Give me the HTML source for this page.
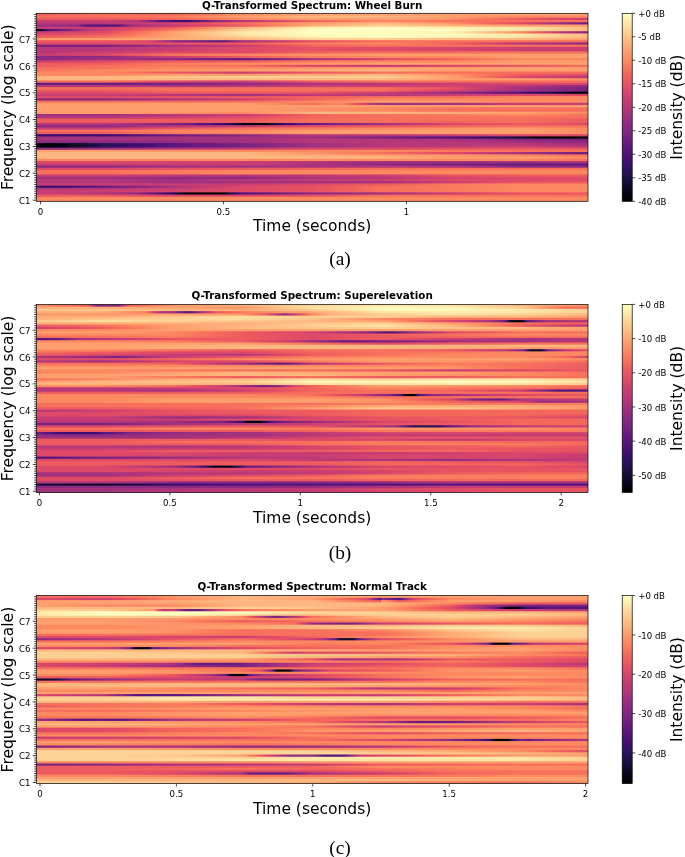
<!DOCTYPE html>
<html><head><meta charset="utf-8"><title>Q-Transformed Spectra</title>
<style>html,body{margin:0;padding:0;background:#fff}svg{display:block}text{opacity:.999;font-family:"DejaVu Sans","Liberation Sans",sans-serif;fill:#000}.t{font-size:8.6px}.l{font-size:15.5px}.h{font-size:10.35px;font-weight:bold}.c{font-family:"Liberation Serif","DejaVu Serif",serif;font-size:19.4px}</style></head><body>
<svg width="685" height="857" viewBox="0 0 685 857">
<rect width="685" height="857" fill="#fff"/>
<defs><filter id="vb" x="-0.01" y="-0.01" width="1.02" height="1.02"><feGaussianBlur stdDeviation="0 0.55"/></filter><linearGradient id="cb0" x1="0" y1="0" x2="0" y2="1"><stop offset="0.000" stop-color="#fcfdbf"/><stop offset="0.042" stop-color="#fdebac"/><stop offset="0.083" stop-color="#fed799"/><stop offset="0.125" stop-color="#fec488"/><stop offset="0.167" stop-color="#feb078"/><stop offset="0.208" stop-color="#fd9b6b"/><stop offset="0.250" stop-color="#fc8961"/><stop offset="0.292" stop-color="#f8745c"/><stop offset="0.333" stop-color="#f1605d"/><stop offset="0.375" stop-color="#e75263"/><stop offset="0.417" stop-color="#d8456c"/><stop offset="0.458" stop-color="#c73d73"/><stop offset="0.500" stop-color="#b73779"/><stop offset="0.542" stop-color="#a5317e"/><stop offset="0.583" stop-color="#932b80"/><stop offset="0.625" stop-color="#832681"/><stop offset="0.667" stop-color="#721f81"/><stop offset="0.708" stop-color="#601880"/><stop offset="0.750" stop-color="#51127c"/><stop offset="0.792" stop-color="#3f0f72"/><stop offset="0.833" stop-color="#2c115f"/><stop offset="0.875" stop-color="#1d1147"/><stop offset="0.917" stop-color="#100b2d"/><stop offset="0.958" stop-color="#050416"/><stop offset="1.000" stop-color="#000004"/></linearGradient><linearGradient id="g0_0"><stop offset="0.000" stop-color="#ed5a5f"/><stop offset="0.125" stop-color="#f7705c"/><stop offset="0.250" stop-color="#f2645c"/><stop offset="0.312" stop-color="#f8765c"/><stop offset="0.375" stop-color="#fc8961"/><stop offset="0.500" stop-color="#fe9f6d"/><stop offset="0.625" stop-color="#fe9f6d"/><stop offset="0.750" stop-color="#fe9f6d"/><stop offset="0.875" stop-color="#fe9f6d"/><stop offset="1.000" stop-color="#fe9f6d"/></linearGradient><linearGradient id="g0_1"><stop offset="0.000" stop-color="#f7705c"/><stop offset="0.125" stop-color="#f7705c"/><stop offset="0.250" stop-color="#f97b5d"/><stop offset="0.312" stop-color="#fc8e64"/><stop offset="0.375" stop-color="#fe9f6d"/><stop offset="0.500" stop-color="#feb77e"/><stop offset="0.625" stop-color="#feb77e"/><stop offset="0.750" stop-color="#fe9f6d"/><stop offset="0.875" stop-color="#fc8961"/><stop offset="1.000" stop-color="#fc8961"/></linearGradient><linearGradient id="g0_2"><stop offset="0.000" stop-color="#ed5a5f"/><stop offset="0.125" stop-color="#ed5a5f"/><stop offset="0.250" stop-color="#f2645c"/><stop offset="0.312" stop-color="#f8765c"/><stop offset="0.375" stop-color="#fc8961"/><stop offset="0.500" stop-color="#fe9f6d"/><stop offset="0.625" stop-color="#fe9f6d"/><stop offset="0.750" stop-color="#fd9467"/><stop offset="0.792" stop-color="#fa7f5e"/><stop offset="0.833" stop-color="#f66c5c"/><stop offset="0.875" stop-color="#ed5a5f"/><stop offset="0.937" stop-color="#de4968"/><stop offset="1.000" stop-color="#ca3e72"/></linearGradient><linearGradient id="g0_3"><stop offset="0.000" stop-color="#ca3e72"/><stop offset="0.125" stop-color="#ca3e72"/><stop offset="0.188" stop-color="#b73779"/><stop offset="0.197" stop-color="#a1307e"/><stop offset="0.206" stop-color="#8c2981"/><stop offset="0.215" stop-color="#782281"/><stop offset="0.224" stop-color="#641a80"/><stop offset="0.237" stop-color="#56147d"/><stop offset="0.250" stop-color="#451077"/><stop offset="0.279" stop-color="#3b0f70"/><stop offset="0.290" stop-color="#51127c"/><stop offset="0.301" stop-color="#641a80"/><stop offset="0.313" stop-color="#782281"/><stop offset="0.324" stop-color="#8c2981"/><stop offset="0.349" stop-color="#a1307e"/><stop offset="0.375" stop-color="#b73779"/><stop offset="0.416" stop-color="#cd4071"/><stop offset="0.458" stop-color="#e34e65"/><stop offset="0.500" stop-color="#f2645c"/><stop offset="0.562" stop-color="#f8765c"/><stop offset="0.625" stop-color="#fc8961"/><stop offset="0.750" stop-color="#f7705c"/><stop offset="0.875" stop-color="#f7705c"/><stop offset="1.000" stop-color="#f7705c"/></linearGradient><linearGradient id="g0_4"><stop offset="0.000" stop-color="#b73779"/><stop offset="0.125" stop-color="#b73779"/><stop offset="0.187" stop-color="#c53c74"/><stop offset="0.250" stop-color="#d5446d"/><stop offset="0.291" stop-color="#e34e65"/><stop offset="0.333" stop-color="#ef5d5e"/><stop offset="0.375" stop-color="#f7705c"/><stop offset="0.437" stop-color="#fc8961"/><stop offset="0.500" stop-color="#fe9f6d"/><stop offset="0.625" stop-color="#feb77e"/><stop offset="0.687" stop-color="#fea772"/><stop offset="0.750" stop-color="#fd9467"/><stop offset="0.792" stop-color="#f9785d"/><stop offset="0.833" stop-color="#ef5d5e"/><stop offset="0.875" stop-color="#de4968"/><stop offset="0.900" stop-color="#c73d73"/><stop offset="0.925" stop-color="#ad347c"/><stop offset="0.950" stop-color="#942c80"/><stop offset="0.975" stop-color="#7c2382"/><stop offset="1.000" stop-color="#641a80"/></linearGradient><linearGradient id="g0_5"><stop offset="0.000" stop-color="#a1307e"/><stop offset="0.079" stop-color="#8c2981"/><stop offset="0.085" stop-color="#782281"/><stop offset="0.091" stop-color="#641a80"/><stop offset="0.097" stop-color="#51127c"/><stop offset="0.125" stop-color="#51127c"/><stop offset="0.152" stop-color="#51127c"/><stop offset="0.159" stop-color="#641a80"/><stop offset="0.165" stop-color="#782281"/><stop offset="0.172" stop-color="#8c2981"/><stop offset="0.179" stop-color="#a1307e"/><stop offset="0.214" stop-color="#b0357b"/><stop offset="0.250" stop-color="#c03a76"/><stop offset="0.291" stop-color="#d2426f"/><stop offset="0.333" stop-color="#e04c67"/><stop offset="0.375" stop-color="#ed5a5f"/><stop offset="0.416" stop-color="#f8745c"/><stop offset="0.458" stop-color="#fc9065"/><stop offset="0.500" stop-color="#feac76"/><stop offset="0.562" stop-color="#febd82"/><stop offset="0.625" stop-color="#fecf92"/><stop offset="0.750" stop-color="#feb77e"/><stop offset="0.875" stop-color="#fe9f6d"/><stop offset="1.000" stop-color="#fe9f6d"/></linearGradient><linearGradient id="g0_6"><stop offset="0.000" stop-color="#ca3e72"/><stop offset="0.125" stop-color="#ca3e72"/><stop offset="0.187" stop-color="#de4968"/><stop offset="0.250" stop-color="#ed5a5f"/><stop offset="0.281" stop-color="#f7705c"/><stop offset="0.312" stop-color="#fc8961"/><stop offset="0.343" stop-color="#fe9f6d"/><stop offset="0.375" stop-color="#feb77e"/><stop offset="0.416" stop-color="#fecc8f"/><stop offset="0.458" stop-color="#fddea0"/><stop offset="0.500" stop-color="#fcf2b4"/><stop offset="0.625" stop-color="#fcfdbf"/><stop offset="0.750" stop-color="#fcf2b4"/><stop offset="0.875" stop-color="#fde7a9"/><stop offset="0.937" stop-color="#fecf92"/><stop offset="1.000" stop-color="#feb77e"/></linearGradient><linearGradient id="g0_7"><stop offset="0.000" stop-color="#03030f"/><stop offset="0.007" stop-color="#0a0822"/><stop offset="0.014" stop-color="#140e36"/><stop offset="0.019" stop-color="#251255"/><stop offset="0.024" stop-color="#3b0f70"/><stop offset="0.028" stop-color="#51127c"/><stop offset="0.045" stop-color="#641a80"/><stop offset="0.061" stop-color="#782281"/><stop offset="0.073" stop-color="#8c2981"/><stop offset="0.085" stop-color="#a1307e"/><stop offset="0.097" stop-color="#b73779"/><stop offset="0.125" stop-color="#ca3e72"/><stop offset="0.166" stop-color="#e24d66"/><stop offset="0.208" stop-color="#f2625d"/><stop offset="0.250" stop-color="#fa7d5e"/><stop offset="0.291" stop-color="#fd9a6a"/><stop offset="0.333" stop-color="#feb47b"/><stop offset="0.375" stop-color="#fecf92"/><stop offset="0.437" stop-color="#fde7a9"/><stop offset="0.500" stop-color="#fcfdbf"/><stop offset="0.625" stop-color="#fcfdbf"/><stop offset="0.750" stop-color="#fcfdbf"/><stop offset="0.875" stop-color="#fde7a9"/><stop offset="0.937" stop-color="#fecf92"/><stop offset="1.000" stop-color="#feb77e"/></linearGradient><linearGradient id="g0_8"><stop offset="0.000" stop-color="#ca3e72"/><stop offset="0.125" stop-color="#de4968"/><stop offset="0.156" stop-color="#ed5a5f"/><stop offset="0.187" stop-color="#f7705c"/><stop offset="0.218" stop-color="#fc8961"/><stop offset="0.250" stop-color="#fea36f"/><stop offset="0.291" stop-color="#feb97f"/><stop offset="0.333" stop-color="#fecf92"/><stop offset="0.375" stop-color="#fde7a9"/><stop offset="0.500" stop-color="#fcfdbf"/><stop offset="0.625" stop-color="#fcfdbf"/><stop offset="0.750" stop-color="#fcf2b4"/><stop offset="0.781" stop-color="#fed89a"/><stop offset="0.812" stop-color="#febd82"/><stop offset="0.844" stop-color="#fea36f"/><stop offset="0.875" stop-color="#fc8961"/><stop offset="0.893" stop-color="#f66c5c"/><stop offset="0.911" stop-color="#e95462"/><stop offset="0.929" stop-color="#d6456c"/><stop offset="0.946" stop-color="#bf3a77"/><stop offset="0.964" stop-color="#a6317d"/><stop offset="0.982" stop-color="#902a81"/><stop offset="1.000" stop-color="#782281"/></linearGradient><linearGradient id="g0_9"><stop offset="0.000" stop-color="#de4968"/><stop offset="0.125" stop-color="#ed5a5f"/><stop offset="0.166" stop-color="#f7705c"/><stop offset="0.208" stop-color="#fc8961"/><stop offset="0.250" stop-color="#fea36f"/><stop offset="0.291" stop-color="#feb97f"/><stop offset="0.333" stop-color="#fecf92"/><stop offset="0.375" stop-color="#fde7a9"/><stop offset="0.500" stop-color="#fcfdbf"/><stop offset="0.625" stop-color="#fcfdbf"/><stop offset="0.750" stop-color="#fcfdbf"/><stop offset="0.875" stop-color="#fde7a9"/><stop offset="0.937" stop-color="#fecf92"/><stop offset="1.000" stop-color="#feb77e"/></linearGradient><linearGradient id="g0_10"><stop offset="0.000" stop-color="#ed5a5f"/><stop offset="0.125" stop-color="#f7705c"/><stop offset="0.187" stop-color="#fc8961"/><stop offset="0.250" stop-color="#fea36f"/><stop offset="0.312" stop-color="#feb97f"/><stop offset="0.375" stop-color="#fecf92"/><stop offset="0.437" stop-color="#fde2a3"/><stop offset="0.500" stop-color="#fcf2b4"/><stop offset="0.625" stop-color="#fcfdbf"/><stop offset="0.750" stop-color="#fcf2b4"/><stop offset="0.875" stop-color="#fde7a9"/><stop offset="0.937" stop-color="#fecf92"/><stop offset="1.000" stop-color="#feb77e"/></linearGradient><linearGradient id="g0_11"><stop offset="0.000" stop-color="#fe9f6d"/><stop offset="0.125" stop-color="#fe9f6d"/><stop offset="0.250" stop-color="#feae77"/><stop offset="0.375" stop-color="#feb77e"/><stop offset="0.500" stop-color="#fecf92"/><stop offset="0.625" stop-color="#fecf92"/><stop offset="0.750" stop-color="#feb77e"/><stop offset="0.875" stop-color="#feb77e"/><stop offset="1.000" stop-color="#fe9f6d"/></linearGradient><linearGradient id="g0_12"><stop offset="0.000" stop-color="#ed5a5f"/><stop offset="0.125" stop-color="#ed5a5f"/><stop offset="0.206" stop-color="#de4968"/><stop offset="0.217" stop-color="#ca3e72"/><stop offset="0.228" stop-color="#b73779"/><stop offset="0.239" stop-color="#a1307e"/><stop offset="0.250" stop-color="#8c2981"/><stop offset="0.296" stop-color="#782281"/><stop offset="0.342" stop-color="#641a80"/><stop offset="0.353" stop-color="#782281"/><stop offset="0.364" stop-color="#8c2981"/><stop offset="0.375" stop-color="#a1307e"/><stop offset="0.416" stop-color="#ba3878"/><stop offset="0.458" stop-color="#d2426f"/><stop offset="0.500" stop-color="#e75263"/><stop offset="0.562" stop-color="#f05f5e"/><stop offset="0.625" stop-color="#f7705c"/><stop offset="0.750" stop-color="#f7705c"/><stop offset="0.875" stop-color="#f7705c"/><stop offset="1.000" stop-color="#f7705c"/></linearGradient><linearGradient id="g0_13"><stop offset="0.000" stop-color="#de4968"/><stop offset="0.125" stop-color="#de4968"/><stop offset="0.250" stop-color="#e75263"/><stop offset="0.375" stop-color="#ed5a5f"/><stop offset="0.437" stop-color="#f56b5c"/><stop offset="0.500" stop-color="#f97b5d"/><stop offset="0.625" stop-color="#fc8961"/><stop offset="0.687" stop-color="#f8765c"/><stop offset="0.750" stop-color="#f2645c"/><stop offset="0.792" stop-color="#e34e65"/><stop offset="0.833" stop-color="#cd4071"/><stop offset="0.875" stop-color="#b73779"/><stop offset="0.937" stop-color="#a1307e"/><stop offset="1.000" stop-color="#8c2981"/></linearGradient><linearGradient id="g0_14"><stop offset="0.000" stop-color="#782281"/><stop offset="0.125" stop-color="#782281"/><stop offset="0.166" stop-color="#892881"/><stop offset="0.208" stop-color="#992d80"/><stop offset="0.250" stop-color="#ab337c"/><stop offset="0.312" stop-color="#bc3978"/><stop offset="0.375" stop-color="#ca3e72"/><stop offset="0.416" stop-color="#db476a"/><stop offset="0.458" stop-color="#e95462"/><stop offset="0.500" stop-color="#f2645c"/><stop offset="0.625" stop-color="#f7705c"/><stop offset="0.750" stop-color="#f7705c"/><stop offset="0.875" stop-color="#f7705c"/><stop offset="1.000" stop-color="#f7705c"/></linearGradient><linearGradient id="g0_15"><stop offset="0.000" stop-color="#b73779"/><stop offset="0.125" stop-color="#b73779"/><stop offset="0.250" stop-color="#ca3e72"/><stop offset="0.375" stop-color="#de4968"/><stop offset="0.500" stop-color="#e75263"/><stop offset="0.625" stop-color="#de4968"/><stop offset="0.750" stop-color="#d5446d"/><stop offset="0.875" stop-color="#ca3e72"/><stop offset="1.000" stop-color="#ca3e72"/></linearGradient><linearGradient id="g0_16"><stop offset="0.000" stop-color="#b73779"/><stop offset="0.125" stop-color="#b73779"/><stop offset="0.250" stop-color="#ca3e72"/><stop offset="0.375" stop-color="#de4968"/><stop offset="0.500" stop-color="#e75263"/><stop offset="0.625" stop-color="#de4968"/><stop offset="0.750" stop-color="#d5446d"/><stop offset="0.875" stop-color="#ca3e72"/><stop offset="1.000" stop-color="#ca3e72"/></linearGradient><linearGradient id="g0_17"><stop offset="0.000" stop-color="#b73779"/><stop offset="0.125" stop-color="#ca3e72"/><stop offset="0.250" stop-color="#de4968"/><stop offset="0.375" stop-color="#de4968"/><stop offset="0.437" stop-color="#ea5661"/><stop offset="0.500" stop-color="#f2645c"/><stop offset="0.625" stop-color="#f7705c"/><stop offset="0.750" stop-color="#f7705c"/><stop offset="0.875" stop-color="#f7705c"/><stop offset="1.000" stop-color="#f7705c"/></linearGradient><linearGradient id="g0_18"><stop offset="0.000" stop-color="#ca3e72"/><stop offset="0.125" stop-color="#de4968"/><stop offset="0.166" stop-color="#eb5760"/><stop offset="0.208" stop-color="#f4675c"/><stop offset="0.250" stop-color="#f97b5d"/><stop offset="0.375" stop-color="#fc8961"/><stop offset="0.500" stop-color="#fd9467"/><stop offset="0.625" stop-color="#fe9f6d"/><stop offset="0.750" stop-color="#fe9f6d"/><stop offset="0.875" stop-color="#fe9f6d"/><stop offset="1.000" stop-color="#fe9f6d"/></linearGradient><linearGradient id="g0_19"><stop offset="0.000" stop-color="#8c2981"/><stop offset="0.125" stop-color="#8c2981"/><stop offset="0.166" stop-color="#a1307e"/><stop offset="0.208" stop-color="#b73779"/><stop offset="0.250" stop-color="#ca3e72"/><stop offset="0.312" stop-color="#de4968"/><stop offset="0.375" stop-color="#ed5a5f"/><stop offset="0.437" stop-color="#f56b5c"/><stop offset="0.500" stop-color="#f97b5d"/><stop offset="0.625" stop-color="#fc8961"/><stop offset="0.750" stop-color="#fc8961"/><stop offset="0.875" stop-color="#fe9f6d"/><stop offset="1.000" stop-color="#fe9f6d"/></linearGradient><linearGradient id="g0_20"><stop offset="0.000" stop-color="#8c2981"/><stop offset="0.125" stop-color="#a1307e"/><stop offset="0.250" stop-color="#8c2981"/><stop offset="0.312" stop-color="#782281"/><stop offset="0.375" stop-color="#641a80"/><stop offset="0.416" stop-color="#7b2382"/><stop offset="0.458" stop-color="#932b80"/><stop offset="0.500" stop-color="#ab337c"/><stop offset="0.541" stop-color="#bd3977"/><stop offset="0.583" stop-color="#cd4071"/><stop offset="0.625" stop-color="#de4968"/><stop offset="0.687" stop-color="#ea5661"/><stop offset="0.750" stop-color="#f2645c"/><stop offset="0.812" stop-color="#f8765c"/><stop offset="0.875" stop-color="#fc8961"/><stop offset="1.000" stop-color="#fc8961"/></linearGradient><linearGradient id="g0_21"><stop offset="0.000" stop-color="#ca3e72"/><stop offset="0.125" stop-color="#de4968"/><stop offset="0.250" stop-color="#ed5a5f"/><stop offset="0.375" stop-color="#ed5a5f"/><stop offset="0.437" stop-color="#f56b5c"/><stop offset="0.500" stop-color="#f97b5d"/><stop offset="0.625" stop-color="#fc8961"/><stop offset="0.750" stop-color="#fc8961"/><stop offset="0.875" stop-color="#fe9f6d"/><stop offset="1.000" stop-color="#fe9f6d"/></linearGradient><linearGradient id="g0_22"><stop offset="0.000" stop-color="#ed5a5f"/><stop offset="0.125" stop-color="#ed5a5f"/><stop offset="0.187" stop-color="#f56b5c"/><stop offset="0.250" stop-color="#f97b5d"/><stop offset="0.375" stop-color="#fc8961"/><stop offset="0.500" stop-color="#fd9467"/><stop offset="0.625" stop-color="#fe9f6d"/><stop offset="0.750" stop-color="#fe9f6d"/><stop offset="0.875" stop-color="#fe9f6d"/><stop offset="1.000" stop-color="#fe9f6d"/></linearGradient><linearGradient id="g0_23"><stop offset="0.000" stop-color="#ed5a5f"/><stop offset="0.125" stop-color="#f7705c"/><stop offset="0.250" stop-color="#f97b5d"/><stop offset="0.375" stop-color="#f7705c"/><stop offset="0.437" stop-color="#ed5a5f"/><stop offset="0.500" stop-color="#de4968"/><stop offset="0.625" stop-color="#ca3e72"/><stop offset="0.750" stop-color="#de4968"/><stop offset="0.875" stop-color="#ed5a5f"/><stop offset="1.000" stop-color="#f7705c"/></linearGradient><linearGradient id="g0_24"><stop offset="0.000" stop-color="#f7705c"/><stop offset="0.125" stop-color="#f7705c"/><stop offset="0.250" stop-color="#fc8961"/><stop offset="0.375" stop-color="#fc8961"/><stop offset="0.500" stop-color="#fd9467"/><stop offset="0.625" stop-color="#fe9f6d"/><stop offset="0.750" stop-color="#fe9f6d"/><stop offset="0.875" stop-color="#fe9f6d"/><stop offset="1.000" stop-color="#fe9f6d"/></linearGradient><linearGradient id="g0_25"><stop offset="0.000" stop-color="#f7705c"/><stop offset="0.125" stop-color="#fc8961"/><stop offset="0.250" stop-color="#fd9467"/><stop offset="0.375" stop-color="#fe9f6d"/><stop offset="0.500" stop-color="#feac76"/><stop offset="0.625" stop-color="#feb77e"/><stop offset="0.750" stop-color="#fe9f6d"/><stop offset="0.875" stop-color="#fe9f6d"/><stop offset="1.000" stop-color="#fe9f6d"/></linearGradient><linearGradient id="g0_26"><stop offset="0.000" stop-color="#fc8961"/><stop offset="0.125" stop-color="#fc8961"/><stop offset="0.187" stop-color="#f7705c"/><stop offset="0.250" stop-color="#ed5a5f"/><stop offset="0.312" stop-color="#de4968"/><stop offset="0.375" stop-color="#ca3e72"/><stop offset="0.437" stop-color="#de4968"/><stop offset="0.500" stop-color="#ed5a5f"/><stop offset="0.625" stop-color="#f7705c"/><stop offset="0.750" stop-color="#f7705c"/><stop offset="0.875" stop-color="#f7705c"/><stop offset="1.000" stop-color="#f7705c"/></linearGradient><linearGradient id="g0_27"><stop offset="0.000" stop-color="#fc8961"/><stop offset="0.125" stop-color="#fc8961"/><stop offset="0.250" stop-color="#fe9f6d"/><stop offset="0.375" stop-color="#fe9f6d"/><stop offset="0.500" stop-color="#feac76"/><stop offset="0.625" stop-color="#feb77e"/><stop offset="0.687" stop-color="#fea772"/><stop offset="0.750" stop-color="#fd9467"/><stop offset="0.792" stop-color="#fa7f5e"/><stop offset="0.833" stop-color="#f66c5c"/><stop offset="0.875" stop-color="#ed5a5f"/><stop offset="1.000" stop-color="#de4968"/></linearGradient><linearGradient id="g0_28"><stop offset="0.000" stop-color="#feb77e"/><stop offset="0.125" stop-color="#feb77e"/><stop offset="0.250" stop-color="#fec488"/><stop offset="0.375" stop-color="#fecf92"/><stop offset="0.500" stop-color="#fecf92"/><stop offset="0.625" stop-color="#fecf92"/><stop offset="0.687" stop-color="#feb77e"/><stop offset="0.750" stop-color="#fe9f6d"/><stop offset="0.781" stop-color="#fc8961"/><stop offset="0.812" stop-color="#f7705c"/><stop offset="0.844" stop-color="#ed5a5f"/><stop offset="0.875" stop-color="#de4968"/><stop offset="0.937" stop-color="#ca3e72"/><stop offset="1.000" stop-color="#b73779"/></linearGradient><linearGradient id="g0_29"><stop offset="0.000" stop-color="#feb77e"/><stop offset="0.125" stop-color="#feb77e"/><stop offset="0.250" stop-color="#feb77e"/><stop offset="0.375" stop-color="#feb77e"/><stop offset="0.500" stop-color="#feb77e"/><stop offset="0.625" stop-color="#feb77e"/><stop offset="0.750" stop-color="#fe9f6d"/><stop offset="0.875" stop-color="#fe9f6d"/><stop offset="1.000" stop-color="#fc8961"/></linearGradient><linearGradient id="g0_30"><stop offset="0.000" stop-color="#f7705c"/><stop offset="0.125" stop-color="#f7705c"/><stop offset="0.187" stop-color="#ed5a5f"/><stop offset="0.250" stop-color="#de4968"/><stop offset="0.375" stop-color="#ca3e72"/><stop offset="0.437" stop-color="#de4968"/><stop offset="0.500" stop-color="#ed5a5f"/><stop offset="0.625" stop-color="#f7705c"/><stop offset="0.750" stop-color="#f7705c"/><stop offset="0.875" stop-color="#f7705c"/><stop offset="1.000" stop-color="#f7705c"/></linearGradient><linearGradient id="g0_31"><stop offset="0.000" stop-color="#641a80"/><stop offset="0.125" stop-color="#641a80"/><stop offset="0.250" stop-color="#782281"/><stop offset="0.375" stop-color="#8c2981"/><stop offset="0.437" stop-color="#9c2e7f"/><stop offset="0.500" stop-color="#ab337c"/><stop offset="0.625" stop-color="#b73779"/><stop offset="0.750" stop-color="#ca3e72"/><stop offset="0.875" stop-color="#de4968"/><stop offset="1.000" stop-color="#de4968"/></linearGradient><linearGradient id="g0_32"><stop offset="0.000" stop-color="#b73779"/><stop offset="0.125" stop-color="#b73779"/><stop offset="0.250" stop-color="#ab337c"/><stop offset="0.375" stop-color="#b73779"/><stop offset="0.500" stop-color="#ca3e72"/><stop offset="0.625" stop-color="#ca3e72"/><stop offset="0.750" stop-color="#d5446d"/><stop offset="0.812" stop-color="#c53c74"/><stop offset="0.875" stop-color="#b73779"/><stop offset="0.937" stop-color="#a1307e"/><stop offset="1.000" stop-color="#8c2981"/></linearGradient><linearGradient id="g0_33"><stop offset="0.000" stop-color="#f7705c"/><stop offset="0.125" stop-color="#f7705c"/><stop offset="0.250" stop-color="#f7705c"/><stop offset="0.375" stop-color="#f7705c"/><stop offset="0.500" stop-color="#f7705c"/><stop offset="0.625" stop-color="#f7705c"/><stop offset="0.687" stop-color="#f05f5e"/><stop offset="0.750" stop-color="#e75263"/><stop offset="0.792" stop-color="#d2426f"/><stop offset="0.833" stop-color="#ba3878"/><stop offset="0.875" stop-color="#a1307e"/><stop offset="0.937" stop-color="#8c2981"/><stop offset="1.000" stop-color="#782281"/></linearGradient><linearGradient id="g0_34"><stop offset="0.000" stop-color="#ed5a5f"/><stop offset="0.125" stop-color="#ed5a5f"/><stop offset="0.250" stop-color="#f7705c"/><stop offset="0.375" stop-color="#f7705c"/><stop offset="0.500" stop-color="#f7705c"/><stop offset="0.625" stop-color="#f7705c"/><stop offset="0.666" stop-color="#ef5d5e"/><stop offset="0.708" stop-color="#e34e65"/><stop offset="0.750" stop-color="#d5446d"/><stop offset="0.792" stop-color="#c43c75"/><stop offset="0.833" stop-color="#b2357b"/><stop offset="0.875" stop-color="#a1307e"/><stop offset="0.937" stop-color="#8c2981"/><stop offset="1.000" stop-color="#782281"/></linearGradient><linearGradient id="g0_35"><stop offset="0.000" stop-color="#de4968"/><stop offset="0.125" stop-color="#de4968"/><stop offset="0.250" stop-color="#ed5a5f"/><stop offset="0.375" stop-color="#ed5a5f"/><stop offset="0.500" stop-color="#e75263"/><stop offset="0.562" stop-color="#d9466b"/><stop offset="0.625" stop-color="#ca3e72"/><stop offset="0.666" stop-color="#ba3878"/><stop offset="0.708" stop-color="#a8327d"/><stop offset="0.750" stop-color="#962c80"/><stop offset="0.792" stop-color="#7e2482"/><stop offset="0.833" stop-color="#671b80"/><stop offset="0.875" stop-color="#51127c"/><stop offset="0.900" stop-color="#3b0f70"/><stop offset="0.924" stop-color="#251255"/><stop offset="0.949" stop-color="#140e36"/><stop offset="0.963" stop-color="#06051a"/><stop offset="0.976" stop-color="#000004"/><stop offset="1.000" stop-color="#06051a"/></linearGradient><linearGradient id="g0_36"><stop offset="0.000" stop-color="#ca3e72"/><stop offset="0.125" stop-color="#ca3e72"/><stop offset="0.250" stop-color="#b73779"/><stop offset="0.375" stop-color="#a1307e"/><stop offset="0.437" stop-color="#b0357b"/><stop offset="0.500" stop-color="#c03a76"/><stop offset="0.625" stop-color="#b73779"/><stop offset="0.750" stop-color="#ca3e72"/><stop offset="0.875" stop-color="#de4968"/><stop offset="1.000" stop-color="#de4968"/></linearGradient><linearGradient id="g0_37"><stop offset="0.000" stop-color="#de4968"/><stop offset="0.125" stop-color="#de4968"/><stop offset="0.250" stop-color="#e75263"/><stop offset="0.375" stop-color="#ed5a5f"/><stop offset="0.500" stop-color="#f2645c"/><stop offset="0.625" stop-color="#f7705c"/><stop offset="0.750" stop-color="#f7705c"/><stop offset="0.875" stop-color="#fc8961"/><stop offset="1.000" stop-color="#fc8961"/></linearGradient><linearGradient id="g0_38"><stop offset="0.000" stop-color="#8c2981"/><stop offset="0.125" stop-color="#8c2981"/><stop offset="0.187" stop-color="#9c2e7f"/><stop offset="0.250" stop-color="#ab337c"/><stop offset="0.312" stop-color="#bc3978"/><stop offset="0.375" stop-color="#ca3e72"/><stop offset="0.416" stop-color="#db476a"/><stop offset="0.458" stop-color="#e95462"/><stop offset="0.500" stop-color="#f2645c"/><stop offset="0.562" stop-color="#f8765c"/><stop offset="0.625" stop-color="#fc8961"/><stop offset="0.750" stop-color="#fc8961"/><stop offset="0.875" stop-color="#fc8961"/><stop offset="1.000" stop-color="#fc8961"/></linearGradient><linearGradient id="g0_39"><stop offset="0.000" stop-color="#f7705c"/><stop offset="0.125" stop-color="#f7705c"/><stop offset="0.250" stop-color="#f7705c"/><stop offset="0.375" stop-color="#f7705c"/><stop offset="0.500" stop-color="#fc8961"/><stop offset="0.625" stop-color="#fe9f6d"/><stop offset="0.750" stop-color="#fd9467"/><stop offset="0.875" stop-color="#fc8961"/><stop offset="1.000" stop-color="#fc8961"/></linearGradient><linearGradient id="g0_40"><stop offset="0.000" stop-color="#fe9f6d"/><stop offset="0.125" stop-color="#fe9f6d"/><stop offset="0.250" stop-color="#fe9f6d"/><stop offset="0.375" stop-color="#fe9f6d"/><stop offset="0.437" stop-color="#fc8961"/><stop offset="0.500" stop-color="#f7705c"/><stop offset="0.550" stop-color="#fc8961"/><stop offset="0.565" stop-color="#f56b5c"/><stop offset="0.580" stop-color="#e85362"/><stop offset="0.595" stop-color="#d2426f"/><stop offset="0.610" stop-color="#ba3878"/><stop offset="0.625" stop-color="#a1307e"/><stop offset="0.750" stop-color="#a1307e"/><stop offset="0.812" stop-color="#b73779"/><stop offset="0.875" stop-color="#ca3e72"/><stop offset="1.000" stop-color="#ca3e72"/></linearGradient><linearGradient id="g0_42"><stop offset="0.000" stop-color="#fe9f6d"/><stop offset="0.125" stop-color="#fe9f6d"/><stop offset="0.250" stop-color="#fe9f6d"/><stop offset="0.375" stop-color="#fe9f6d"/><stop offset="0.500" stop-color="#fd9467"/><stop offset="0.625" stop-color="#fc8961"/><stop offset="0.750" stop-color="#f7705c"/><stop offset="0.875" stop-color="#f7705c"/><stop offset="1.000" stop-color="#f7705c"/></linearGradient><linearGradient id="g0_43"><stop offset="0.000" stop-color="#fe9f6d"/><stop offset="0.125" stop-color="#fe9f6d"/><stop offset="0.250" stop-color="#fe9f6d"/><stop offset="0.375" stop-color="#fe9f6d"/><stop offset="0.500" stop-color="#fd9467"/><stop offset="0.625" stop-color="#fc8961"/><stop offset="0.750" stop-color="#f7705c"/><stop offset="0.875" stop-color="#f7705c"/><stop offset="1.000" stop-color="#f7705c"/></linearGradient><linearGradient id="g0_44"><stop offset="0.000" stop-color="#fe9f6d"/><stop offset="0.125" stop-color="#fe9f6d"/><stop offset="0.250" stop-color="#fd9467"/><stop offset="0.375" stop-color="#fc8961"/><stop offset="0.437" stop-color="#fe9f6d"/><stop offset="0.500" stop-color="#feb77e"/><stop offset="0.625" stop-color="#feb77e"/><stop offset="0.750" stop-color="#feac76"/><stop offset="0.875" stop-color="#fe9f6d"/><stop offset="1.000" stop-color="#fc8961"/></linearGradient><linearGradient id="g0_45"><stop offset="0.000" stop-color="#a1307e"/><stop offset="0.125" stop-color="#a1307e"/><stop offset="0.250" stop-color="#b73779"/><stop offset="0.375" stop-color="#ca3e72"/><stop offset="0.416" stop-color="#db476a"/><stop offset="0.458" stop-color="#e95462"/><stop offset="0.500" stop-color="#f2645c"/><stop offset="0.625" stop-color="#f7705c"/><stop offset="0.750" stop-color="#f97b5d"/><stop offset="0.875" stop-color="#fc8961"/><stop offset="1.000" stop-color="#f7705c"/></linearGradient><linearGradient id="g0_46"><stop offset="0.000" stop-color="#b73779"/><stop offset="0.125" stop-color="#b73779"/><stop offset="0.250" stop-color="#ca3e72"/><stop offset="0.375" stop-color="#de4968"/><stop offset="0.437" stop-color="#ea5661"/><stop offset="0.500" stop-color="#f2645c"/><stop offset="0.625" stop-color="#f7705c"/><stop offset="0.750" stop-color="#f7705c"/><stop offset="0.875" stop-color="#f7705c"/><stop offset="1.000" stop-color="#f7705c"/></linearGradient><linearGradient id="g0_47"><stop offset="0.000" stop-color="#ed5a5f"/><stop offset="0.125" stop-color="#ed5a5f"/><stop offset="0.250" stop-color="#ed5a5f"/><stop offset="0.375" stop-color="#ed5a5f"/><stop offset="0.500" stop-color="#f7705c"/><stop offset="0.625" stop-color="#f7705c"/><stop offset="0.750" stop-color="#f7705c"/><stop offset="0.875" stop-color="#f7705c"/><stop offset="1.000" stop-color="#ed5a5f"/></linearGradient><linearGradient id="g0_48"><stop offset="0.000" stop-color="#ed5a5f"/><stop offset="0.125" stop-color="#ed5a5f"/><stop offset="0.250" stop-color="#ed5a5f"/><stop offset="0.375" stop-color="#ed5a5f"/><stop offset="0.500" stop-color="#f7705c"/><stop offset="0.625" stop-color="#f7705c"/><stop offset="0.750" stop-color="#f2645c"/><stop offset="0.875" stop-color="#f7705c"/><stop offset="1.000" stop-color="#ed5a5f"/></linearGradient><linearGradient id="g0_49"><stop offset="0.000" stop-color="#b73779"/><stop offset="0.125" stop-color="#b73779"/><stop offset="0.166" stop-color="#a5317e"/><stop offset="0.208" stop-color="#932b80"/><stop offset="0.250" stop-color="#832681"/><stop offset="0.280" stop-color="#6b1d81"/><stop offset="0.311" stop-color="#54137d"/><stop offset="0.342" stop-color="#3b0f70"/><stop offset="0.353" stop-color="#251255"/><stop offset="0.364" stop-color="#140e36"/><stop offset="0.375" stop-color="#06051a"/><stop offset="0.409" stop-color="#000004"/><stop offset="0.420" stop-color="#06051a"/><stop offset="0.430" stop-color="#140e36"/><stop offset="0.440" stop-color="#251255"/><stop offset="0.451" stop-color="#3b0f70"/><stop offset="0.475" stop-color="#51127c"/><stop offset="0.500" stop-color="#641a80"/><stop offset="0.541" stop-color="#782281"/><stop offset="0.583" stop-color="#8c2981"/><stop offset="0.625" stop-color="#a1307e"/><stop offset="0.666" stop-color="#b73779"/><stop offset="0.708" stop-color="#ca3e72"/><stop offset="0.750" stop-color="#de4968"/><stop offset="0.875" stop-color="#ed5a5f"/><stop offset="1.000" stop-color="#de4968"/></linearGradient><linearGradient id="g0_50"><stop offset="0.000" stop-color="#8c2981"/><stop offset="0.125" stop-color="#8c2981"/><stop offset="0.187" stop-color="#a1307e"/><stop offset="0.250" stop-color="#b73779"/><stop offset="0.375" stop-color="#ca3e72"/><stop offset="0.437" stop-color="#d9466b"/><stop offset="0.500" stop-color="#e75263"/><stop offset="0.625" stop-color="#ed5a5f"/><stop offset="0.750" stop-color="#f2645c"/><stop offset="0.875" stop-color="#f7705c"/><stop offset="1.000" stop-color="#f7705c"/></linearGradient><linearGradient id="g0_51"><stop offset="0.000" stop-color="#ca3e72"/><stop offset="0.125" stop-color="#ca3e72"/><stop offset="0.187" stop-color="#de4968"/><stop offset="0.250" stop-color="#ed5a5f"/><stop offset="0.375" stop-color="#f7705c"/><stop offset="0.500" stop-color="#f97b5d"/><stop offset="0.625" stop-color="#fc8961"/><stop offset="0.750" stop-color="#fd9467"/><stop offset="0.875" stop-color="#fe9f6d"/><stop offset="1.000" stop-color="#fc8961"/></linearGradient><linearGradient id="g0_52"><stop offset="0.000" stop-color="#f7705c"/><stop offset="0.125" stop-color="#f7705c"/><stop offset="0.250" stop-color="#fc8961"/><stop offset="0.375" stop-color="#fc8961"/><stop offset="0.500" stop-color="#fe9f6d"/><stop offset="0.625" stop-color="#fe9f6d"/><stop offset="0.750" stop-color="#fe9f6d"/><stop offset="0.875" stop-color="#fe9f6d"/><stop offset="1.000" stop-color="#fc8961"/></linearGradient><linearGradient id="g0_53"><stop offset="0.000" stop-color="#ed5a5f"/><stop offset="0.125" stop-color="#ed5a5f"/><stop offset="0.187" stop-color="#f56b5c"/><stop offset="0.250" stop-color="#f97b5d"/><stop offset="0.375" stop-color="#fc8961"/><stop offset="0.500" stop-color="#fe9f6d"/><stop offset="0.625" stop-color="#fe9f6d"/><stop offset="0.750" stop-color="#fe9f6d"/><stop offset="0.875" stop-color="#fe9f6d"/><stop offset="1.000" stop-color="#fc8961"/></linearGradient><linearGradient id="g0_54"><stop offset="0.000" stop-color="#3b0f70"/><stop offset="0.125" stop-color="#3b0f70"/><stop offset="0.166" stop-color="#4c117a"/><stop offset="0.208" stop-color="#5d177f"/><stop offset="0.250" stop-color="#6e1e81"/><stop offset="0.312" stop-color="#7c2382"/><stop offset="0.375" stop-color="#8c2981"/><stop offset="0.437" stop-color="#a1307e"/><stop offset="0.500" stop-color="#b73779"/><stop offset="0.625" stop-color="#b73779"/><stop offset="0.750" stop-color="#ca3e72"/><stop offset="0.875" stop-color="#de4968"/><stop offset="1.000" stop-color="#de4968"/></linearGradient><linearGradient id="g0_55"><stop offset="0.000" stop-color="#a1307e"/><stop offset="0.125" stop-color="#a1307e"/><stop offset="0.250" stop-color="#a1307e"/><stop offset="0.375" stop-color="#a1307e"/><stop offset="0.500" stop-color="#a1307e"/><stop offset="0.562" stop-color="#8c2981"/><stop offset="0.625" stop-color="#782281"/><stop offset="0.687" stop-color="#641a80"/><stop offset="0.750" stop-color="#51127c"/><stop offset="0.795" stop-color="#3b0f70"/><stop offset="0.840" stop-color="#251255"/><stop offset="0.875" stop-color="#140e36"/><stop offset="0.898" stop-color="#06051a"/><stop offset="0.922" stop-color="#000004"/><stop offset="1.000" stop-color="#000004"/></linearGradient><linearGradient id="g0_56"><stop offset="0.000" stop-color="#a1307e"/><stop offset="0.125" stop-color="#a1307e"/><stop offset="0.250" stop-color="#a1307e"/><stop offset="0.375" stop-color="#a1307e"/><stop offset="0.500" stop-color="#b73779"/><stop offset="0.625" stop-color="#b73779"/><stop offset="0.750" stop-color="#ab337c"/><stop offset="0.812" stop-color="#9c2e7f"/><stop offset="0.875" stop-color="#8c2981"/><stop offset="1.000" stop-color="#782281"/></linearGradient><linearGradient id="g0_57"><stop offset="0.000" stop-color="#8c2981"/><stop offset="0.125" stop-color="#8c2981"/><stop offset="0.250" stop-color="#962c80"/><stop offset="0.375" stop-color="#a1307e"/><stop offset="0.500" stop-color="#b73779"/><stop offset="0.625" stop-color="#b73779"/><stop offset="0.750" stop-color="#b73779"/><stop offset="0.875" stop-color="#a1307e"/><stop offset="1.000" stop-color="#8c2981"/></linearGradient><linearGradient id="g0_58"><stop offset="0.000" stop-color="#06051a"/><stop offset="0.025" stop-color="#000004"/><stop offset="0.058" stop-color="#06051a"/><stop offset="0.091" stop-color="#140e36"/><stop offset="0.125" stop-color="#251255"/><stop offset="0.166" stop-color="#38106c"/><stop offset="0.208" stop-color="#491078"/><stop offset="0.250" stop-color="#5a167e"/><stop offset="0.312" stop-color="#6a1c81"/><stop offset="0.375" stop-color="#782281"/><stop offset="0.437" stop-color="#8c2981"/><stop offset="0.500" stop-color="#a1307e"/><stop offset="0.625" stop-color="#b73779"/><stop offset="0.750" stop-color="#b73779"/><stop offset="0.875" stop-color="#b73779"/><stop offset="1.000" stop-color="#a1307e"/></linearGradient><linearGradient id="g0_59"><stop offset="0.000" stop-color="#03030f"/><stop offset="0.025" stop-color="#000004"/><stop offset="0.058" stop-color="#06051a"/><stop offset="0.091" stop-color="#140e36"/><stop offset="0.125" stop-color="#251255"/><stop offset="0.166" stop-color="#38106c"/><stop offset="0.208" stop-color="#491078"/><stop offset="0.250" stop-color="#5a167e"/><stop offset="0.312" stop-color="#6a1c81"/><stop offset="0.375" stop-color="#782281"/><stop offset="0.437" stop-color="#8c2981"/><stop offset="0.500" stop-color="#a1307e"/><stop offset="0.625" stop-color="#b73779"/><stop offset="0.750" stop-color="#c03a76"/><stop offset="0.875" stop-color="#ca3e72"/><stop offset="1.000" stop-color="#b73779"/></linearGradient><linearGradient id="g0_60"><stop offset="0.000" stop-color="#8c2981"/><stop offset="0.125" stop-color="#a1307e"/><stop offset="0.250" stop-color="#b73779"/><stop offset="0.375" stop-color="#ca3e72"/><stop offset="0.500" stop-color="#de4968"/><stop offset="0.625" stop-color="#de4968"/><stop offset="0.750" stop-color="#e75263"/><stop offset="0.875" stop-color="#ed5a5f"/><stop offset="1.000" stop-color="#ed5a5f"/></linearGradient><linearGradient id="g0_61"><stop offset="0.000" stop-color="#fe9f6d"/><stop offset="0.125" stop-color="#fe9f6d"/><stop offset="0.250" stop-color="#fd9467"/><stop offset="0.375" stop-color="#fc8961"/><stop offset="0.500" stop-color="#fc8961"/><stop offset="0.625" stop-color="#fc8961"/><stop offset="0.750" stop-color="#f97b5d"/><stop offset="0.875" stop-color="#f7705c"/><stop offset="1.000" stop-color="#f7705c"/></linearGradient><linearGradient id="g0_62"><stop offset="0.000" stop-color="#feb77e"/><stop offset="0.125" stop-color="#feb77e"/><stop offset="0.250" stop-color="#feb77e"/><stop offset="0.375" stop-color="#feb77e"/><stop offset="0.437" stop-color="#fea772"/><stop offset="0.500" stop-color="#fd9467"/><stop offset="0.562" stop-color="#fa815f"/><stop offset="0.625" stop-color="#f7705c"/><stop offset="0.687" stop-color="#ed5a5f"/><stop offset="0.750" stop-color="#de4968"/><stop offset="0.792" stop-color="#ca3e72"/><stop offset="0.833" stop-color="#b73779"/><stop offset="0.875" stop-color="#a1307e"/><stop offset="0.917" stop-color="#8c2981"/><stop offset="0.958" stop-color="#782281"/><stop offset="1.000" stop-color="#641a80"/></linearGradient><linearGradient id="g0_63"><stop offset="0.000" stop-color="#feb77e"/><stop offset="0.125" stop-color="#feb77e"/><stop offset="0.250" stop-color="#feb77e"/><stop offset="0.375" stop-color="#feb77e"/><stop offset="0.500" stop-color="#feac76"/><stop offset="0.625" stop-color="#fe9f6d"/><stop offset="0.750" stop-color="#fd9467"/><stop offset="0.875" stop-color="#fc8961"/><stop offset="1.000" stop-color="#f7705c"/></linearGradient><linearGradient id="g0_64"><stop offset="0.000" stop-color="#feb77e"/><stop offset="0.125" stop-color="#feb77e"/><stop offset="0.250" stop-color="#feb77e"/><stop offset="0.375" stop-color="#feb77e"/><stop offset="0.500" stop-color="#feb77e"/><stop offset="0.625" stop-color="#feb77e"/><stop offset="0.750" stop-color="#fe9f6d"/><stop offset="0.875" stop-color="#fe9f6d"/><stop offset="1.000" stop-color="#fc8961"/></linearGradient><linearGradient id="g0_65"><stop offset="0.000" stop-color="#fc8961"/><stop offset="0.125" stop-color="#fc8961"/><stop offset="0.250" stop-color="#fc8961"/><stop offset="0.375" stop-color="#fc8961"/><stop offset="0.500" stop-color="#fc8961"/><stop offset="0.625" stop-color="#fc8961"/><stop offset="0.750" stop-color="#fc8961"/><stop offset="0.875" stop-color="#fc8961"/><stop offset="1.000" stop-color="#f7705c"/></linearGradient><linearGradient id="g0_66"><stop offset="0.000" stop-color="#de4968"/><stop offset="0.125" stop-color="#de4968"/><stop offset="0.250" stop-color="#d5446d"/><stop offset="0.375" stop-color="#ca3e72"/><stop offset="0.500" stop-color="#b73779"/><stop offset="0.625" stop-color="#a1307e"/><stop offset="0.750" stop-color="#a1307e"/><stop offset="0.875" stop-color="#a1307e"/><stop offset="1.000" stop-color="#b73779"/></linearGradient><linearGradient id="g0_67"><stop offset="0.000" stop-color="#ca3e72"/><stop offset="0.125" stop-color="#ca3e72"/><stop offset="0.250" stop-color="#ca3e72"/><stop offset="0.375" stop-color="#ca3e72"/><stop offset="0.437" stop-color="#bc3978"/><stop offset="0.500" stop-color="#ab337c"/><stop offset="0.562" stop-color="#9c2e7f"/><stop offset="0.625" stop-color="#8c2981"/><stop offset="0.750" stop-color="#782281"/><stop offset="0.875" stop-color="#641a80"/><stop offset="1.000" stop-color="#641a80"/></linearGradient><linearGradient id="g0_68"><stop offset="0.000" stop-color="#8c2981"/><stop offset="0.125" stop-color="#8c2981"/><stop offset="0.250" stop-color="#a1307e"/><stop offset="0.375" stop-color="#a1307e"/><stop offset="0.500" stop-color="#ab337c"/><stop offset="0.625" stop-color="#b73779"/><stop offset="0.750" stop-color="#ab337c"/><stop offset="0.812" stop-color="#9c2e7f"/><stop offset="0.875" stop-color="#8c2981"/><stop offset="1.000" stop-color="#8c2981"/></linearGradient><linearGradient id="g0_69"><stop offset="0.000" stop-color="#de4968"/><stop offset="0.125" stop-color="#de4968"/><stop offset="0.250" stop-color="#e75263"/><stop offset="0.375" stop-color="#ed5a5f"/><stop offset="0.500" stop-color="#f2645c"/><stop offset="0.625" stop-color="#f7705c"/><stop offset="0.750" stop-color="#f7705c"/><stop offset="0.875" stop-color="#f7705c"/><stop offset="1.000" stop-color="#f7705c"/></linearGradient><linearGradient id="g0_70"><stop offset="0.000" stop-color="#f7705c"/><stop offset="0.125" stop-color="#f7705c"/><stop offset="0.250" stop-color="#f97b5d"/><stop offset="0.375" stop-color="#fc8961"/><stop offset="0.500" stop-color="#fc8961"/><stop offset="0.625" stop-color="#fc8961"/><stop offset="0.750" stop-color="#fc8961"/><stop offset="0.875" stop-color="#fc8961"/><stop offset="1.000" stop-color="#fc8961"/></linearGradient><linearGradient id="g0_71"><stop offset="0.000" stop-color="#f7705c"/><stop offset="0.125" stop-color="#f7705c"/><stop offset="0.250" stop-color="#f97b5d"/><stop offset="0.375" stop-color="#fc8961"/><stop offset="0.500" stop-color="#fc8961"/><stop offset="0.625" stop-color="#fc8961"/><stop offset="0.750" stop-color="#fc8961"/><stop offset="0.875" stop-color="#fc8961"/><stop offset="1.000" stop-color="#fc8961"/></linearGradient><linearGradient id="g0_72"><stop offset="0.000" stop-color="#ca3e72"/><stop offset="0.125" stop-color="#ca3e72"/><stop offset="0.250" stop-color="#c03a76"/><stop offset="0.375" stop-color="#b73779"/><stop offset="0.500" stop-color="#c03a76"/><stop offset="0.625" stop-color="#ca3e72"/><stop offset="0.687" stop-color="#d9466b"/><stop offset="0.750" stop-color="#e75263"/><stop offset="0.875" stop-color="#ed5a5f"/><stop offset="1.000" stop-color="#ed5a5f"/></linearGradient><linearGradient id="g0_73"><stop offset="0.000" stop-color="#a1307e"/><stop offset="0.125" stop-color="#a1307e"/><stop offset="0.250" stop-color="#962c80"/><stop offset="0.375" stop-color="#8c2981"/><stop offset="0.437" stop-color="#9c2e7f"/><stop offset="0.500" stop-color="#ab337c"/><stop offset="0.625" stop-color="#b73779"/><stop offset="0.687" stop-color="#c53c74"/><stop offset="0.750" stop-color="#d5446d"/><stop offset="0.875" stop-color="#de4968"/><stop offset="1.000" stop-color="#e44f64"/></linearGradient><linearGradient id="g0_74"><stop offset="0.000" stop-color="#b73779"/><stop offset="0.125" stop-color="#b73779"/><stop offset="0.250" stop-color="#a1307e"/><stop offset="0.375" stop-color="#b73779"/><stop offset="0.500" stop-color="#c03a76"/><stop offset="0.625" stop-color="#ca3e72"/><stop offset="0.750" stop-color="#de4968"/><stop offset="0.875" stop-color="#de4968"/><stop offset="1.000" stop-color="#de4968"/></linearGradient><linearGradient id="g0_75"><stop offset="0.000" stop-color="#b73779"/><stop offset="0.125" stop-color="#b73779"/><stop offset="0.250" stop-color="#a1307e"/><stop offset="0.375" stop-color="#a1307e"/><stop offset="0.500" stop-color="#a1307e"/><stop offset="0.625" stop-color="#a1307e"/><stop offset="0.687" stop-color="#b73779"/><stop offset="0.750" stop-color="#ca3e72"/><stop offset="0.812" stop-color="#db476a"/><stop offset="0.875" stop-color="#e85362"/><stop offset="1.000" stop-color="#ed5a5f"/></linearGradient><linearGradient id="g0_76"><stop offset="0.000" stop-color="#ca3e72"/><stop offset="0.125" stop-color="#ca3e72"/><stop offset="0.250" stop-color="#ca3e72"/><stop offset="0.375" stop-color="#ca3e72"/><stop offset="0.500" stop-color="#de4968"/><stop offset="0.625" stop-color="#ed5a5f"/><stop offset="0.687" stop-color="#f56b5c"/><stop offset="0.750" stop-color="#f97b5d"/><stop offset="0.875" stop-color="#fc8961"/><stop offset="1.000" stop-color="#fc8961"/></linearGradient><linearGradient id="g0_77"><stop offset="0.000" stop-color="#3b0f70"/><stop offset="0.043" stop-color="#3b0f70"/><stop offset="0.084" stop-color="#51127c"/><stop offset="0.125" stop-color="#641a80"/><stop offset="0.166" stop-color="#7b2382"/><stop offset="0.208" stop-color="#932b80"/><stop offset="0.250" stop-color="#ab337c"/><stop offset="0.291" stop-color="#bd3977"/><stop offset="0.333" stop-color="#cd4071"/><stop offset="0.375" stop-color="#de4968"/><stop offset="0.500" stop-color="#e75263"/><stop offset="0.562" stop-color="#f05f5e"/><stop offset="0.625" stop-color="#f7705c"/><stop offset="0.750" stop-color="#f97b5d"/><stop offset="0.875" stop-color="#fc8961"/><stop offset="1.000" stop-color="#fc8961"/></linearGradient><linearGradient id="g0_78"><stop offset="0.000" stop-color="#b73779"/><stop offset="0.125" stop-color="#b73779"/><stop offset="0.250" stop-color="#ca3e72"/><stop offset="0.375" stop-color="#de4968"/><stop offset="0.500" stop-color="#e75263"/><stop offset="0.562" stop-color="#f05f5e"/><stop offset="0.625" stop-color="#f7705c"/><stop offset="0.750" stop-color="#f97b5d"/><stop offset="0.875" stop-color="#fc8961"/><stop offset="1.000" stop-color="#fc8961"/></linearGradient><linearGradient id="g0_79"><stop offset="0.000" stop-color="#ca3e72"/><stop offset="0.125" stop-color="#ca3e72"/><stop offset="0.250" stop-color="#d5446d"/><stop offset="0.375" stop-color="#de4968"/><stop offset="0.500" stop-color="#e75263"/><stop offset="0.562" stop-color="#f05f5e"/><stop offset="0.625" stop-color="#f7705c"/><stop offset="0.750" stop-color="#f97b5d"/><stop offset="0.875" stop-color="#fc8961"/><stop offset="1.000" stop-color="#fc8961"/></linearGradient><linearGradient id="g0_80"><stop offset="0.000" stop-color="#ca3e72"/><stop offset="0.125" stop-color="#b73779"/><stop offset="0.156" stop-color="#a1307e"/><stop offset="0.188" stop-color="#8c2981"/><stop offset="0.203" stop-color="#762181"/><stop offset="0.219" stop-color="#5f187f"/><stop offset="0.234" stop-color="#491078"/><stop offset="0.250" stop-color="#2f1163"/><stop offset="0.258" stop-color="#19103f"/><stop offset="0.267" stop-color="#08071e"/><stop offset="0.275" stop-color="#000004"/><stop offset="0.337" stop-color="#000004"/><stop offset="0.343" stop-color="#06051a"/><stop offset="0.349" stop-color="#140e36"/><stop offset="0.355" stop-color="#251255"/><stop offset="0.365" stop-color="#3b0f70"/><stop offset="0.375" stop-color="#51127c"/><stop offset="0.416" stop-color="#641a80"/><stop offset="0.458" stop-color="#782281"/><stop offset="0.500" stop-color="#8c2981"/><stop offset="0.625" stop-color="#a1307e"/><stop offset="0.687" stop-color="#b73779"/><stop offset="0.750" stop-color="#ca3e72"/><stop offset="0.812" stop-color="#db476a"/><stop offset="0.875" stop-color="#e85362"/><stop offset="1.000" stop-color="#ed5a5f"/></linearGradient><linearGradient id="g0_81"><stop offset="0.000" stop-color="#ed5a5f"/><stop offset="0.125" stop-color="#ed5a5f"/><stop offset="0.250" stop-color="#de4968"/><stop offset="0.375" stop-color="#de4968"/><stop offset="0.500" stop-color="#e75263"/><stop offset="0.562" stop-color="#f05f5e"/><stop offset="0.625" stop-color="#f7705c"/><stop offset="0.750" stop-color="#f7705c"/><stop offset="0.875" stop-color="#f7705c"/><stop offset="1.000" stop-color="#f7705c"/></linearGradient><clipPath id="cp0"><rect x="36.30" y="13.30" width="551.70" height="188.00"/></clipPath><linearGradient id="cb1" x1="0" y1="0" x2="0" y2="1"><stop offset="0.000" stop-color="#fcfdbf"/><stop offset="0.042" stop-color="#fdebac"/><stop offset="0.083" stop-color="#fed799"/><stop offset="0.125" stop-color="#fec488"/><stop offset="0.167" stop-color="#feb078"/><stop offset="0.208" stop-color="#fd9b6b"/><stop offset="0.250" stop-color="#fc8961"/><stop offset="0.292" stop-color="#f8745c"/><stop offset="0.333" stop-color="#f1605d"/><stop offset="0.375" stop-color="#e75263"/><stop offset="0.417" stop-color="#d8456c"/><stop offset="0.458" stop-color="#c73d73"/><stop offset="0.500" stop-color="#b73779"/><stop offset="0.542" stop-color="#a5317e"/><stop offset="0.583" stop-color="#932b80"/><stop offset="0.625" stop-color="#832681"/><stop offset="0.667" stop-color="#721f81"/><stop offset="0.708" stop-color="#601880"/><stop offset="0.750" stop-color="#51127c"/><stop offset="0.792" stop-color="#3f0f72"/><stop offset="0.833" stop-color="#2c115f"/><stop offset="0.875" stop-color="#1d1147"/><stop offset="0.917" stop-color="#100b2d"/><stop offset="0.958" stop-color="#050416"/><stop offset="1.000" stop-color="#000004"/></linearGradient><linearGradient id="g1_0"><stop offset="0.000" stop-color="#fd9668"/><stop offset="0.032" stop-color="#fa815f"/><stop offset="0.065" stop-color="#f66c5c"/><stop offset="0.097" stop-color="#ed5a5f"/><stop offset="0.101" stop-color="#db476a"/><stop offset="0.105" stop-color="#c23b75"/><stop offset="0.108" stop-color="#aa337d"/><stop offset="0.112" stop-color="#902a81"/><stop offset="0.115" stop-color="#782281"/><stop offset="0.125" stop-color="#8c2981"/><stop offset="0.152" stop-color="#782281"/><stop offset="0.155" stop-color="#902a81"/><stop offset="0.159" stop-color="#aa337d"/><stop offset="0.163" stop-color="#c23b75"/><stop offset="0.166" stop-color="#db476a"/><stop offset="0.170" stop-color="#ed5a5f"/><stop offset="0.196" stop-color="#f66c5c"/><stop offset="0.223" stop-color="#fa815f"/><stop offset="0.250" stop-color="#fd9668"/><stop offset="0.375" stop-color="#feae77"/><stop offset="0.437" stop-color="#fec287"/><stop offset="0.500" stop-color="#fed799"/><stop offset="0.625" stop-color="#fde2a3"/><stop offset="0.750" stop-color="#fde2a3"/><stop offset="0.812" stop-color="#fecd90"/><stop offset="0.875" stop-color="#feb77e"/><stop offset="0.937" stop-color="#fe9f6d"/><stop offset="1.000" stop-color="#fc8961"/></linearGradient><linearGradient id="g1_1"><stop offset="0.000" stop-color="#feae77"/><stop offset="0.125" stop-color="#feae77"/><stop offset="0.250" stop-color="#fea36f"/><stop offset="0.375" stop-color="#fd9668"/><stop offset="0.416" stop-color="#feb078"/><stop offset="0.458" stop-color="#fec88c"/><stop offset="0.500" stop-color="#fde2a3"/><stop offset="0.625" stop-color="#fcf9bb"/><stop offset="0.750" stop-color="#fcf9bb"/><stop offset="0.812" stop-color="#fde3a5"/><stop offset="0.875" stop-color="#fecf92"/><stop offset="0.894" stop-color="#feb77e"/><stop offset="0.912" stop-color="#fe9f6d"/><stop offset="0.931" stop-color="#fc8961"/><stop offset="0.949" stop-color="#f7705c"/><stop offset="1.000" stop-color="#f7705c"/></linearGradient><linearGradient id="g1_2"><stop offset="0.000" stop-color="#fec68a"/><stop offset="0.125" stop-color="#fec68a"/><stop offset="0.250" stop-color="#feb97f"/><stop offset="0.375" stop-color="#feae77"/><stop offset="0.500" stop-color="#feca8d"/><stop offset="0.562" stop-color="#fde2a3"/><stop offset="0.625" stop-color="#fcf9bb"/><stop offset="0.750" stop-color="#fcf9bb"/><stop offset="0.875" stop-color="#fde7a9"/><stop offset="1.000" stop-color="#fecf92"/></linearGradient><linearGradient id="g1_3"><stop offset="0.000" stop-color="#feae77"/><stop offset="0.125" stop-color="#feae77"/><stop offset="0.163" stop-color="#fd9668"/><stop offset="0.202" stop-color="#fa7d5e"/><stop offset="0.208" stop-color="#f2645c"/><stop offset="0.213" stop-color="#e34e65"/><stop offset="0.219" stop-color="#cd4071"/><stop offset="0.224" stop-color="#b73779"/><stop offset="0.250" stop-color="#a1307e"/><stop offset="0.257" stop-color="#8c2981"/><stop offset="0.264" stop-color="#782281"/><stop offset="0.271" stop-color="#641a80"/><stop offset="0.279" stop-color="#51127c"/><stop offset="0.284" stop-color="#641a80"/><stop offset="0.289" stop-color="#782281"/><stop offset="0.295" stop-color="#8c2981"/><stop offset="0.300" stop-color="#a1307e"/><stop offset="0.308" stop-color="#b73779"/><stop offset="0.315" stop-color="#ca3e72"/><stop offset="0.322" stop-color="#de4968"/><stop offset="0.329" stop-color="#ed5a5f"/><stop offset="0.352" stop-color="#f56b5c"/><stop offset="0.375" stop-color="#fa7d5e"/><stop offset="0.437" stop-color="#fd9266"/><stop offset="0.500" stop-color="#fea772"/><stop offset="0.541" stop-color="#febb81"/><stop offset="0.583" stop-color="#fecd90"/><stop offset="0.625" stop-color="#fde2a3"/><stop offset="0.750" stop-color="#fceeb0"/><stop offset="0.875" stop-color="#fde7a9"/><stop offset="1.000" stop-color="#fecf92"/></linearGradient><linearGradient id="g1_4"><stop offset="0.000" stop-color="#fd9668"/><stop offset="0.125" stop-color="#fd9668"/><stop offset="0.250" stop-color="#fea36f"/><stop offset="0.375" stop-color="#fd9668"/><stop offset="0.390" stop-color="#fa815f"/><stop offset="0.405" stop-color="#f66c5c"/><stop offset="0.420" stop-color="#ed5a5f"/><stop offset="0.426" stop-color="#de4968"/><stop offset="0.432" stop-color="#ca3e72"/><stop offset="0.438" stop-color="#b73779"/><stop offset="0.445" stop-color="#a1307e"/><stop offset="0.451" stop-color="#8c2981"/><stop offset="0.458" stop-color="#a1307e"/><stop offset="0.464" stop-color="#b73779"/><stop offset="0.471" stop-color="#ca3e72"/><stop offset="0.478" stop-color="#de4968"/><stop offset="0.485" stop-color="#ec5860"/><stop offset="0.492" stop-color="#f66c5c"/><stop offset="0.500" stop-color="#fb835f"/><stop offset="0.516" stop-color="#fd9b6b"/><stop offset="0.532" stop-color="#feb47b"/><stop offset="0.625" stop-color="#feca8d"/><stop offset="0.750" stop-color="#fde2a3"/><stop offset="0.875" stop-color="#fecf92"/><stop offset="1.000" stop-color="#feb77e"/></linearGradient><linearGradient id="g1_5"><stop offset="0.000" stop-color="#feae77"/><stop offset="0.125" stop-color="#feae77"/><stop offset="0.250" stop-color="#fec68a"/><stop offset="0.375" stop-color="#fddea0"/><stop offset="0.500" stop-color="#fecf92"/><stop offset="0.625" stop-color="#fecf92"/><stop offset="0.750" stop-color="#feb77e"/><stop offset="0.875" stop-color="#feb77e"/><stop offset="1.000" stop-color="#fe9f6d"/></linearGradient><linearGradient id="g1_6"><stop offset="0.000" stop-color="#feae77"/><stop offset="0.125" stop-color="#fec68a"/><stop offset="0.250" stop-color="#fed194"/><stop offset="0.375" stop-color="#fddea0"/><stop offset="0.500" stop-color="#fec488"/><stop offset="0.541" stop-color="#feb078"/><stop offset="0.583" stop-color="#fd9b6b"/><stop offset="0.625" stop-color="#fc8961"/><stop offset="0.750" stop-color="#f7705c"/><stop offset="0.875" stop-color="#f7705c"/><stop offset="1.000" stop-color="#f7705c"/></linearGradient><linearGradient id="g1_7"><stop offset="0.000" stop-color="#fec68a"/><stop offset="0.125" stop-color="#fddea0"/><stop offset="0.250" stop-color="#fed194"/><stop offset="0.375" stop-color="#fec68a"/><stop offset="0.500" stop-color="#feb77e"/><stop offset="0.625" stop-color="#fe9f6d"/><stop offset="0.656" stop-color="#fc8961"/><stop offset="0.687" stop-color="#f7705c"/><stop offset="0.719" stop-color="#ed5a5f"/><stop offset="0.750" stop-color="#de4968"/><stop offset="0.774" stop-color="#ca3e72"/><stop offset="0.798" stop-color="#b73779"/><stop offset="0.822" stop-color="#a1307e"/><stop offset="0.830" stop-color="#8c2981"/><stop offset="0.838" stop-color="#782281"/><stop offset="0.846" stop-color="#641a80"/><stop offset="0.848" stop-color="#4e117b"/><stop offset="0.850" stop-color="#38106c"/><stop offset="0.852" stop-color="#21114e"/><stop offset="0.855" stop-color="#100b2d"/><stop offset="0.857" stop-color="#03030f"/><stop offset="0.875" stop-color="#03030f"/><stop offset="0.877" stop-color="#03030f"/><stop offset="0.879" stop-color="#100b2d"/><stop offset="0.881" stop-color="#21114e"/><stop offset="0.883" stop-color="#38106c"/><stop offset="0.885" stop-color="#4e117b"/><stop offset="0.888" stop-color="#641a80"/><stop offset="0.899" stop-color="#782281"/><stop offset="0.911" stop-color="#8c2981"/><stop offset="0.922" stop-color="#a1307e"/><stop offset="1.000" stop-color="#b73779"/></linearGradient><linearGradient id="g1_8"><stop offset="0.000" stop-color="#feae77"/><stop offset="0.125" stop-color="#feae77"/><stop offset="0.250" stop-color="#feae77"/><stop offset="0.375" stop-color="#feae77"/><stop offset="0.500" stop-color="#fec488"/><stop offset="0.625" stop-color="#fecf92"/><stop offset="0.687" stop-color="#feb77e"/><stop offset="0.750" stop-color="#fe9f6d"/><stop offset="0.812" stop-color="#fc8961"/><stop offset="0.875" stop-color="#f7705c"/><stop offset="1.000" stop-color="#ed5a5f"/></linearGradient><linearGradient id="g1_9"><stop offset="0.000" stop-color="#ed5a5f"/><stop offset="0.125" stop-color="#f7705c"/><stop offset="0.187" stop-color="#fc8961"/><stop offset="0.250" stop-color="#fe9f6d"/><stop offset="0.375" stop-color="#feb77e"/><stop offset="0.500" stop-color="#fecf92"/><stop offset="0.625" stop-color="#fde7a9"/><stop offset="0.687" stop-color="#fecf92"/><stop offset="0.750" stop-color="#feb77e"/><stop offset="0.781" stop-color="#fe9f6d"/><stop offset="0.812" stop-color="#fc8961"/><stop offset="0.844" stop-color="#f7705c"/><stop offset="0.875" stop-color="#ed5a5f"/><stop offset="0.917" stop-color="#de4968"/><stop offset="0.958" stop-color="#ca3e72"/><stop offset="1.000" stop-color="#b73779"/></linearGradient><linearGradient id="g1_10"><stop offset="0.000" stop-color="#ca3e72"/><stop offset="0.062" stop-color="#de4968"/><stop offset="0.125" stop-color="#ed5a5f"/><stop offset="0.166" stop-color="#f7705c"/><stop offset="0.208" stop-color="#fc8961"/><stop offset="0.250" stop-color="#fe9f6d"/><stop offset="0.375" stop-color="#feb77e"/><stop offset="0.500" stop-color="#fec488"/><stop offset="0.625" stop-color="#fecf92"/><stop offset="0.750" stop-color="#fec488"/><stop offset="0.875" stop-color="#feb77e"/><stop offset="1.000" stop-color="#fe9f6d"/></linearGradient><linearGradient id="g1_11"><stop offset="0.000" stop-color="#fc8961"/><stop offset="0.125" stop-color="#fc8961"/><stop offset="0.250" stop-color="#fe9f6d"/><stop offset="0.375" stop-color="#fe9f6d"/><stop offset="0.500" stop-color="#fe9f6d"/><stop offset="0.625" stop-color="#fe9f6d"/><stop offset="0.750" stop-color="#fe9f6d"/><stop offset="0.875" stop-color="#fe9f6d"/><stop offset="1.000" stop-color="#fe9f6d"/></linearGradient><linearGradient id="g1_12"><stop offset="0.000" stop-color="#fe9f6d"/><stop offset="0.125" stop-color="#fe9f6d"/><stop offset="0.250" stop-color="#fc8961"/><stop offset="0.312" stop-color="#f7705c"/><stop offset="0.375" stop-color="#ed5a5f"/><stop offset="0.437" stop-color="#e24d66"/><stop offset="0.500" stop-color="#d5446d"/><stop offset="0.532" stop-color="#bd3977"/><stop offset="0.564" stop-color="#a5317e"/><stop offset="0.596" stop-color="#8c2981"/><stop offset="0.610" stop-color="#782281"/><stop offset="0.625" stop-color="#641a80"/><stop offset="0.641" stop-color="#51127c"/><stop offset="0.653" stop-color="#641a80"/><stop offset="0.665" stop-color="#782281"/><stop offset="0.677" stop-color="#8c2981"/><stop offset="0.695" stop-color="#a1307e"/><stop offset="0.714" stop-color="#b73779"/><stop offset="0.732" stop-color="#ca3e72"/><stop offset="0.750" stop-color="#de4968"/><stop offset="0.812" stop-color="#ed5a5f"/><stop offset="0.875" stop-color="#f7705c"/><stop offset="1.000" stop-color="#f7705c"/></linearGradient><linearGradient id="g1_13"><stop offset="0.000" stop-color="#fc8961"/><stop offset="0.125" stop-color="#fc8961"/><stop offset="0.250" stop-color="#fc8961"/><stop offset="0.312" stop-color="#f7705c"/><stop offset="0.375" stop-color="#ed5a5f"/><stop offset="0.500" stop-color="#de4968"/><stop offset="0.625" stop-color="#ed5a5f"/><stop offset="0.750" stop-color="#f7705c"/><stop offset="0.875" stop-color="#fc8961"/><stop offset="1.000" stop-color="#fc8961"/></linearGradient><linearGradient id="g1_14"><stop offset="0.000" stop-color="#f7705c"/><stop offset="0.125" stop-color="#f7705c"/><stop offset="0.250" stop-color="#f97b5d"/><stop offset="0.312" stop-color="#f56b5c"/><stop offset="0.375" stop-color="#ed5a5f"/><stop offset="0.500" stop-color="#de4968"/><stop offset="0.625" stop-color="#ed5a5f"/><stop offset="0.750" stop-color="#f2645c"/><stop offset="0.875" stop-color="#f7705c"/><stop offset="1.000" stop-color="#f7705c"/></linearGradient><linearGradient id="g1_15"><stop offset="0.000" stop-color="#51127c"/><stop offset="0.043" stop-color="#641a80"/><stop offset="0.055" stop-color="#782281"/><stop offset="0.067" stop-color="#8c2981"/><stop offset="0.079" stop-color="#a1307e"/><stop offset="0.125" stop-color="#b73779"/><stop offset="0.166" stop-color="#c73d73"/><stop offset="0.208" stop-color="#d8456c"/><stop offset="0.250" stop-color="#e75263"/><stop offset="0.375" stop-color="#ed5a5f"/><stop offset="0.500" stop-color="#de4968"/><stop offset="0.625" stop-color="#ed5a5f"/><stop offset="0.687" stop-color="#de4968"/><stop offset="0.750" stop-color="#ca3e72"/><stop offset="0.812" stop-color="#b73779"/><stop offset="0.875" stop-color="#a1307e"/><stop offset="1.000" stop-color="#b73779"/></linearGradient><linearGradient id="g1_16"><stop offset="0.000" stop-color="#fc8961"/><stop offset="0.125" stop-color="#fc8961"/><stop offset="0.250" stop-color="#f97b5d"/><stop offset="0.312" stop-color="#f56b5c"/><stop offset="0.375" stop-color="#ed5a5f"/><stop offset="0.417" stop-color="#de4968"/><stop offset="0.460" stop-color="#ca3e72"/><stop offset="0.473" stop-color="#ba3878"/><stop offset="0.486" stop-color="#a8327d"/><stop offset="0.500" stop-color="#962c80"/><stop offset="0.520" stop-color="#862781"/><stop offset="0.540" stop-color="#752181"/><stop offset="0.560" stop-color="#641a80"/><stop offset="0.625" stop-color="#782281"/><stop offset="0.695" stop-color="#8c2981"/><stop offset="0.750" stop-color="#a1307e"/><stop offset="0.875" stop-color="#a1307e"/><stop offset="1.000" stop-color="#b73779"/></linearGradient><linearGradient id="g1_17"><stop offset="0.000" stop-color="#fe9f6d"/><stop offset="0.125" stop-color="#fe9f6d"/><stop offset="0.250" stop-color="#fe9f6d"/><stop offset="0.375" stop-color="#fe9f6d"/><stop offset="0.437" stop-color="#fc8961"/><stop offset="0.500" stop-color="#f7705c"/><stop offset="0.562" stop-color="#ed5a5f"/><stop offset="0.625" stop-color="#de4968"/><stop offset="0.750" stop-color="#ed5a5f"/><stop offset="0.875" stop-color="#f7705c"/><stop offset="1.000" stop-color="#f7705c"/></linearGradient><linearGradient id="g1_18"><stop offset="0.000" stop-color="#fe9f6d"/><stop offset="0.125" stop-color="#fe9f6d"/><stop offset="0.250" stop-color="#feac76"/><stop offset="0.375" stop-color="#feb77e"/><stop offset="0.500" stop-color="#feb77e"/><stop offset="0.625" stop-color="#feb77e"/><stop offset="0.750" stop-color="#feb77e"/><stop offset="0.875" stop-color="#feb77e"/><stop offset="1.000" stop-color="#feb77e"/></linearGradient><linearGradient id="g1_19"><stop offset="0.000" stop-color="#fe9f6d"/><stop offset="0.125" stop-color="#fe9f6d"/><stop offset="0.250" stop-color="#feac76"/><stop offset="0.375" stop-color="#feb77e"/><stop offset="0.500" stop-color="#feb77e"/><stop offset="0.625" stop-color="#feb77e"/><stop offset="0.750" stop-color="#feac76"/><stop offset="0.875" stop-color="#fe9f6d"/><stop offset="1.000" stop-color="#fe9f6d"/></linearGradient><linearGradient id="g1_20"><stop offset="0.000" stop-color="#fc8961"/><stop offset="0.125" stop-color="#fc8961"/><stop offset="0.250" stop-color="#f7705c"/><stop offset="0.375" stop-color="#ed5a5f"/><stop offset="0.500" stop-color="#f7705c"/><stop offset="0.625" stop-color="#f7705c"/><stop offset="0.750" stop-color="#ed5a5f"/><stop offset="0.783" stop-color="#de4968"/><stop offset="0.816" stop-color="#ca3e72"/><stop offset="0.850" stop-color="#b73779"/><stop offset="0.862" stop-color="#a1307e"/><stop offset="0.875" stop-color="#8c2981"/><stop offset="0.880" stop-color="#782281"/><stop offset="0.883" stop-color="#621980"/><stop offset="0.885" stop-color="#4c117a"/><stop offset="0.887" stop-color="#36106b"/><stop offset="0.889" stop-color="#20114b"/><stop offset="0.891" stop-color="#0e0b2b"/><stop offset="0.911" stop-color="#0e0b2b"/><stop offset="0.913" stop-color="#20114b"/><stop offset="0.916" stop-color="#36106b"/><stop offset="0.918" stop-color="#4c117a"/><stop offset="0.920" stop-color="#621980"/><stop offset="0.922" stop-color="#782281"/><stop offset="0.931" stop-color="#8c2981"/><stop offset="0.940" stop-color="#a1307e"/><stop offset="0.949" stop-color="#b73779"/><stop offset="0.966" stop-color="#ca3e72"/><stop offset="0.983" stop-color="#de4968"/><stop offset="1.000" stop-color="#ed5a5f"/></linearGradient><linearGradient id="g1_21"><stop offset="0.000" stop-color="#f7705c"/><stop offset="0.125" stop-color="#ed5a5f"/><stop offset="0.250" stop-color="#de4968"/><stop offset="0.375" stop-color="#de4968"/><stop offset="0.437" stop-color="#ea5661"/><stop offset="0.500" stop-color="#f2645c"/><stop offset="0.625" stop-color="#f7705c"/><stop offset="0.750" stop-color="#f97b5d"/><stop offset="0.875" stop-color="#fc8961"/><stop offset="1.000" stop-color="#fc8961"/></linearGradient><linearGradient id="g1_22"><stop offset="0.000" stop-color="#ed5a5f"/><stop offset="0.125" stop-color="#de4968"/><stop offset="0.250" stop-color="#ca3e72"/><stop offset="0.375" stop-color="#b73779"/><stop offset="0.416" stop-color="#ca3e72"/><stop offset="0.458" stop-color="#de4968"/><stop offset="0.500" stop-color="#ed5a5f"/><stop offset="0.625" stop-color="#f7705c"/><stop offset="0.750" stop-color="#fc8961"/><stop offset="0.875" stop-color="#fc8961"/><stop offset="1.000" stop-color="#fc8961"/></linearGradient><linearGradient id="g1_23"><stop offset="0.000" stop-color="#b73779"/><stop offset="0.062" stop-color="#a1307e"/><stop offset="0.125" stop-color="#8c2981"/><stop offset="0.148" stop-color="#782281"/><stop offset="0.173" stop-color="#8c2981"/><stop offset="0.199" stop-color="#a1307e"/><stop offset="0.224" stop-color="#b73779"/><stop offset="0.250" stop-color="#ca3e72"/><stop offset="0.312" stop-color="#de4968"/><stop offset="0.375" stop-color="#ed5a5f"/><stop offset="0.437" stop-color="#f56b5c"/><stop offset="0.500" stop-color="#f97b5d"/><stop offset="0.625" stop-color="#fc8961"/><stop offset="0.750" stop-color="#fc8961"/><stop offset="0.875" stop-color="#fc8961"/><stop offset="0.949" stop-color="#f7705c"/><stop offset="0.966" stop-color="#ed5a5f"/><stop offset="0.983" stop-color="#de4968"/><stop offset="1.000" stop-color="#ca3e72"/></linearGradient><linearGradient id="g1_24"><stop offset="0.000" stop-color="#de4968"/><stop offset="0.125" stop-color="#de4968"/><stop offset="0.187" stop-color="#ea5661"/><stop offset="0.250" stop-color="#f2645c"/><stop offset="0.312" stop-color="#f8765c"/><stop offset="0.375" stop-color="#fc8961"/><stop offset="0.500" stop-color="#fd9467"/><stop offset="0.625" stop-color="#fe9f6d"/><stop offset="0.750" stop-color="#fe9f6d"/><stop offset="0.875" stop-color="#fe9f6d"/><stop offset="1.000" stop-color="#fc8961"/></linearGradient><linearGradient id="g1_25"><stop offset="0.000" stop-color="#b73779"/><stop offset="0.125" stop-color="#a1307e"/><stop offset="0.166" stop-color="#b2357b"/><stop offset="0.208" stop-color="#c43c75"/><stop offset="0.250" stop-color="#d5446d"/><stop offset="0.375" stop-color="#de4968"/><stop offset="0.416" stop-color="#eb5760"/><stop offset="0.458" stop-color="#f4675c"/><stop offset="0.500" stop-color="#f97b5d"/><stop offset="0.562" stop-color="#fc8e64"/><stop offset="0.625" stop-color="#fe9f6d"/><stop offset="0.750" stop-color="#fd9467"/><stop offset="0.875" stop-color="#fc8961"/><stop offset="1.000" stop-color="#f7705c"/></linearGradient><linearGradient id="g1_26"><stop offset="0.000" stop-color="#f7705c"/><stop offset="0.125" stop-color="#f7705c"/><stop offset="0.250" stop-color="#f2645c"/><stop offset="0.281" stop-color="#e44f64"/><stop offset="0.312" stop-color="#d0416f"/><stop offset="0.343" stop-color="#b83779"/><stop offset="0.375" stop-color="#a1307e"/><stop offset="0.399" stop-color="#8c2981"/><stop offset="0.424" stop-color="#782281"/><stop offset="0.447" stop-color="#641a80"/><stop offset="0.461" stop-color="#782281"/><stop offset="0.474" stop-color="#8c2981"/><stop offset="0.487" stop-color="#a1307e"/><stop offset="0.500" stop-color="#b73779"/><stop offset="0.541" stop-color="#ca3e72"/><stop offset="0.583" stop-color="#de4968"/><stop offset="0.625" stop-color="#ed5a5f"/><stop offset="0.687" stop-color="#f56b5c"/><stop offset="0.750" stop-color="#f97b5d"/><stop offset="0.875" stop-color="#f7705c"/><stop offset="1.000" stop-color="#ed5a5f"/></linearGradient><linearGradient id="g1_27"><stop offset="0.000" stop-color="#fc8961"/><stop offset="0.125" stop-color="#fc8961"/><stop offset="0.250" stop-color="#fc8961"/><stop offset="0.375" stop-color="#fc8961"/><stop offset="0.500" stop-color="#fc8961"/><stop offset="0.625" stop-color="#fc8961"/><stop offset="0.750" stop-color="#fc8961"/><stop offset="0.875" stop-color="#f7705c"/><stop offset="1.000" stop-color="#ed5a5f"/></linearGradient><linearGradient id="g1_28"><stop offset="0.000" stop-color="#fe9f6d"/><stop offset="0.125" stop-color="#fe9f6d"/><stop offset="0.250" stop-color="#fe9f6d"/><stop offset="0.375" stop-color="#fe9f6d"/><stop offset="0.500" stop-color="#fe9f6d"/><stop offset="0.625" stop-color="#fe9f6d"/><stop offset="0.750" stop-color="#fd9467"/><stop offset="0.812" stop-color="#fa815f"/><stop offset="0.875" stop-color="#f7705c"/><stop offset="1.000" stop-color="#ed5a5f"/></linearGradient><linearGradient id="g1_29"><stop offset="0.000" stop-color="#fc8961"/><stop offset="0.125" stop-color="#fc8961"/><stop offset="0.250" stop-color="#f97b5d"/><stop offset="0.375" stop-color="#f7705c"/><stop offset="0.500" stop-color="#f7705c"/><stop offset="0.625" stop-color="#ed5a5f"/><stop offset="0.687" stop-color="#de4968"/><stop offset="0.750" stop-color="#ca3e72"/><stop offset="0.875" stop-color="#de4968"/><stop offset="1.000" stop-color="#ed5a5f"/></linearGradient><linearGradient id="g1_30"><stop offset="0.000" stop-color="#fc8961"/><stop offset="0.125" stop-color="#fc8961"/><stop offset="0.250" stop-color="#fe9f6d"/><stop offset="0.375" stop-color="#feb77e"/><stop offset="0.500" stop-color="#feac76"/><stop offset="0.625" stop-color="#fe9f6d"/><stop offset="0.750" stop-color="#fe9f6d"/><stop offset="0.875" stop-color="#fc8961"/><stop offset="1.000" stop-color="#f7705c"/></linearGradient><linearGradient id="g1_31"><stop offset="0.000" stop-color="#fe9f6d"/><stop offset="0.125" stop-color="#fe9f6d"/><stop offset="0.250" stop-color="#feac76"/><stop offset="0.375" stop-color="#feb77e"/><stop offset="0.500" stop-color="#feb77e"/><stop offset="0.625" stop-color="#fe9f6d"/><stop offset="0.750" stop-color="#fd9467"/><stop offset="0.875" stop-color="#fc8961"/><stop offset="1.000" stop-color="#f7705c"/></linearGradient><linearGradient id="g1_32"><stop offset="0.000" stop-color="#fe9f6d"/><stop offset="0.125" stop-color="#fe9f6d"/><stop offset="0.187" stop-color="#fc8e64"/><stop offset="0.250" stop-color="#f97b5d"/><stop offset="0.312" stop-color="#f56b5c"/><stop offset="0.375" stop-color="#ed5a5f"/><stop offset="0.500" stop-color="#f7705c"/><stop offset="0.625" stop-color="#ed5a5f"/><stop offset="0.750" stop-color="#ed5a5f"/><stop offset="0.875" stop-color="#f7705c"/><stop offset="1.000" stop-color="#f7705c"/></linearGradient><linearGradient id="g1_33"><stop offset="0.000" stop-color="#f7705c"/><stop offset="0.125" stop-color="#fc8961"/><stop offset="0.187" stop-color="#fd9a6a"/><stop offset="0.250" stop-color="#feac76"/><stop offset="0.375" stop-color="#feb77e"/><stop offset="0.437" stop-color="#fec68a"/><stop offset="0.500" stop-color="#fed799"/><stop offset="0.625" stop-color="#feca8d"/><stop offset="0.750" stop-color="#fde2a3"/><stop offset="0.875" stop-color="#fde2a3"/><stop offset="1.000" stop-color="#feca8d"/></linearGradient><linearGradient id="g1_34"><stop offset="0.000" stop-color="#fe9f6d"/><stop offset="0.125" stop-color="#feb77e"/><stop offset="0.250" stop-color="#fec488"/><stop offset="0.375" stop-color="#fecf92"/><stop offset="0.437" stop-color="#fde3a5"/><stop offset="0.500" stop-color="#fcf9bb"/><stop offset="0.625" stop-color="#fcf9bb"/><stop offset="0.750" stop-color="#fcfdbf"/><stop offset="0.875" stop-color="#fcf9bb"/><stop offset="1.000" stop-color="#fde2a3"/></linearGradient><linearGradient id="g1_35"><stop offset="0.000" stop-color="#feb77e"/><stop offset="0.125" stop-color="#feb77e"/><stop offset="0.250" stop-color="#feb77e"/><stop offset="0.375" stop-color="#feb77e"/><stop offset="0.437" stop-color="#fecd90"/><stop offset="0.500" stop-color="#fde2a3"/><stop offset="0.625" stop-color="#fde2a3"/><stop offset="0.750" stop-color="#fceeb0"/><stop offset="0.875" stop-color="#fde2a3"/><stop offset="1.000" stop-color="#feca8d"/></linearGradient><linearGradient id="g1_36"><stop offset="0.000" stop-color="#fc8961"/><stop offset="0.125" stop-color="#fc8961"/><stop offset="0.250" stop-color="#f7705c"/><stop offset="0.282" stop-color="#ed5a5f"/><stop offset="0.315" stop-color="#de4968"/><stop offset="0.347" stop-color="#ca3e72"/><stop offset="0.361" stop-color="#b73779"/><stop offset="0.375" stop-color="#a1307e"/><stop offset="0.391" stop-color="#8c2981"/><stop offset="0.411" stop-color="#782281"/><stop offset="0.438" stop-color="#8c2981"/><stop offset="0.446" stop-color="#a1307e"/><stop offset="0.454" stop-color="#b73779"/><stop offset="0.461" stop-color="#ca3e72"/><stop offset="0.469" stop-color="#de4968"/><stop offset="0.484" stop-color="#ea5661"/><stop offset="0.500" stop-color="#f2645c"/><stop offset="0.541" stop-color="#f9785d"/><stop offset="0.583" stop-color="#fc8c63"/><stop offset="0.625" stop-color="#fe9f6d"/><stop offset="0.750" stop-color="#fd9467"/><stop offset="0.875" stop-color="#fc8961"/><stop offset="1.000" stop-color="#f7705c"/></linearGradient><linearGradient id="g1_37"><stop offset="0.000" stop-color="#b73779"/><stop offset="0.125" stop-color="#b73779"/><stop offset="0.250" stop-color="#ca3e72"/><stop offset="0.375" stop-color="#de4968"/><stop offset="0.437" stop-color="#ea5661"/><stop offset="0.500" stop-color="#f2645c"/><stop offset="0.562" stop-color="#f8765c"/><stop offset="0.625" stop-color="#fc8961"/><stop offset="0.750" stop-color="#f97b5d"/><stop offset="0.875" stop-color="#f7705c"/><stop offset="1.000" stop-color="#ed5a5f"/></linearGradient><linearGradient id="g1_38"><stop offset="0.000" stop-color="#b73779"/><stop offset="0.125" stop-color="#b73779"/><stop offset="0.250" stop-color="#a1307e"/><stop offset="0.312" stop-color="#b73779"/><stop offset="0.375" stop-color="#ca3e72"/><stop offset="0.416" stop-color="#db476a"/><stop offset="0.458" stop-color="#e95462"/><stop offset="0.500" stop-color="#f2645c"/><stop offset="0.625" stop-color="#f7705c"/><stop offset="0.750" stop-color="#f2645c"/><stop offset="0.792" stop-color="#e95462"/><stop offset="0.833" stop-color="#db476a"/><stop offset="0.875" stop-color="#ca3e72"/><stop offset="0.888" stop-color="#b2357b"/><stop offset="0.901" stop-color="#992d80"/><stop offset="0.914" stop-color="#802582"/><stop offset="0.927" stop-color="#681c81"/><stop offset="0.940" stop-color="#51127c"/><stop offset="0.976" stop-color="#51127c"/><stop offset="1.000" stop-color="#641a80"/></linearGradient><linearGradient id="g1_39"><stop offset="0.000" stop-color="#ed5a5f"/><stop offset="0.125" stop-color="#ed5a5f"/><stop offset="0.250" stop-color="#ed5a5f"/><stop offset="0.375" stop-color="#ed5a5f"/><stop offset="0.500" stop-color="#f7705c"/><stop offset="0.625" stop-color="#f7705c"/><stop offset="0.750" stop-color="#f7705c"/><stop offset="0.875" stop-color="#f7705c"/><stop offset="1.000" stop-color="#f7705c"/></linearGradient><linearGradient id="g1_40"><stop offset="0.000" stop-color="#fc8961"/><stop offset="0.125" stop-color="#fc8961"/><stop offset="0.250" stop-color="#fc8961"/><stop offset="0.375" stop-color="#fc8961"/><stop offset="0.500" stop-color="#f7705c"/><stop offset="0.529" stop-color="#ed5a5f"/><stop offset="0.558" stop-color="#de4968"/><stop offset="0.587" stop-color="#ca3e72"/><stop offset="0.599" stop-color="#b73779"/><stop offset="0.612" stop-color="#a1307e"/><stop offset="0.625" stop-color="#8c2981"/><stop offset="0.632" stop-color="#8c2981"/><stop offset="0.641" stop-color="#782281"/><stop offset="0.650" stop-color="#641a80"/><stop offset="0.659" stop-color="#51127c"/><stop offset="0.661" stop-color="#3b0f70"/><stop offset="0.663" stop-color="#251255"/><stop offset="0.665" stop-color="#140e36"/><stop offset="0.666" stop-color="#06051a"/><stop offset="0.668" stop-color="#000004"/><stop offset="0.683" stop-color="#000004"/><stop offset="0.685" stop-color="#06051a"/><stop offset="0.686" stop-color="#140e36"/><stop offset="0.688" stop-color="#251255"/><stop offset="0.690" stop-color="#3b0f70"/><stop offset="0.692" stop-color="#51127c"/><stop offset="0.699" stop-color="#641a80"/><stop offset="0.706" stop-color="#782281"/><stop offset="0.714" stop-color="#8c2981"/><stop offset="0.750" stop-color="#a1307e"/><stop offset="0.792" stop-color="#b73779"/><stop offset="0.833" stop-color="#ca3e72"/><stop offset="0.875" stop-color="#de4968"/><stop offset="1.000" stop-color="#ed5a5f"/></linearGradient><linearGradient id="g1_41"><stop offset="0.000" stop-color="#fc8961"/><stop offset="0.125" stop-color="#fc8961"/><stop offset="0.250" stop-color="#fc8961"/><stop offset="0.375" stop-color="#fc8961"/><stop offset="0.500" stop-color="#fc8961"/><stop offset="0.625" stop-color="#f7705c"/><stop offset="0.750" stop-color="#f7705c"/><stop offset="0.875" stop-color="#f7705c"/><stop offset="1.000" stop-color="#f7705c"/></linearGradient><linearGradient id="g1_42"><stop offset="0.000" stop-color="#fc8961"/><stop offset="0.125" stop-color="#fc8961"/><stop offset="0.250" stop-color="#fe9f6d"/><stop offset="0.375" stop-color="#fe9f6d"/><stop offset="0.500" stop-color="#fe9f6d"/><stop offset="0.625" stop-color="#fd9668"/><stop offset="0.656" stop-color="#fa7d5e"/><stop offset="0.687" stop-color="#f4675c"/><stop offset="0.719" stop-color="#e85362"/><stop offset="0.750" stop-color="#d6456c"/><stop offset="0.761" stop-color="#bf3a77"/><stop offset="0.772" stop-color="#a8327d"/><stop offset="0.782" stop-color="#902a81"/><stop offset="0.793" stop-color="#782281"/><stop offset="0.840" stop-color="#641a80"/><stop offset="0.852" stop-color="#7c2382"/><stop offset="0.863" stop-color="#942c80"/><stop offset="0.875" stop-color="#ad347c"/><stop offset="0.877" stop-color="#ad347c"/><stop offset="1.000" stop-color="#c23b75"/></linearGradient><linearGradient id="g1_43"><stop offset="0.000" stop-color="#fc8961"/><stop offset="0.125" stop-color="#fc8961"/><stop offset="0.250" stop-color="#fe9f6d"/><stop offset="0.375" stop-color="#fe9f6d"/><stop offset="0.500" stop-color="#fe9f6d"/><stop offset="0.625" stop-color="#fd9668"/><stop offset="0.687" stop-color="#fa7d5e"/><stop offset="0.750" stop-color="#f4675c"/><stop offset="0.812" stop-color="#e85362"/><stop offset="0.875" stop-color="#d6456c"/><stop offset="0.888" stop-color="#c23b75"/><stop offset="0.900" stop-color="#ad347c"/><stop offset="0.913" stop-color="#992d80"/><stop offset="1.000" stop-color="#ad347c"/></linearGradient><linearGradient id="g1_44"><stop offset="0.000" stop-color="#f7705c"/><stop offset="0.125" stop-color="#f7705c"/><stop offset="0.250" stop-color="#f7705c"/><stop offset="0.375" stop-color="#f7705c"/><stop offset="0.500" stop-color="#f7705c"/><stop offset="0.625" stop-color="#fa7d5e"/><stop offset="0.750" stop-color="#fa7d5e"/><stop offset="0.875" stop-color="#fa7d5e"/><stop offset="1.000" stop-color="#fa7d5e"/></linearGradient><linearGradient id="g1_45"><stop offset="0.000" stop-color="#f7705c"/><stop offset="0.125" stop-color="#f7705c"/><stop offset="0.250" stop-color="#f7705c"/><stop offset="0.375" stop-color="#f7705c"/><stop offset="0.500" stop-color="#fc8961"/><stop offset="0.562" stop-color="#fd9b6b"/><stop offset="0.625" stop-color="#feae77"/><stop offset="0.750" stop-color="#feae77"/><stop offset="0.875" stop-color="#feae77"/><stop offset="1.000" stop-color="#fd9668"/></linearGradient><linearGradient id="g1_46"><stop offset="0.000" stop-color="#ed5a5f"/><stop offset="0.125" stop-color="#ed5a5f"/><stop offset="0.250" stop-color="#f2645c"/><stop offset="0.375" stop-color="#f7705c"/><stop offset="0.437" stop-color="#fc8961"/><stop offset="0.500" stop-color="#fe9f6d"/><stop offset="0.562" stop-color="#feb47b"/><stop offset="0.625" stop-color="#fec68a"/><stop offset="0.750" stop-color="#fec68a"/><stop offset="0.875" stop-color="#feae77"/><stop offset="1.000" stop-color="#fd9668"/></linearGradient><linearGradient id="g1_47"><stop offset="0.000" stop-color="#b73779"/><stop offset="0.125" stop-color="#ca3e72"/><stop offset="0.187" stop-color="#d9466b"/><stop offset="0.250" stop-color="#e75263"/><stop offset="0.375" stop-color="#ed5a5f"/><stop offset="0.500" stop-color="#ed5a5f"/><stop offset="0.625" stop-color="#f4675c"/><stop offset="0.750" stop-color="#f4675c"/><stop offset="0.875" stop-color="#f4675c"/><stop offset="1.000" stop-color="#f4675c"/></linearGradient><linearGradient id="g1_48"><stop offset="0.000" stop-color="#de4968"/><stop offset="0.125" stop-color="#de4968"/><stop offset="0.250" stop-color="#e75263"/><stop offset="0.375" stop-color="#ed5a5f"/><stop offset="0.500" stop-color="#ed5a5f"/><stop offset="0.625" stop-color="#f4675c"/><stop offset="0.750" stop-color="#f4675c"/><stop offset="0.875" stop-color="#f4675c"/><stop offset="1.000" stop-color="#f4675c"/></linearGradient><linearGradient id="g1_49"><stop offset="0.000" stop-color="#de4968"/><stop offset="0.125" stop-color="#de4968"/><stop offset="0.250" stop-color="#de4968"/><stop offset="0.375" stop-color="#de4968"/><stop offset="0.500" stop-color="#ed5a5f"/><stop offset="0.625" stop-color="#f4675c"/><stop offset="0.750" stop-color="#f4675c"/><stop offset="0.875" stop-color="#f4675c"/><stop offset="1.000" stop-color="#e85362"/></linearGradient><linearGradient id="g1_50"><stop offset="0.000" stop-color="#ca3e72"/><stop offset="0.125" stop-color="#ca3e72"/><stop offset="0.166" stop-color="#ba3878"/><stop offset="0.208" stop-color="#a8327d"/><stop offset="0.250" stop-color="#962c80"/><stop offset="0.375" stop-color="#a1307e"/><stop offset="0.416" stop-color="#b2357b"/><stop offset="0.458" stop-color="#c43c75"/><stop offset="0.500" stop-color="#d5446d"/><stop offset="0.625" stop-color="#e85362"/><stop offset="0.750" stop-color="#ee5b5e"/><stop offset="0.875" stop-color="#e85362"/><stop offset="1.000" stop-color="#d6456c"/></linearGradient><linearGradient id="g1_51"><stop offset="0.000" stop-color="#ca3e72"/><stop offset="0.125" stop-color="#ca3e72"/><stop offset="0.250" stop-color="#ca3e72"/><stop offset="0.375" stop-color="#de4968"/><stop offset="0.500" stop-color="#de4968"/><stop offset="0.625" stop-color="#e85362"/><stop offset="0.750" stop-color="#ee5b5e"/><stop offset="0.875" stop-color="#f4675c"/><stop offset="1.000" stop-color="#f4675c"/></linearGradient><linearGradient id="g1_52"><stop offset="0.000" stop-color="#b73779"/><stop offset="0.125" stop-color="#b73779"/><stop offset="0.250" stop-color="#a1307e"/><stop offset="0.296" stop-color="#8c2981"/><stop offset="0.342" stop-color="#782281"/><stop offset="0.351" stop-color="#641a80"/><stop offset="0.360" stop-color="#51127c"/><stop offset="0.375" stop-color="#3b0f70"/><stop offset="0.378" stop-color="#221150"/><stop offset="0.381" stop-color="#110c2f"/><stop offset="0.384" stop-color="#03030f"/><stop offset="0.407" stop-color="#03030f"/><stop offset="0.412" stop-color="#100b2d"/><stop offset="0.417" stop-color="#21114e"/><stop offset="0.422" stop-color="#38106c"/><stop offset="0.427" stop-color="#51127c"/><stop offset="0.439" stop-color="#641a80"/><stop offset="0.451" stop-color="#782281"/><stop offset="0.475" stop-color="#882781"/><stop offset="0.500" stop-color="#962c80"/><stop offset="0.541" stop-color="#ad347c"/><stop offset="0.583" stop-color="#c23b75"/><stop offset="0.625" stop-color="#d6456c"/><stop offset="0.750" stop-color="#e85362"/><stop offset="0.875" stop-color="#f4675c"/><stop offset="1.000" stop-color="#f4675c"/></linearGradient><linearGradient id="g1_53"><stop offset="0.000" stop-color="#782281"/><stop offset="0.125" stop-color="#782281"/><stop offset="0.187" stop-color="#8c2981"/><stop offset="0.250" stop-color="#a1307e"/><stop offset="0.375" stop-color="#b73779"/><stop offset="0.500" stop-color="#ca3e72"/><stop offset="0.562" stop-color="#db476a"/><stop offset="0.625" stop-color="#e85362"/><stop offset="0.750" stop-color="#ee5b5e"/><stop offset="0.875" stop-color="#f4675c"/><stop offset="1.000" stop-color="#f4675c"/></linearGradient><linearGradient id="g1_54"><stop offset="0.000" stop-color="#de4968"/><stop offset="0.125" stop-color="#de4968"/><stop offset="0.250" stop-color="#e75263"/><stop offset="0.375" stop-color="#ed5a5f"/><stop offset="0.500" stop-color="#e75263"/><stop offset="0.541" stop-color="#d5446d"/><stop offset="0.583" stop-color="#c23b75"/><stop offset="0.625" stop-color="#ad347c"/><stop offset="0.650" stop-color="#992d80"/><stop offset="0.657" stop-color="#812581"/><stop offset="0.663" stop-color="#6b1d81"/><stop offset="0.670" stop-color="#56147d"/><stop offset="0.676" stop-color="#3d0f71"/><stop offset="0.683" stop-color="#251255"/><stop offset="0.719" stop-color="#251255"/><stop offset="0.729" stop-color="#3b0f70"/><stop offset="0.740" stop-color="#51127c"/><stop offset="0.750" stop-color="#641a80"/><stop offset="0.762" stop-color="#752181"/><stop offset="0.774" stop-color="#862781"/><stop offset="0.786" stop-color="#992d80"/><stop offset="0.831" stop-color="#ad347c"/><stop offset="0.875" stop-color="#c23b75"/><stop offset="1.000" stop-color="#d6456c"/></linearGradient><linearGradient id="g1_55"><stop offset="0.000" stop-color="#f7705c"/><stop offset="0.125" stop-color="#f7705c"/><stop offset="0.250" stop-color="#fc8961"/><stop offset="0.375" stop-color="#fc8961"/><stop offset="0.500" stop-color="#f97b5d"/><stop offset="0.625" stop-color="#fd9668"/><stop offset="0.750" stop-color="#fd9668"/><stop offset="0.875" stop-color="#fd9668"/><stop offset="1.000" stop-color="#fa7d5e"/></linearGradient><linearGradient id="g1_56"><stop offset="0.000" stop-color="#ed5a5f"/><stop offset="0.125" stop-color="#ed5a5f"/><stop offset="0.250" stop-color="#ed5a5f"/><stop offset="0.375" stop-color="#ed5a5f"/><stop offset="0.500" stop-color="#f2645c"/><stop offset="0.625" stop-color="#fa7d5e"/><stop offset="0.750" stop-color="#fa7d5e"/><stop offset="0.875" stop-color="#fa7d5e"/><stop offset="1.000" stop-color="#fa7d5e"/></linearGradient><linearGradient id="g1_57"><stop offset="0.000" stop-color="#782281"/><stop offset="0.018" stop-color="#641a80"/><stop offset="0.036" stop-color="#51127c"/><stop offset="0.054" stop-color="#3b0f70"/><stop offset="0.101" stop-color="#3b0f70"/><stop offset="0.125" stop-color="#51127c"/><stop offset="0.147" stop-color="#641a80"/><stop offset="0.170" stop-color="#782281"/><stop offset="0.210" stop-color="#882781"/><stop offset="0.250" stop-color="#962c80"/><stop offset="0.375" stop-color="#a1307e"/><stop offset="0.437" stop-color="#b0357b"/><stop offset="0.500" stop-color="#c03a76"/><stop offset="0.625" stop-color="#d6456c"/><stop offset="0.750" stop-color="#d6456c"/><stop offset="0.875" stop-color="#d6456c"/><stop offset="1.000" stop-color="#d6456c"/></linearGradient><linearGradient id="g1_58"><stop offset="0.000" stop-color="#8c2981"/><stop offset="0.125" stop-color="#8c2981"/><stop offset="0.250" stop-color="#a1307e"/><stop offset="0.375" stop-color="#a1307e"/><stop offset="0.500" stop-color="#b73779"/><stop offset="0.625" stop-color="#c23b75"/><stop offset="0.750" stop-color="#c23b75"/><stop offset="0.875" stop-color="#c23b75"/><stop offset="1.000" stop-color="#c23b75"/></linearGradient><linearGradient id="g1_59"><stop offset="0.000" stop-color="#a1307e"/><stop offset="0.125" stop-color="#a1307e"/><stop offset="0.250" stop-color="#a1307e"/><stop offset="0.375" stop-color="#b73779"/><stop offset="0.437" stop-color="#c53c74"/><stop offset="0.500" stop-color="#d5446d"/><stop offset="0.625" stop-color="#e85362"/><stop offset="0.750" stop-color="#e85362"/><stop offset="0.875" stop-color="#e85362"/><stop offset="1.000" stop-color="#e85362"/></linearGradient><linearGradient id="g1_60"><stop offset="0.000" stop-color="#ed5a5f"/><stop offset="0.125" stop-color="#ed5a5f"/><stop offset="0.250" stop-color="#ed5a5f"/><stop offset="0.375" stop-color="#ed5a5f"/><stop offset="0.500" stop-color="#de4968"/><stop offset="0.625" stop-color="#d6456c"/><stop offset="0.750" stop-color="#c23b75"/><stop offset="0.875" stop-color="#d6456c"/><stop offset="1.000" stop-color="#d6456c"/></linearGradient><linearGradient id="g1_61"><stop offset="0.000" stop-color="#ed5a5f"/><stop offset="0.125" stop-color="#ed5a5f"/><stop offset="0.250" stop-color="#f7705c"/><stop offset="0.375" stop-color="#f7705c"/><stop offset="0.500" stop-color="#f7705c"/><stop offset="0.625" stop-color="#fa7d5e"/><stop offset="0.750" stop-color="#f7725c"/><stop offset="0.875" stop-color="#f4675c"/><stop offset="1.000" stop-color="#f4675c"/></linearGradient><linearGradient id="g1_62"><stop offset="0.000" stop-color="#ed5a5f"/><stop offset="0.125" stop-color="#ed5a5f"/><stop offset="0.250" stop-color="#ed5a5f"/><stop offset="0.375" stop-color="#ed5a5f"/><stop offset="0.500" stop-color="#f7705c"/><stop offset="0.625" stop-color="#fa7d5e"/><stop offset="0.750" stop-color="#fa7d5e"/><stop offset="0.875" stop-color="#fa7d5e"/><stop offset="1.000" stop-color="#f4675c"/></linearGradient><linearGradient id="g1_63"><stop offset="0.000" stop-color="#b73779"/><stop offset="0.125" stop-color="#b73779"/><stop offset="0.250" stop-color="#ab337c"/><stop offset="0.375" stop-color="#b73779"/><stop offset="0.437" stop-color="#c53c74"/><stop offset="0.500" stop-color="#d5446d"/><stop offset="0.625" stop-color="#e85362"/><stop offset="0.750" stop-color="#ee5b5e"/><stop offset="0.875" stop-color="#f4675c"/><stop offset="1.000" stop-color="#e85362"/></linearGradient><linearGradient id="g1_64"><stop offset="0.000" stop-color="#ca3e72"/><stop offset="0.125" stop-color="#ca3e72"/><stop offset="0.250" stop-color="#ca3e72"/><stop offset="0.375" stop-color="#ca3e72"/><stop offset="0.500" stop-color="#d5446d"/><stop offset="0.625" stop-color="#e85362"/><stop offset="0.750" stop-color="#ee5b5e"/><stop offset="0.875" stop-color="#e85362"/><stop offset="1.000" stop-color="#e85362"/></linearGradient><linearGradient id="g1_65"><stop offset="0.000" stop-color="#de4968"/><stop offset="0.125" stop-color="#de4968"/><stop offset="0.250" stop-color="#ed5a5f"/><stop offset="0.375" stop-color="#ed5a5f"/><stop offset="0.500" stop-color="#ed5a5f"/><stop offset="0.625" stop-color="#f4675c"/><stop offset="0.750" stop-color="#f4675c"/><stop offset="0.875" stop-color="#e85362"/><stop offset="1.000" stop-color="#e85362"/></linearGradient><linearGradient id="g1_66"><stop offset="0.000" stop-color="#de4968"/><stop offset="0.125" stop-color="#de4968"/><stop offset="0.250" stop-color="#de4968"/><stop offset="0.375" stop-color="#ca3e72"/><stop offset="0.500" stop-color="#c03a76"/><stop offset="0.625" stop-color="#c23b75"/><stop offset="0.750" stop-color="#cd4071"/><stop offset="0.875" stop-color="#d6456c"/><stop offset="1.000" stop-color="#d6456c"/></linearGradient><linearGradient id="g1_67"><stop offset="0.000" stop-color="#de4968"/><stop offset="0.125" stop-color="#de4968"/><stop offset="0.250" stop-color="#d5446d"/><stop offset="0.375" stop-color="#ca3e72"/><stop offset="0.500" stop-color="#ca3e72"/><stop offset="0.625" stop-color="#d6456c"/><stop offset="0.750" stop-color="#d6456c"/><stop offset="0.875" stop-color="#d6456c"/><stop offset="1.000" stop-color="#c23b75"/></linearGradient><linearGradient id="g1_68"><stop offset="0.000" stop-color="#51127c"/><stop offset="0.062" stop-color="#641a80"/><stop offset="0.125" stop-color="#782281"/><stop offset="0.187" stop-color="#882781"/><stop offset="0.250" stop-color="#962c80"/><stop offset="0.312" stop-color="#a6317d"/><stop offset="0.375" stop-color="#b73779"/><stop offset="0.500" stop-color="#c03a76"/><stop offset="0.625" stop-color="#d6456c"/><stop offset="0.750" stop-color="#d6456c"/><stop offset="0.875" stop-color="#d6456c"/><stop offset="1.000" stop-color="#c23b75"/></linearGradient><linearGradient id="g1_69"><stop offset="0.000" stop-color="#de4968"/><stop offset="0.125" stop-color="#de4968"/><stop offset="0.250" stop-color="#de4968"/><stop offset="0.375" stop-color="#de4968"/><stop offset="0.437" stop-color="#d0416f"/><stop offset="0.500" stop-color="#c03a76"/><stop offset="0.625" stop-color="#ad347c"/><stop offset="0.750" stop-color="#992d80"/><stop offset="0.875" stop-color="#ad347c"/><stop offset="1.000" stop-color="#c23b75"/></linearGradient><linearGradient id="g1_70"><stop offset="0.000" stop-color="#ed5a5f"/><stop offset="0.125" stop-color="#ed5a5f"/><stop offset="0.250" stop-color="#ed5a5f"/><stop offset="0.375" stop-color="#ed5a5f"/><stop offset="0.500" stop-color="#ed5a5f"/><stop offset="0.625" stop-color="#f4675c"/><stop offset="0.750" stop-color="#ee5b5e"/><stop offset="0.875" stop-color="#e85362"/><stop offset="1.000" stop-color="#d6456c"/></linearGradient><linearGradient id="g1_71"><stop offset="0.000" stop-color="#ed5a5f"/><stop offset="0.125" stop-color="#ed5a5f"/><stop offset="0.250" stop-color="#ed5a5f"/><stop offset="0.375" stop-color="#ed5a5f"/><stop offset="0.500" stop-color="#ed5a5f"/><stop offset="0.625" stop-color="#f4675c"/><stop offset="0.750" stop-color="#f4675c"/><stop offset="0.875" stop-color="#f4675c"/><stop offset="1.000" stop-color="#e85362"/></linearGradient><linearGradient id="g1_72"><stop offset="0.000" stop-color="#de4968"/><stop offset="0.125" stop-color="#de4968"/><stop offset="0.166" stop-color="#ca3e72"/><stop offset="0.208" stop-color="#b73779"/><stop offset="0.250" stop-color="#a1307e"/><stop offset="0.264" stop-color="#8c2981"/><stop offset="0.279" stop-color="#782281"/><stop offset="0.293" stop-color="#641a80"/><stop offset="0.299" stop-color="#51127c"/><stop offset="0.305" stop-color="#3b0f70"/><stop offset="0.312" stop-color="#251255"/><stop offset="0.318" stop-color="#140e36"/><stop offset="0.324" stop-color="#06051a"/><stop offset="0.353" stop-color="#06051a"/><stop offset="0.360" stop-color="#140e36"/><stop offset="0.367" stop-color="#251255"/><stop offset="0.375" stop-color="#3b0f70"/><stop offset="0.377" stop-color="#51127c"/><stop offset="0.380" stop-color="#641a80"/><stop offset="0.420" stop-color="#7b2382"/><stop offset="0.460" stop-color="#932b80"/><stop offset="0.500" stop-color="#ab337c"/><stop offset="0.562" stop-color="#c23b75"/><stop offset="0.625" stop-color="#d6456c"/><stop offset="0.750" stop-color="#df4a68"/><stop offset="0.875" stop-color="#e85362"/><stop offset="1.000" stop-color="#d6456c"/></linearGradient><linearGradient id="g1_73"><stop offset="0.000" stop-color="#de4968"/><stop offset="0.125" stop-color="#de4968"/><stop offset="0.250" stop-color="#de4968"/><stop offset="0.375" stop-color="#de4968"/><stop offset="0.500" stop-color="#de4968"/><stop offset="0.625" stop-color="#e85362"/><stop offset="0.750" stop-color="#e85362"/><stop offset="0.875" stop-color="#e85362"/><stop offset="1.000" stop-color="#e85362"/></linearGradient><linearGradient id="g1_74"><stop offset="0.000" stop-color="#de4968"/><stop offset="0.125" stop-color="#de4968"/><stop offset="0.250" stop-color="#d5446d"/><stop offset="0.375" stop-color="#ca3e72"/><stop offset="0.500" stop-color="#ca3e72"/><stop offset="0.625" stop-color="#d6456c"/><stop offset="0.750" stop-color="#e85362"/><stop offset="0.875" stop-color="#e85362"/><stop offset="1.000" stop-color="#e85362"/></linearGradient><linearGradient id="g1_75"><stop offset="0.000" stop-color="#a1307e"/><stop offset="0.125" stop-color="#a1307e"/><stop offset="0.250" stop-color="#b73779"/><stop offset="0.375" stop-color="#b73779"/><stop offset="0.500" stop-color="#c03a76"/><stop offset="0.625" stop-color="#d6456c"/><stop offset="0.687" stop-color="#e44f64"/><stop offset="0.750" stop-color="#ee5b5e"/><stop offset="0.875" stop-color="#f4675c"/><stop offset="1.000" stop-color="#f4675c"/></linearGradient><linearGradient id="g1_76"><stop offset="0.000" stop-color="#a1307e"/><stop offset="0.125" stop-color="#a1307e"/><stop offset="0.187" stop-color="#b73779"/><stop offset="0.250" stop-color="#ca3e72"/><stop offset="0.375" stop-color="#de4968"/><stop offset="0.500" stop-color="#ed5a5f"/><stop offset="0.562" stop-color="#f56b5c"/><stop offset="0.625" stop-color="#fa7d5e"/><stop offset="0.750" stop-color="#fa7d5e"/><stop offset="0.875" stop-color="#fa7d5e"/><stop offset="1.000" stop-color="#fa7d5e"/></linearGradient><linearGradient id="g1_77"><stop offset="0.000" stop-color="#de4968"/><stop offset="0.125" stop-color="#de4968"/><stop offset="0.250" stop-color="#ed5a5f"/><stop offset="0.375" stop-color="#f7705c"/><stop offset="0.500" stop-color="#f7705c"/><stop offset="0.625" stop-color="#fa7d5e"/><stop offset="0.750" stop-color="#fa7d5e"/><stop offset="0.875" stop-color="#fa7d5e"/><stop offset="1.000" stop-color="#fa7d5e"/></linearGradient><linearGradient id="g1_78"><stop offset="0.000" stop-color="#de4968"/><stop offset="0.125" stop-color="#de4968"/><stop offset="0.250" stop-color="#e75263"/><stop offset="0.375" stop-color="#ed5a5f"/><stop offset="0.500" stop-color="#ed5a5f"/><stop offset="0.625" stop-color="#f4675c"/><stop offset="0.750" stop-color="#f4675c"/><stop offset="0.875" stop-color="#f4675c"/><stop offset="1.000" stop-color="#f4675c"/></linearGradient><linearGradient id="g1_79"><stop offset="0.000" stop-color="#b73779"/><stop offset="0.125" stop-color="#b73779"/><stop offset="0.187" stop-color="#a6317d"/><stop offset="0.250" stop-color="#962c80"/><stop offset="0.375" stop-color="#8c2981"/><stop offset="0.500" stop-color="#8c2981"/><stop offset="0.625" stop-color="#992d80"/><stop offset="0.750" stop-color="#ad347c"/><stop offset="0.875" stop-color="#ad347c"/><stop offset="1.000" stop-color="#ad347c"/></linearGradient><linearGradient id="g1_80"><stop offset="0.000" stop-color="#1a1042"/><stop offset="0.125" stop-color="#0e0b2b"/><stop offset="0.187" stop-color="#21114e"/><stop offset="0.250" stop-color="#3b0f70"/><stop offset="0.375" stop-color="#51127c"/><stop offset="0.500" stop-color="#51127c"/><stop offset="0.625" stop-color="#51127c"/><stop offset="0.750" stop-color="#5a167e"/><stop offset="0.875" stop-color="#51127c"/><stop offset="1.000" stop-color="#51127c"/></linearGradient><linearGradient id="g1_81"><stop offset="0.000" stop-color="#8c2981"/><stop offset="0.125" stop-color="#8c2981"/><stop offset="0.250" stop-color="#8c2981"/><stop offset="0.375" stop-color="#8c2981"/><stop offset="0.500" stop-color="#962c80"/><stop offset="0.625" stop-color="#ad347c"/><stop offset="0.750" stop-color="#c23b75"/><stop offset="0.875" stop-color="#c23b75"/><stop offset="1.000" stop-color="#c23b75"/></linearGradient><linearGradient id="g1_82"><stop offset="0.000" stop-color="#a1307e"/><stop offset="0.125" stop-color="#a1307e"/><stop offset="0.250" stop-color="#ab337c"/><stop offset="0.375" stop-color="#b73779"/><stop offset="0.500" stop-color="#c03a76"/><stop offset="0.625" stop-color="#d6456c"/><stop offset="0.750" stop-color="#df4a68"/><stop offset="0.875" stop-color="#e85362"/><stop offset="1.000" stop-color="#e85362"/></linearGradient><linearGradient id="g1_83"><stop offset="0.000" stop-color="#a1307e"/><stop offset="0.125" stop-color="#a1307e"/><stop offset="0.250" stop-color="#b73779"/><stop offset="0.375" stop-color="#b73779"/><stop offset="0.500" stop-color="#c03a76"/><stop offset="0.625" stop-color="#d6456c"/><stop offset="0.750" stop-color="#df4a68"/><stop offset="0.875" stop-color="#e85362"/><stop offset="1.000" stop-color="#e85362"/></linearGradient><clipPath id="cp1"><rect x="36.30" y="304.40" width="551.70" height="188.00"/></clipPath><linearGradient id="cb2" x1="0" y1="0" x2="0" y2="1"><stop offset="0.000" stop-color="#fcfdbf"/><stop offset="0.042" stop-color="#fdebac"/><stop offset="0.083" stop-color="#fed799"/><stop offset="0.125" stop-color="#fec488"/><stop offset="0.167" stop-color="#feb078"/><stop offset="0.208" stop-color="#fd9b6b"/><stop offset="0.250" stop-color="#fc8961"/><stop offset="0.292" stop-color="#f8745c"/><stop offset="0.333" stop-color="#f1605d"/><stop offset="0.375" stop-color="#e75263"/><stop offset="0.417" stop-color="#d8456c"/><stop offset="0.458" stop-color="#c73d73"/><stop offset="0.500" stop-color="#b73779"/><stop offset="0.542" stop-color="#a5317e"/><stop offset="0.583" stop-color="#932b80"/><stop offset="0.625" stop-color="#832681"/><stop offset="0.667" stop-color="#721f81"/><stop offset="0.708" stop-color="#601880"/><stop offset="0.750" stop-color="#51127c"/><stop offset="0.792" stop-color="#3f0f72"/><stop offset="0.833" stop-color="#2c115f"/><stop offset="0.875" stop-color="#1d1147"/><stop offset="0.917" stop-color="#100b2d"/><stop offset="0.958" stop-color="#050416"/><stop offset="1.000" stop-color="#000004"/></linearGradient><linearGradient id="g2_0"><stop offset="0.000" stop-color="#f7705c"/><stop offset="0.125" stop-color="#f7705c"/><stop offset="0.187" stop-color="#fa815f"/><stop offset="0.250" stop-color="#fd9467"/><stop offset="0.312" stop-color="#fea772"/><stop offset="0.375" stop-color="#feb77e"/><stop offset="0.500" stop-color="#feac76"/><stop offset="0.625" stop-color="#fe9f6d"/><stop offset="0.750" stop-color="#fe9f6d"/><stop offset="0.875" stop-color="#fe9f6d"/><stop offset="1.000" stop-color="#fe9f6d"/></linearGradient><linearGradient id="g2_1"><stop offset="0.000" stop-color="#de4968"/><stop offset="0.125" stop-color="#ca3e72"/><stop offset="0.156" stop-color="#de4968"/><stop offset="0.187" stop-color="#ed5a5f"/><stop offset="0.218" stop-color="#f7705c"/><stop offset="0.250" stop-color="#fc8961"/><stop offset="0.312" stop-color="#fe9f6d"/><stop offset="0.375" stop-color="#feb77e"/><stop offset="0.500" stop-color="#fe9f6d"/><stop offset="0.524" stop-color="#fc8961"/><stop offset="0.549" stop-color="#f7705c"/><stop offset="0.573" stop-color="#ed5a5f"/><stop offset="0.598" stop-color="#de4968"/><stop offset="0.602" stop-color="#c73d73"/><stop offset="0.606" stop-color="#ae347b"/><stop offset="0.610" stop-color="#962c80"/><stop offset="0.615" stop-color="#7e2482"/><stop offset="0.619" stop-color="#671b80"/><stop offset="0.623" stop-color="#51127c"/><stop offset="0.624" stop-color="#641a80"/><stop offset="0.624" stop-color="#782281"/><stop offset="0.625" stop-color="#8c2981"/><stop offset="0.635" stop-color="#782281"/><stop offset="0.645" stop-color="#641a80"/><stop offset="0.656" stop-color="#51127c"/><stop offset="0.660" stop-color="#671b80"/><stop offset="0.665" stop-color="#7e2482"/><stop offset="0.669" stop-color="#962c80"/><stop offset="0.674" stop-color="#ae347b"/><stop offset="0.678" stop-color="#c73d73"/><stop offset="0.683" stop-color="#de4968"/><stop offset="0.705" stop-color="#ed5a5f"/><stop offset="0.728" stop-color="#f7705c"/><stop offset="0.750" stop-color="#fc8961"/><stop offset="0.875" stop-color="#fe9f6d"/><stop offset="1.000" stop-color="#fe9f6d"/></linearGradient><linearGradient id="g2_2"><stop offset="0.000" stop-color="#fe9f6d"/><stop offset="0.125" stop-color="#fe9f6d"/><stop offset="0.250" stop-color="#feac76"/><stop offset="0.375" stop-color="#feb77e"/><stop offset="0.500" stop-color="#feb77e"/><stop offset="0.531" stop-color="#fe9f6d"/><stop offset="0.561" stop-color="#fc8961"/><stop offset="0.592" stop-color="#f7705c"/><stop offset="0.623" stop-color="#ed5a5f"/><stop offset="0.624" stop-color="#f7705c"/><stop offset="0.624" stop-color="#fc8961"/><stop offset="0.625" stop-color="#fe9f6d"/><stop offset="0.635" stop-color="#fc8961"/><stop offset="0.645" stop-color="#f7705c"/><stop offset="0.656" stop-color="#ed5a5f"/><stop offset="0.687" stop-color="#f7705c"/><stop offset="0.718" stop-color="#fc8961"/><stop offset="0.750" stop-color="#fe9f6d"/><stop offset="0.875" stop-color="#fe9f6d"/><stop offset="1.000" stop-color="#fc8961"/></linearGradient><linearGradient id="g2_3"><stop offset="0.000" stop-color="#fe9f6d"/><stop offset="0.125" stop-color="#fe9f6d"/><stop offset="0.250" stop-color="#fe9f6d"/><stop offset="0.375" stop-color="#feb77e"/><stop offset="0.500" stop-color="#feb77e"/><stop offset="0.625" stop-color="#feb77e"/><stop offset="0.687" stop-color="#fe9f6d"/><stop offset="0.750" stop-color="#fc8961"/><stop offset="0.812" stop-color="#f7705c"/><stop offset="0.875" stop-color="#ed5a5f"/><stop offset="1.000" stop-color="#ed5a5f"/></linearGradient><linearGradient id="g2_4"><stop offset="0.000" stop-color="#fe9f6d"/><stop offset="0.125" stop-color="#fc8961"/><stop offset="0.250" stop-color="#fc8961"/><stop offset="0.312" stop-color="#fe9f6d"/><stop offset="0.375" stop-color="#feb77e"/><stop offset="0.500" stop-color="#feb77e"/><stop offset="0.625" stop-color="#feb77e"/><stop offset="0.656" stop-color="#fe9f6d"/><stop offset="0.687" stop-color="#fc8961"/><stop offset="0.719" stop-color="#f7705c"/><stop offset="0.750" stop-color="#ed5a5f"/><stop offset="0.763" stop-color="#de4968"/><stop offset="0.777" stop-color="#ca3e72"/><stop offset="0.791" stop-color="#b73779"/><stop offset="0.804" stop-color="#a1307e"/><stop offset="0.840" stop-color="#8c2981"/><stop offset="0.875" stop-color="#782281"/><stop offset="1.000" stop-color="#782281"/></linearGradient><linearGradient id="g2_5"><stop offset="0.000" stop-color="#feb77e"/><stop offset="0.125" stop-color="#feb77e"/><stop offset="0.250" stop-color="#feb77e"/><stop offset="0.375" stop-color="#fecf92"/><stop offset="0.500" stop-color="#fec488"/><stop offset="0.562" stop-color="#feb27a"/><stop offset="0.625" stop-color="#fe9f6d"/><stop offset="0.656" stop-color="#fc8961"/><stop offset="0.687" stop-color="#f7705c"/><stop offset="0.719" stop-color="#ed5a5f"/><stop offset="0.750" stop-color="#de4968"/><stop offset="0.766" stop-color="#ca3e72"/><stop offset="0.782" stop-color="#b73779"/><stop offset="0.797" stop-color="#a1307e"/><stop offset="0.813" stop-color="#8c2981"/><stop offset="0.821" stop-color="#782281"/><stop offset="0.829" stop-color="#641a80"/><stop offset="0.837" stop-color="#51127c"/><stop offset="0.839" stop-color="#3b0f70"/><stop offset="0.841" stop-color="#251255"/><stop offset="0.843" stop-color="#140e36"/><stop offset="0.846" stop-color="#06051a"/><stop offset="0.848" stop-color="#000004"/><stop offset="0.873" stop-color="#000004"/><stop offset="0.874" stop-color="#06051a"/><stop offset="0.874" stop-color="#140e36"/><stop offset="0.875" stop-color="#251255"/><stop offset="0.884" stop-color="#3b0f70"/><stop offset="0.913" stop-color="#51127c"/><stop offset="1.000" stop-color="#51127c"/></linearGradient><linearGradient id="g2_6"><stop offset="0.000" stop-color="#fecf92"/><stop offset="0.125" stop-color="#fecf92"/><stop offset="0.170" stop-color="#feb77e"/><stop offset="0.215" stop-color="#fe9f6d"/><stop offset="0.219" stop-color="#fb835f"/><stop offset="0.222" stop-color="#f4675c"/><stop offset="0.226" stop-color="#e44f64"/><stop offset="0.230" stop-color="#cf4070"/><stop offset="0.233" stop-color="#b73779"/><stop offset="0.250" stop-color="#ca3e72"/><stop offset="0.255" stop-color="#b73779"/><stop offset="0.260" stop-color="#a1307e"/><stop offset="0.265" stop-color="#8c2981"/><stop offset="0.270" stop-color="#782281"/><stop offset="0.275" stop-color="#641a80"/><stop offset="0.297" stop-color="#641a80"/><stop offset="0.305" stop-color="#7c2382"/><stop offset="0.314" stop-color="#942c80"/><stop offset="0.323" stop-color="#ad347c"/><stop offset="0.332" stop-color="#c73d73"/><stop offset="0.340" stop-color="#de4968"/><stop offset="0.357" stop-color="#ed5a5f"/><stop offset="0.375" stop-color="#f7705c"/><stop offset="0.437" stop-color="#fc8961"/><stop offset="0.500" stop-color="#fe9f6d"/><stop offset="0.625" stop-color="#fe9f6d"/><stop offset="0.666" stop-color="#fc8961"/><stop offset="0.708" stop-color="#f7705c"/><stop offset="0.750" stop-color="#ed5a5f"/><stop offset="0.812" stop-color="#de4968"/><stop offset="0.875" stop-color="#ca3e72"/><stop offset="1.000" stop-color="#b73779"/></linearGradient><linearGradient id="g2_7"><stop offset="0.000" stop-color="#fde7a9"/><stop offset="0.125" stop-color="#fcfdbf"/><stop offset="0.250" stop-color="#fcfdbf"/><stop offset="0.375" stop-color="#fcfdbf"/><stop offset="0.437" stop-color="#fcecae"/><stop offset="0.500" stop-color="#fdda9c"/><stop offset="0.625" stop-color="#fecf92"/><stop offset="0.750" stop-color="#feb77e"/><stop offset="0.875" stop-color="#feb77e"/><stop offset="1.000" stop-color="#fe9f6d"/></linearGradient><linearGradient id="g2_8"><stop offset="0.000" stop-color="#fde7a9"/><stop offset="0.125" stop-color="#fcfdbf"/><stop offset="0.250" stop-color="#fcfdbf"/><stop offset="0.375" stop-color="#fde7a9"/><stop offset="0.437" stop-color="#fed597"/><stop offset="0.500" stop-color="#fec488"/><stop offset="0.625" stop-color="#fecf92"/><stop offset="0.750" stop-color="#fecf92"/><stop offset="0.875" stop-color="#fecf92"/><stop offset="1.000" stop-color="#feb77e"/></linearGradient><linearGradient id="g2_9"><stop offset="0.000" stop-color="#fecf92"/><stop offset="0.125" stop-color="#fecf92"/><stop offset="0.250" stop-color="#fec488"/><stop offset="0.291" stop-color="#feb078"/><stop offset="0.333" stop-color="#fd9b6b"/><stop offset="0.375" stop-color="#fc8961"/><stop offset="0.382" stop-color="#f7705c"/><stop offset="0.389" stop-color="#ed5a5f"/><stop offset="0.396" stop-color="#de4968"/><stop offset="0.404" stop-color="#ca3e72"/><stop offset="0.412" stop-color="#b73779"/><stop offset="0.420" stop-color="#a1307e"/><stop offset="0.428" stop-color="#8c2981"/><stop offset="0.436" stop-color="#782281"/><stop offset="0.446" stop-color="#8c2981"/><stop offset="0.456" stop-color="#a1307e"/><stop offset="0.466" stop-color="#b73779"/><stop offset="0.476" stop-color="#ca3e72"/><stop offset="0.484" stop-color="#de4968"/><stop offset="0.492" stop-color="#ed5a5f"/><stop offset="0.500" stop-color="#f7705c"/><stop offset="0.541" stop-color="#fc8961"/><stop offset="0.583" stop-color="#fe9f6d"/><stop offset="0.625" stop-color="#feb77e"/><stop offset="0.750" stop-color="#fecf92"/><stop offset="0.875" stop-color="#feb77e"/><stop offset="1.000" stop-color="#fe9f6d"/></linearGradient><linearGradient id="g2_10"><stop offset="0.000" stop-color="#fe9f6d"/><stop offset="0.125" stop-color="#fe9f6d"/><stop offset="0.250" stop-color="#fd9467"/><stop offset="0.375" stop-color="#fc8961"/><stop offset="0.500" stop-color="#fc8961"/><stop offset="0.625" stop-color="#fe9f6d"/><stop offset="0.750" stop-color="#feb77e"/><stop offset="0.875" stop-color="#fe9f6d"/><stop offset="1.000" stop-color="#fc8961"/></linearGradient><linearGradient id="g2_11"><stop offset="0.000" stop-color="#fe9f6d"/><stop offset="0.125" stop-color="#fe9f6d"/><stop offset="0.250" stop-color="#fc8961"/><stop offset="0.312" stop-color="#f7705c"/><stop offset="0.375" stop-color="#ed5a5f"/><stop offset="0.500" stop-color="#f7705c"/><stop offset="0.625" stop-color="#fc8961"/><stop offset="0.750" stop-color="#fe9f6d"/><stop offset="0.875" stop-color="#fc8961"/><stop offset="1.000" stop-color="#f7705c"/></linearGradient><linearGradient id="g2_12"><stop offset="0.000" stop-color="#fe9f6d"/><stop offset="0.125" stop-color="#fe9f6d"/><stop offset="0.250" stop-color="#fd9467"/><stop offset="0.375" stop-color="#fc8961"/><stop offset="0.469" stop-color="#f7705c"/><stop offset="0.475" stop-color="#ec5860"/><stop offset="0.481" stop-color="#db476a"/><stop offset="0.487" stop-color="#c43c75"/><stop offset="0.494" stop-color="#ad347c"/><stop offset="0.500" stop-color="#962c80"/><stop offset="0.536" stop-color="#882781"/><stop offset="0.572" stop-color="#782281"/><stop offset="0.585" stop-color="#8c2981"/><stop offset="0.599" stop-color="#a1307e"/><stop offset="0.612" stop-color="#b73779"/><stop offset="0.625" stop-color="#ca3e72"/><stop offset="0.687" stop-color="#de4968"/><stop offset="0.750" stop-color="#ed5a5f"/><stop offset="0.875" stop-color="#f7705c"/><stop offset="1.000" stop-color="#ed5a5f"/></linearGradient><linearGradient id="g2_13"><stop offset="0.000" stop-color="#fc8961"/><stop offset="0.125" stop-color="#fc8961"/><stop offset="0.250" stop-color="#fd9467"/><stop offset="0.375" stop-color="#fe9f6d"/><stop offset="0.500" stop-color="#feb77e"/><stop offset="0.625" stop-color="#feb77e"/><stop offset="0.750" stop-color="#fecf92"/><stop offset="0.875" stop-color="#fecf92"/><stop offset="1.000" stop-color="#feb77e"/></linearGradient><linearGradient id="g2_14"><stop offset="0.000" stop-color="#fc8961"/><stop offset="0.125" stop-color="#fc8961"/><stop offset="0.250" stop-color="#fd9467"/><stop offset="0.375" stop-color="#fe9f6d"/><stop offset="0.500" stop-color="#feb77e"/><stop offset="0.625" stop-color="#fecf92"/><stop offset="0.750" stop-color="#fde7a9"/><stop offset="0.875" stop-color="#fde7a9"/><stop offset="1.000" stop-color="#fecf92"/></linearGradient><linearGradient id="g2_15"><stop offset="0.000" stop-color="#fe9f6d"/><stop offset="0.125" stop-color="#fe9f6d"/><stop offset="0.250" stop-color="#fd9467"/><stop offset="0.312" stop-color="#fa815f"/><stop offset="0.375" stop-color="#f7705c"/><stop offset="0.500" stop-color="#f7705c"/><stop offset="0.625" stop-color="#fc8961"/><stop offset="0.666" stop-color="#fd9b6b"/><stop offset="0.708" stop-color="#feb078"/><stop offset="0.750" stop-color="#fec488"/><stop offset="0.812" stop-color="#fed597"/><stop offset="0.875" stop-color="#fde7a9"/><stop offset="1.000" stop-color="#fecf92"/></linearGradient><linearGradient id="g2_16"><stop offset="0.000" stop-color="#fe9f6d"/><stop offset="0.125" stop-color="#fe9f6d"/><stop offset="0.250" stop-color="#fd9467"/><stop offset="0.312" stop-color="#fa815f"/><stop offset="0.375" stop-color="#f7705c"/><stop offset="0.500" stop-color="#f7705c"/><stop offset="0.625" stop-color="#f7705c"/><stop offset="0.666" stop-color="#fb835f"/><stop offset="0.708" stop-color="#fd9869"/><stop offset="0.750" stop-color="#feac76"/><stop offset="0.812" stop-color="#febd82"/><stop offset="0.875" stop-color="#fecf92"/><stop offset="1.000" stop-color="#fecf92"/></linearGradient><linearGradient id="g2_17"><stop offset="0.000" stop-color="#f7705c"/><stop offset="0.125" stop-color="#f7705c"/><stop offset="0.250" stop-color="#f7705c"/><stop offset="0.375" stop-color="#f7705c"/><stop offset="0.500" stop-color="#f7705c"/><stop offset="0.625" stop-color="#f7705c"/><stop offset="0.666" stop-color="#fb835f"/><stop offset="0.708" stop-color="#fd9869"/><stop offset="0.750" stop-color="#feac76"/><stop offset="0.812" stop-color="#febd82"/><stop offset="0.875" stop-color="#fecf92"/><stop offset="1.000" stop-color="#fecf92"/></linearGradient><linearGradient id="g2_18"><stop offset="0.000" stop-color="#de4968"/><stop offset="0.125" stop-color="#de4968"/><stop offset="0.250" stop-color="#d5446d"/><stop offset="0.375" stop-color="#ca3e72"/><stop offset="0.416" stop-color="#db476a"/><stop offset="0.458" stop-color="#e95462"/><stop offset="0.500" stop-color="#f2645c"/><stop offset="0.562" stop-color="#f8765c"/><stop offset="0.625" stop-color="#fc8961"/><stop offset="0.687" stop-color="#fd9a6a"/><stop offset="0.750" stop-color="#feac76"/><stop offset="0.812" stop-color="#febd82"/><stop offset="0.875" stop-color="#fecf92"/><stop offset="1.000" stop-color="#fecf92"/></linearGradient><linearGradient id="g2_19"><stop offset="0.000" stop-color="#8c2981"/><stop offset="0.062" stop-color="#a1307e"/><stop offset="0.125" stop-color="#b73779"/><stop offset="0.166" stop-color="#c73d73"/><stop offset="0.208" stop-color="#d8456c"/><stop offset="0.250" stop-color="#e75263"/><stop offset="0.312" stop-color="#f05f5e"/><stop offset="0.375" stop-color="#f7705c"/><stop offset="0.416" stop-color="#ed5a5f"/><stop offset="0.458" stop-color="#de4968"/><stop offset="0.500" stop-color="#ca3e72"/><stop offset="0.512" stop-color="#b73779"/><stop offset="0.523" stop-color="#a1307e"/><stop offset="0.529" stop-color="#8c2981"/><stop offset="0.535" stop-color="#782281"/><stop offset="0.541" stop-color="#641a80"/><stop offset="0.544" stop-color="#4e117b"/><stop offset="0.546" stop-color="#36106b"/><stop offset="0.548" stop-color="#20114b"/><stop offset="0.550" stop-color="#0e0b2b"/><stop offset="0.574" stop-color="#0e0b2b"/><stop offset="0.576" stop-color="#20114b"/><stop offset="0.579" stop-color="#36106b"/><stop offset="0.581" stop-color="#4e117b"/><stop offset="0.583" stop-color="#641a80"/><stop offset="0.589" stop-color="#782281"/><stop offset="0.596" stop-color="#8c2981"/><stop offset="0.602" stop-color="#a1307e"/><stop offset="0.608" stop-color="#b73779"/><stop offset="0.617" stop-color="#ca3e72"/><stop offset="0.625" stop-color="#de4968"/><stop offset="0.666" stop-color="#ed5a5f"/><stop offset="0.708" stop-color="#f7705c"/><stop offset="0.750" stop-color="#fc8961"/><stop offset="0.812" stop-color="#fe9f6d"/><stop offset="0.875" stop-color="#feb77e"/><stop offset="1.000" stop-color="#feb77e"/></linearGradient><linearGradient id="g2_20"><stop offset="0.000" stop-color="#f7705c"/><stop offset="0.125" stop-color="#f7705c"/><stop offset="0.250" stop-color="#f97b5d"/><stop offset="0.375" stop-color="#fc8961"/><stop offset="0.500" stop-color="#fc8961"/><stop offset="0.625" stop-color="#fc8961"/><stop offset="0.750" stop-color="#fd9467"/><stop offset="0.875" stop-color="#fe9f6d"/><stop offset="1.000" stop-color="#fe9f6d"/></linearGradient><linearGradient id="g2_21"><stop offset="0.000" stop-color="#fe9f6d"/><stop offset="0.125" stop-color="#fe9f6d"/><stop offset="0.250" stop-color="#fe9f6d"/><stop offset="0.375" stop-color="#fe9f6d"/><stop offset="0.437" stop-color="#fc8e64"/><stop offset="0.500" stop-color="#f97b5d"/><stop offset="0.625" stop-color="#fc8961"/><stop offset="0.666" stop-color="#f8745c"/><stop offset="0.708" stop-color="#f1605d"/><stop offset="0.750" stop-color="#e75263"/><stop offset="0.762" stop-color="#d8456c"/><stop offset="0.774" stop-color="#c73d73"/><stop offset="0.786" stop-color="#b73779"/><stop offset="0.796" stop-color="#a1307e"/><stop offset="0.805" stop-color="#8c2981"/><stop offset="0.815" stop-color="#782281"/><stop offset="0.817" stop-color="#621980"/><stop offset="0.819" stop-color="#4e117b"/><stop offset="0.821" stop-color="#36106b"/><stop offset="0.822" stop-color="#20114b"/><stop offset="0.824" stop-color="#100b2d"/><stop offset="0.826" stop-color="#03030f"/><stop offset="0.850" stop-color="#03030f"/><stop offset="0.852" stop-color="#100b2d"/><stop offset="0.854" stop-color="#21114e"/><stop offset="0.856" stop-color="#38106c"/><stop offset="0.858" stop-color="#4e117b"/><stop offset="0.860" stop-color="#641a80"/><stop offset="0.875" stop-color="#782281"/><stop offset="0.882" stop-color="#8c2981"/><stop offset="0.888" stop-color="#a1307e"/><stop offset="0.895" stop-color="#b73779"/><stop offset="0.947" stop-color="#ca3e72"/><stop offset="1.000" stop-color="#de4968"/></linearGradient><linearGradient id="g2_22"><stop offset="0.000" stop-color="#fc8961"/><stop offset="0.125" stop-color="#fc8961"/><stop offset="0.250" stop-color="#fc8961"/><stop offset="0.375" stop-color="#f7705c"/><stop offset="0.500" stop-color="#f7705c"/><stop offset="0.625" stop-color="#f7705c"/><stop offset="0.750" stop-color="#fc8961"/><stop offset="0.875" stop-color="#fc8961"/><stop offset="1.000" stop-color="#fc8961"/></linearGradient><linearGradient id="g2_23"><stop offset="0.000" stop-color="#de4968"/><stop offset="0.125" stop-color="#ca3e72"/><stop offset="0.152" stop-color="#b73779"/><stop offset="0.159" stop-color="#a1307e"/><stop offset="0.166" stop-color="#8c2981"/><stop offset="0.173" stop-color="#782281"/><stop offset="0.175" stop-color="#621980"/><stop offset="0.176" stop-color="#4e117b"/><stop offset="0.178" stop-color="#36106b"/><stop offset="0.180" stop-color="#20114b"/><stop offset="0.181" stop-color="#100b2d"/><stop offset="0.183" stop-color="#03030f"/><stop offset="0.206" stop-color="#03030f"/><stop offset="0.208" stop-color="#100b2d"/><stop offset="0.210" stop-color="#21114e"/><stop offset="0.212" stop-color="#38106c"/><stop offset="0.213" stop-color="#4e117b"/><stop offset="0.215" stop-color="#641a80"/><stop offset="0.233" stop-color="#782281"/><stop offset="0.241" stop-color="#882781"/><stop offset="0.250" stop-color="#962c80"/><stop offset="0.291" stop-color="#ae347b"/><stop offset="0.333" stop-color="#c73d73"/><stop offset="0.375" stop-color="#de4968"/><stop offset="0.437" stop-color="#ea5661"/><stop offset="0.500" stop-color="#f2645c"/><stop offset="0.625" stop-color="#f7705c"/><stop offset="0.687" stop-color="#fa815f"/><stop offset="0.750" stop-color="#fd9467"/><stop offset="0.875" stop-color="#fe9f6d"/><stop offset="1.000" stop-color="#fc8961"/></linearGradient><linearGradient id="g2_24"><stop offset="0.000" stop-color="#feb77e"/><stop offset="0.125" stop-color="#feb77e"/><stop offset="0.250" stop-color="#feb77e"/><stop offset="0.375" stop-color="#feb77e"/><stop offset="0.500" stop-color="#feac76"/><stop offset="0.625" stop-color="#fe9f6d"/><stop offset="0.750" stop-color="#fe9f6d"/><stop offset="0.875" stop-color="#fe9f6d"/><stop offset="1.000" stop-color="#fc8961"/></linearGradient><linearGradient id="g2_25"><stop offset="0.000" stop-color="#fecf92"/><stop offset="0.125" stop-color="#fecf92"/><stop offset="0.250" stop-color="#fec488"/><stop offset="0.375" stop-color="#feb77e"/><stop offset="0.394" stop-color="#fd9b6b"/><stop offset="0.412" stop-color="#fa7d5e"/><stop offset="0.431" stop-color="#f2625d"/><stop offset="0.450" stop-color="#e24d66"/><stop offset="0.469" stop-color="#ca3e72"/><stop offset="0.500" stop-color="#de4968"/><stop offset="0.569" stop-color="#de4968"/><stop offset="0.625" stop-color="#ed5a5f"/><stop offset="0.687" stop-color="#f56b5c"/><stop offset="0.750" stop-color="#f97b5d"/><stop offset="0.875" stop-color="#fc8961"/><stop offset="0.937" stop-color="#f7705c"/><stop offset="1.000" stop-color="#ed5a5f"/></linearGradient><linearGradient id="g2_26"><stop offset="0.000" stop-color="#fecf92"/><stop offset="0.125" stop-color="#fecf92"/><stop offset="0.250" stop-color="#fecf92"/><stop offset="0.375" stop-color="#fecf92"/><stop offset="0.500" stop-color="#fec488"/><stop offset="0.625" stop-color="#feb77e"/><stop offset="0.750" stop-color="#feac76"/><stop offset="0.812" stop-color="#fd9a6a"/><stop offset="0.875" stop-color="#fc8961"/><stop offset="1.000" stop-color="#f7705c"/></linearGradient><linearGradient id="g2_27"><stop offset="0.000" stop-color="#fecf92"/><stop offset="0.125" stop-color="#fecf92"/><stop offset="0.250" stop-color="#fecf92"/><stop offset="0.375" stop-color="#fecf92"/><stop offset="0.500" stop-color="#feb77e"/><stop offset="0.625" stop-color="#fe9f6d"/><stop offset="0.750" stop-color="#fd9467"/><stop offset="0.812" stop-color="#fa815f"/><stop offset="0.875" stop-color="#f7705c"/><stop offset="1.000" stop-color="#ed5a5f"/></linearGradient><linearGradient id="g2_28"><stop offset="0.000" stop-color="#feb77e"/><stop offset="0.125" stop-color="#feb77e"/><stop offset="0.250" stop-color="#feac76"/><stop offset="0.375" stop-color="#fe9f6d"/><stop offset="0.416" stop-color="#fc8961"/><stop offset="0.458" stop-color="#f7705c"/><stop offset="0.500" stop-color="#ed5a5f"/><stop offset="0.512" stop-color="#de4968"/><stop offset="0.525" stop-color="#ca3e72"/><stop offset="0.538" stop-color="#b73779"/><stop offset="0.550" stop-color="#a1307e"/><stop offset="0.625" stop-color="#b73779"/><stop offset="0.641" stop-color="#a1307e"/><stop offset="0.668" stop-color="#b73779"/><stop offset="0.695" stop-color="#ca3e72"/><stop offset="0.723" stop-color="#de4968"/><stop offset="0.750" stop-color="#ed5a5f"/><stop offset="0.875" stop-color="#ed5a5f"/><stop offset="1.000" stop-color="#de4968"/></linearGradient><linearGradient id="g2_29"><stop offset="0.000" stop-color="#fc8961"/><stop offset="0.125" stop-color="#fc8961"/><stop offset="0.250" stop-color="#fc8961"/><stop offset="0.375" stop-color="#fc8961"/><stop offset="0.500" stop-color="#fc8961"/><stop offset="0.625" stop-color="#f7705c"/><stop offset="0.750" stop-color="#f97b5d"/><stop offset="0.812" stop-color="#f56b5c"/><stop offset="0.875" stop-color="#ed5a5f"/><stop offset="1.000" stop-color="#de4968"/></linearGradient><linearGradient id="g2_30"><stop offset="0.000" stop-color="#de4968"/><stop offset="0.125" stop-color="#ca3e72"/><stop offset="0.187" stop-color="#bc3978"/><stop offset="0.250" stop-color="#ab337c"/><stop offset="0.265" stop-color="#932b80"/><stop offset="0.281" stop-color="#7b2382"/><stop offset="0.297" stop-color="#641a80"/><stop offset="0.369" stop-color="#641a80"/><stop offset="0.375" stop-color="#782281"/><stop offset="0.406" stop-color="#8c2981"/><stop offset="0.437" stop-color="#a1307e"/><stop offset="0.468" stop-color="#b73779"/><stop offset="0.500" stop-color="#ca3e72"/><stop offset="0.625" stop-color="#de4968"/><stop offset="0.687" stop-color="#ea5661"/><stop offset="0.750" stop-color="#f2645c"/><stop offset="0.812" stop-color="#ea5661"/><stop offset="0.875" stop-color="#de4968"/><stop offset="0.937" stop-color="#ca3e72"/><stop offset="1.000" stop-color="#b73779"/></linearGradient><linearGradient id="g2_31"><stop offset="0.000" stop-color="#de4968"/><stop offset="0.125" stop-color="#ca3e72"/><stop offset="0.166" stop-color="#ba3878"/><stop offset="0.208" stop-color="#a8327d"/><stop offset="0.250" stop-color="#962c80"/><stop offset="0.312" stop-color="#882781"/><stop offset="0.375" stop-color="#782281"/><stop offset="0.406" stop-color="#902a81"/><stop offset="0.437" stop-color="#a6317d"/><stop offset="0.468" stop-color="#bd3977"/><stop offset="0.500" stop-color="#d5446d"/><stop offset="0.562" stop-color="#e24d66"/><stop offset="0.625" stop-color="#ed5a5f"/><stop offset="0.750" stop-color="#f2645c"/><stop offset="0.812" stop-color="#ea5661"/><stop offset="0.875" stop-color="#de4968"/><stop offset="1.000" stop-color="#ca3e72"/></linearGradient><linearGradient id="g2_32"><stop offset="0.000" stop-color="#f7705c"/><stop offset="0.125" stop-color="#f7705c"/><stop offset="0.250" stop-color="#f7705c"/><stop offset="0.375" stop-color="#f7705c"/><stop offset="0.500" stop-color="#f7705c"/><stop offset="0.625" stop-color="#f7705c"/><stop offset="0.750" stop-color="#fc8961"/><stop offset="0.875" stop-color="#fc8961"/><stop offset="1.000" stop-color="#f7705c"/></linearGradient><linearGradient id="g2_33"><stop offset="0.000" stop-color="#fe9f6d"/><stop offset="0.125" stop-color="#fe9f6d"/><stop offset="0.250" stop-color="#fd9467"/><stop offset="0.312" stop-color="#fa815f"/><stop offset="0.375" stop-color="#f7705c"/><stop offset="0.392" stop-color="#ed5a5f"/><stop offset="0.409" stop-color="#de4968"/><stop offset="0.413" stop-color="#ca3e72"/><stop offset="0.416" stop-color="#b73779"/><stop offset="0.420" stop-color="#a1307e"/><stop offset="0.424" stop-color="#8c2981"/><stop offset="0.427" stop-color="#782281"/><stop offset="0.429" stop-color="#621980"/><stop offset="0.430" stop-color="#4e117b"/><stop offset="0.432" stop-color="#36106b"/><stop offset="0.433" stop-color="#20114b"/><stop offset="0.435" stop-color="#100b2d"/><stop offset="0.436" stop-color="#03030f"/><stop offset="0.460" stop-color="#03030f"/><stop offset="0.462" stop-color="#100b2d"/><stop offset="0.463" stop-color="#21114e"/><stop offset="0.465" stop-color="#38106c"/><stop offset="0.467" stop-color="#4e117b"/><stop offset="0.469" stop-color="#641a80"/><stop offset="0.478" stop-color="#782281"/><stop offset="0.487" stop-color="#8c2981"/><stop offset="0.500" stop-color="#962c80"/><stop offset="0.511" stop-color="#ae347b"/><stop offset="0.521" stop-color="#c73d73"/><stop offset="0.532" stop-color="#de4968"/><stop offset="0.625" stop-color="#ed5a5f"/><stop offset="0.666" stop-color="#f66c5c"/><stop offset="0.708" stop-color="#fa7f5e"/><stop offset="0.750" stop-color="#fd9467"/><stop offset="0.875" stop-color="#fe9f6d"/><stop offset="1.000" stop-color="#fc8961"/></linearGradient><linearGradient id="g2_34"><stop offset="0.000" stop-color="#fe9f6d"/><stop offset="0.125" stop-color="#fe9f6d"/><stop offset="0.250" stop-color="#fd9467"/><stop offset="0.375" stop-color="#fc8961"/><stop offset="0.500" stop-color="#fc8961"/><stop offset="0.625" stop-color="#fc8961"/><stop offset="0.750" stop-color="#fc8961"/><stop offset="0.875" stop-color="#fc8961"/><stop offset="1.000" stop-color="#fc8961"/></linearGradient><linearGradient id="g2_35"><stop offset="0.000" stop-color="#fc8961"/><stop offset="0.125" stop-color="#fc8961"/><stop offset="0.187" stop-color="#f7705c"/><stop offset="0.250" stop-color="#ed5a5f"/><stop offset="0.268" stop-color="#de4968"/><stop offset="0.286" stop-color="#ca3e72"/><stop offset="0.304" stop-color="#b73779"/><stop offset="0.322" stop-color="#a1307e"/><stop offset="0.330" stop-color="#8c2981"/><stop offset="0.338" stop-color="#782281"/><stop offset="0.346" stop-color="#641a80"/><stop offset="0.347" stop-color="#4e117b"/><stop offset="0.349" stop-color="#38106c"/><stop offset="0.351" stop-color="#21114e"/><stop offset="0.353" stop-color="#100b2d"/><stop offset="0.355" stop-color="#03030f"/><stop offset="0.375" stop-color="#03030f"/><stop offset="0.378" stop-color="#03030f"/><stop offset="0.380" stop-color="#100b2d"/><stop offset="0.382" stop-color="#21114e"/><stop offset="0.384" stop-color="#38106c"/><stop offset="0.386" stop-color="#4e117b"/><stop offset="0.387" stop-color="#641a80"/><stop offset="0.395" stop-color="#782281"/><stop offset="0.402" stop-color="#8c2981"/><stop offset="0.409" stop-color="#a1307e"/><stop offset="0.439" stop-color="#b73779"/><stop offset="0.470" stop-color="#ca3e72"/><stop offset="0.500" stop-color="#de4968"/><stop offset="0.562" stop-color="#ed5a5f"/><stop offset="0.625" stop-color="#f7705c"/><stop offset="0.750" stop-color="#fc8961"/><stop offset="0.875" stop-color="#fc8961"/><stop offset="1.000" stop-color="#fc8961"/></linearGradient><linearGradient id="g2_36"><stop offset="0.000" stop-color="#ed5a5f"/><stop offset="0.125" stop-color="#ed5a5f"/><stop offset="0.250" stop-color="#de4968"/><stop offset="0.375" stop-color="#ca3e72"/><stop offset="0.500" stop-color="#de4968"/><stop offset="0.562" stop-color="#ed5a5f"/><stop offset="0.625" stop-color="#f7705c"/><stop offset="0.687" stop-color="#fa815f"/><stop offset="0.750" stop-color="#fd9467"/><stop offset="0.875" stop-color="#fe9f6d"/><stop offset="1.000" stop-color="#fc8961"/></linearGradient><linearGradient id="g2_37"><stop offset="0.000" stop-color="#140e36"/><stop offset="0.036" stop-color="#140e36"/><stop offset="0.045" stop-color="#251255"/><stop offset="0.054" stop-color="#3b0f70"/><stop offset="0.063" stop-color="#51127c"/><stop offset="0.072" stop-color="#641a80"/><stop offset="0.098" stop-color="#782281"/><stop offset="0.125" stop-color="#8c2981"/><stop offset="0.166" stop-color="#a1307e"/><stop offset="0.208" stop-color="#b73779"/><stop offset="0.250" stop-color="#ca3e72"/><stop offset="0.375" stop-color="#b73779"/><stop offset="0.385" stop-color="#a1307e"/><stop offset="0.395" stop-color="#8c2981"/><stop offset="0.405" stop-color="#782281"/><stop offset="0.500" stop-color="#782281"/><stop offset="0.531" stop-color="#8c2981"/><stop offset="0.562" stop-color="#a1307e"/><stop offset="0.594" stop-color="#b73779"/><stop offset="0.625" stop-color="#ca3e72"/><stop offset="0.666" stop-color="#db476a"/><stop offset="0.708" stop-color="#e95462"/><stop offset="0.750" stop-color="#f2645c"/><stop offset="0.875" stop-color="#f7705c"/><stop offset="1.000" stop-color="#f7705c"/></linearGradient><linearGradient id="g2_38"><stop offset="0.000" stop-color="#f7705c"/><stop offset="0.125" stop-color="#f7705c"/><stop offset="0.250" stop-color="#f7705c"/><stop offset="0.375" stop-color="#f7705c"/><stop offset="0.500" stop-color="#f7705c"/><stop offset="0.625" stop-color="#f7705c"/><stop offset="0.750" stop-color="#fc8961"/><stop offset="0.875" stop-color="#fc8961"/><stop offset="1.000" stop-color="#f7705c"/></linearGradient><linearGradient id="g2_39"><stop offset="0.000" stop-color="#feb77e"/><stop offset="0.125" stop-color="#feb77e"/><stop offset="0.250" stop-color="#feb77e"/><stop offset="0.375" stop-color="#feb77e"/><stop offset="0.500" stop-color="#feb77e"/><stop offset="0.625" stop-color="#feb77e"/><stop offset="0.750" stop-color="#feac76"/><stop offset="0.875" stop-color="#fe9f6d"/><stop offset="1.000" stop-color="#fc8961"/></linearGradient><linearGradient id="g2_40"><stop offset="0.000" stop-color="#feb77e"/><stop offset="0.125" stop-color="#feb77e"/><stop offset="0.250" stop-color="#feb77e"/><stop offset="0.375" stop-color="#feb77e"/><stop offset="0.500" stop-color="#feac76"/><stop offset="0.625" stop-color="#fe9f6d"/><stop offset="0.750" stop-color="#fd9467"/><stop offset="0.875" stop-color="#fc8961"/><stop offset="1.000" stop-color="#fc8961"/></linearGradient><linearGradient id="g2_41"><stop offset="0.000" stop-color="#fe9f6d"/><stop offset="0.125" stop-color="#fe9f6d"/><stop offset="0.250" stop-color="#fc8961"/><stop offset="0.375" stop-color="#f7705c"/><stop offset="0.500" stop-color="#f2645c"/><stop offset="0.541" stop-color="#e34e65"/><stop offset="0.583" stop-color="#cd4071"/><stop offset="0.625" stop-color="#b73779"/><stop offset="0.750" stop-color="#ca3e72"/><stop offset="0.792" stop-color="#de4968"/><stop offset="0.833" stop-color="#ed5a5f"/><stop offset="0.875" stop-color="#f7705c"/><stop offset="1.000" stop-color="#fc8961"/></linearGradient><linearGradient id="g2_42"><stop offset="0.000" stop-color="#fc8961"/><stop offset="0.125" stop-color="#fc8961"/><stop offset="0.250" stop-color="#fc8961"/><stop offset="0.375" stop-color="#fc8961"/><stop offset="0.500" stop-color="#fc8961"/><stop offset="0.625" stop-color="#fc8961"/><stop offset="0.687" stop-color="#f8765c"/><stop offset="0.750" stop-color="#f2645c"/><stop offset="0.812" stop-color="#f8765c"/><stop offset="0.875" stop-color="#fc8961"/><stop offset="1.000" stop-color="#fc8961"/></linearGradient><linearGradient id="g2_44"><stop offset="0.000" stop-color="#de4968"/><stop offset="0.062" stop-color="#ca3e72"/><stop offset="0.125" stop-color="#b73779"/><stop offset="0.137" stop-color="#a1307e"/><stop offset="0.150" stop-color="#8c2981"/><stop offset="0.163" stop-color="#782281"/><stop offset="0.175" stop-color="#641a80"/><stop offset="0.188" stop-color="#51127c"/><stop offset="0.250" stop-color="#51127c"/><stop offset="0.281" stop-color="#641a80"/><stop offset="0.312" stop-color="#782281"/><stop offset="0.343" stop-color="#8c2981"/><stop offset="0.375" stop-color="#a1307e"/><stop offset="0.437" stop-color="#b73779"/><stop offset="0.500" stop-color="#ca3e72"/><stop offset="0.625" stop-color="#ca3e72"/><stop offset="0.666" stop-color="#db476a"/><stop offset="0.708" stop-color="#e95462"/><stop offset="0.750" stop-color="#f2645c"/><stop offset="0.812" stop-color="#f8765c"/><stop offset="0.875" stop-color="#fc8961"/><stop offset="1.000" stop-color="#fc8961"/></linearGradient><linearGradient id="g2_45"><stop offset="0.000" stop-color="#fecf92"/><stop offset="0.125" stop-color="#fecf92"/><stop offset="0.250" stop-color="#fde7a9"/><stop offset="0.375" stop-color="#fde7a9"/><stop offset="0.500" stop-color="#fecf92"/><stop offset="0.625" stop-color="#fecf92"/><stop offset="0.750" stop-color="#fecf92"/><stop offset="0.875" stop-color="#fecf92"/><stop offset="1.000" stop-color="#feb77e"/></linearGradient><linearGradient id="g2_46"><stop offset="0.000" stop-color="#fecf92"/><stop offset="0.125" stop-color="#fecf92"/><stop offset="0.250" stop-color="#fde7a9"/><stop offset="0.375" stop-color="#fde7a9"/><stop offset="0.500" stop-color="#fde7a9"/><stop offset="0.625" stop-color="#fde7a9"/><stop offset="0.750" stop-color="#fdda9c"/><stop offset="0.875" stop-color="#fecf92"/><stop offset="1.000" stop-color="#feb77e"/></linearGradient><linearGradient id="g2_47"><stop offset="0.000" stop-color="#feb77e"/><stop offset="0.125" stop-color="#feb77e"/><stop offset="0.250" stop-color="#feac76"/><stop offset="0.375" stop-color="#fe9f6d"/><stop offset="0.500" stop-color="#fe9f6d"/><stop offset="0.625" stop-color="#fe9f6d"/><stop offset="0.750" stop-color="#fc8961"/><stop offset="0.875" stop-color="#f7705c"/><stop offset="1.000" stop-color="#f7705c"/></linearGradient><linearGradient id="g2_48"><stop offset="0.000" stop-color="#f7705c"/><stop offset="0.125" stop-color="#f7705c"/><stop offset="0.250" stop-color="#f97b5d"/><stop offset="0.312" stop-color="#f56b5c"/><stop offset="0.375" stop-color="#ed5a5f"/><stop offset="0.416" stop-color="#e04c67"/><stop offset="0.458" stop-color="#d2426f"/><stop offset="0.500" stop-color="#c03a76"/><stop offset="0.562" stop-color="#b0357b"/><stop offset="0.625" stop-color="#a1307e"/><stop offset="0.687" stop-color="#b73779"/><stop offset="0.750" stop-color="#ca3e72"/><stop offset="0.875" stop-color="#ca3e72"/><stop offset="0.937" stop-color="#b73779"/><stop offset="1.000" stop-color="#a1307e"/></linearGradient><linearGradient id="g2_49"><stop offset="0.000" stop-color="#ed5a5f"/><stop offset="0.125" stop-color="#f7705c"/><stop offset="0.250" stop-color="#f97b5d"/><stop offset="0.375" stop-color="#fc8961"/><stop offset="0.500" stop-color="#fc8961"/><stop offset="0.625" stop-color="#fc8961"/><stop offset="0.750" stop-color="#fc8961"/><stop offset="0.875" stop-color="#fc8961"/><stop offset="1.000" stop-color="#f7705c"/></linearGradient><linearGradient id="g2_50"><stop offset="0.000" stop-color="#fc8961"/><stop offset="0.125" stop-color="#fc8961"/><stop offset="0.250" stop-color="#fd9467"/><stop offset="0.375" stop-color="#fe9f6d"/><stop offset="0.500" stop-color="#fe9f6d"/><stop offset="0.625" stop-color="#fe9f6d"/><stop offset="0.750" stop-color="#fe9f6d"/><stop offset="0.875" stop-color="#fc8961"/><stop offset="1.000" stop-color="#f7705c"/></linearGradient><linearGradient id="g2_51"><stop offset="0.000" stop-color="#f7705c"/><stop offset="0.125" stop-color="#f7705c"/><stop offset="0.250" stop-color="#f97b5d"/><stop offset="0.375" stop-color="#fc8961"/><stop offset="0.500" stop-color="#fd9467"/><stop offset="0.625" stop-color="#fe9f6d"/><stop offset="0.750" stop-color="#fe9f6d"/><stop offset="0.875" stop-color="#fe9f6d"/><stop offset="1.000" stop-color="#fc8961"/></linearGradient><linearGradient id="g2_52"><stop offset="0.000" stop-color="#fc8961"/><stop offset="0.125" stop-color="#fc8961"/><stop offset="0.250" stop-color="#fd9467"/><stop offset="0.375" stop-color="#fe9f6d"/><stop offset="0.500" stop-color="#fe9f6d"/><stop offset="0.625" stop-color="#fe9f6d"/><stop offset="0.750" stop-color="#fe9f6d"/><stop offset="0.875" stop-color="#fe9f6d"/><stop offset="1.000" stop-color="#fe9f6d"/></linearGradient><linearGradient id="g2_53"><stop offset="0.000" stop-color="#fc8961"/><stop offset="0.125" stop-color="#fc8961"/><stop offset="0.250" stop-color="#fd9467"/><stop offset="0.375" stop-color="#fe9f6d"/><stop offset="0.500" stop-color="#fd9467"/><stop offset="0.625" stop-color="#fc8961"/><stop offset="0.750" stop-color="#fc8961"/><stop offset="0.875" stop-color="#fc8961"/><stop offset="1.000" stop-color="#fc8961"/></linearGradient><linearGradient id="g2_54"><stop offset="0.000" stop-color="#f7705c"/><stop offset="0.125" stop-color="#f7705c"/><stop offset="0.250" stop-color="#f97b5d"/><stop offset="0.375" stop-color="#fc8961"/><stop offset="0.500" stop-color="#f7705c"/><stop offset="0.562" stop-color="#ed5a5f"/><stop offset="0.625" stop-color="#de4968"/><stop offset="0.750" stop-color="#de4968"/><stop offset="0.875" stop-color="#ed5a5f"/><stop offset="1.000" stop-color="#f7705c"/></linearGradient><linearGradient id="g2_55"><stop offset="0.000" stop-color="#a1307e"/><stop offset="0.023" stop-color="#8c2981"/><stop offset="0.045" stop-color="#782281"/><stop offset="0.068" stop-color="#641a80"/><stop offset="0.090" stop-color="#51127c"/><stop offset="0.125" stop-color="#641a80"/><stop offset="0.146" stop-color="#51127c"/><stop offset="0.172" stop-color="#641a80"/><stop offset="0.198" stop-color="#782281"/><stop offset="0.224" stop-color="#8c2981"/><stop offset="0.250" stop-color="#a1307e"/><stop offset="0.312" stop-color="#b73779"/><stop offset="0.375" stop-color="#ca3e72"/><stop offset="0.416" stop-color="#db476a"/><stop offset="0.458" stop-color="#e95462"/><stop offset="0.500" stop-color="#f2645c"/><stop offset="0.625" stop-color="#f7705c"/><stop offset="0.750" stop-color="#f7705c"/><stop offset="0.875" stop-color="#f7705c"/><stop offset="1.000" stop-color="#fc8961"/></linearGradient><linearGradient id="g2_56"><stop offset="0.000" stop-color="#fe9f6d"/><stop offset="0.125" stop-color="#fe9f6d"/><stop offset="0.250" stop-color="#fd9467"/><stop offset="0.375" stop-color="#fc8961"/><stop offset="0.500" stop-color="#f7705c"/><stop offset="0.531" stop-color="#ed5a5f"/><stop offset="0.562" stop-color="#de4968"/><stop offset="0.594" stop-color="#ca3e72"/><stop offset="0.625" stop-color="#b73779"/><stop offset="0.642" stop-color="#a1307e"/><stop offset="0.660" stop-color="#8c2981"/><stop offset="0.678" stop-color="#782281"/><stop offset="0.695" stop-color="#641a80"/><stop offset="0.750" stop-color="#6e1e81"/><stop offset="0.781" stop-color="#842681"/><stop offset="0.812" stop-color="#9c2e7f"/><stop offset="0.844" stop-color="#b3367a"/><stop offset="0.875" stop-color="#ca3e72"/><stop offset="0.937" stop-color="#de4968"/><stop offset="1.000" stop-color="#ed5a5f"/></linearGradient><linearGradient id="g2_57"><stop offset="0.000" stop-color="#feb77e"/><stop offset="0.125" stop-color="#feb77e"/><stop offset="0.250" stop-color="#feac76"/><stop offset="0.375" stop-color="#fe9f6d"/><stop offset="0.500" stop-color="#fe9f6d"/><stop offset="0.625" stop-color="#fe9f6d"/><stop offset="0.750" stop-color="#fd9467"/><stop offset="0.875" stop-color="#fc8961"/><stop offset="1.000" stop-color="#fc8961"/></linearGradient><linearGradient id="g2_58"><stop offset="0.000" stop-color="#fe9f6d"/><stop offset="0.125" stop-color="#fe9f6d"/><stop offset="0.250" stop-color="#fd9467"/><stop offset="0.375" stop-color="#fc8961"/><stop offset="0.500" stop-color="#f7705c"/><stop offset="0.541" stop-color="#ed5a5f"/><stop offset="0.583" stop-color="#de4968"/><stop offset="0.625" stop-color="#ca3e72"/><stop offset="0.687" stop-color="#d9466b"/><stop offset="0.750" stop-color="#e75263"/><stop offset="0.812" stop-color="#f05f5e"/><stop offset="0.875" stop-color="#f7705c"/><stop offset="1.000" stop-color="#f7705c"/></linearGradient><linearGradient id="g2_59"><stop offset="0.000" stop-color="#de4968"/><stop offset="0.125" stop-color="#de4968"/><stop offset="0.187" stop-color="#ea5661"/><stop offset="0.250" stop-color="#f2645c"/><stop offset="0.375" stop-color="#f7705c"/><stop offset="0.500" stop-color="#fc8961"/><stop offset="0.625" stop-color="#fc8961"/><stop offset="0.750" stop-color="#fd9467"/><stop offset="0.875" stop-color="#fe9f6d"/><stop offset="1.000" stop-color="#fe9f6d"/></linearGradient><linearGradient id="g2_60"><stop offset="0.000" stop-color="#de4968"/><stop offset="0.125" stop-color="#de4968"/><stop offset="0.187" stop-color="#ea5661"/><stop offset="0.250" stop-color="#f2645c"/><stop offset="0.375" stop-color="#f7705c"/><stop offset="0.437" stop-color="#fa815f"/><stop offset="0.500" stop-color="#fd9467"/><stop offset="0.625" stop-color="#fe9f6d"/><stop offset="0.750" stop-color="#feac76"/><stop offset="0.875" stop-color="#feb77e"/><stop offset="1.000" stop-color="#fe9f6d"/></linearGradient><linearGradient id="g2_61"><stop offset="0.000" stop-color="#f7705c"/><stop offset="0.125" stop-color="#f7705c"/><stop offset="0.250" stop-color="#f97b5d"/><stop offset="0.375" stop-color="#fc8961"/><stop offset="0.500" stop-color="#f7705c"/><stop offset="0.562" stop-color="#ed5a5f"/><stop offset="0.625" stop-color="#de4968"/><stop offset="0.687" stop-color="#ea5661"/><stop offset="0.750" stop-color="#f2645c"/><stop offset="0.875" stop-color="#f7705c"/><stop offset="1.000" stop-color="#f7705c"/></linearGradient><linearGradient id="g2_63"><stop offset="0.000" stop-color="#ca3e72"/><stop offset="0.125" stop-color="#ca3e72"/><stop offset="0.250" stop-color="#d5446d"/><stop offset="0.375" stop-color="#de4968"/><stop offset="0.437" stop-color="#ed5a5f"/><stop offset="0.500" stop-color="#f7705c"/><stop offset="0.625" stop-color="#fc8961"/><stop offset="0.750" stop-color="#fc8961"/><stop offset="0.875" stop-color="#fc8961"/><stop offset="1.000" stop-color="#fc8961"/></linearGradient><linearGradient id="g2_64"><stop offset="0.000" stop-color="#f7705c"/><stop offset="0.125" stop-color="#f7705c"/><stop offset="0.250" stop-color="#f7705c"/><stop offset="0.375" stop-color="#f7705c"/><stop offset="0.500" stop-color="#f7705c"/><stop offset="0.562" stop-color="#ed5a5f"/><stop offset="0.625" stop-color="#de4968"/><stop offset="0.656" stop-color="#ca3e72"/><stop offset="0.687" stop-color="#b73779"/><stop offset="0.719" stop-color="#a1307e"/><stop offset="0.750" stop-color="#8c2981"/><stop offset="0.768" stop-color="#782281"/><stop offset="0.786" stop-color="#641a80"/><stop offset="0.802" stop-color="#51127c"/><stop offset="0.819" stop-color="#3b0f70"/><stop offset="0.821" stop-color="#251255"/><stop offset="0.823" stop-color="#140e36"/><stop offset="0.826" stop-color="#06051a"/><stop offset="0.828" stop-color="#000004"/><stop offset="0.850" stop-color="#000004"/><stop offset="0.853" stop-color="#06051a"/><stop offset="0.855" stop-color="#140e36"/><stop offset="0.858" stop-color="#251255"/><stop offset="0.860" stop-color="#3b0f70"/><stop offset="0.865" stop-color="#51127c"/><stop offset="0.870" stop-color="#641a80"/><stop offset="0.875" stop-color="#782281"/><stop offset="0.886" stop-color="#641a80"/><stop offset="0.904" stop-color="#782281"/><stop offset="0.922" stop-color="#8c2981"/><stop offset="0.961" stop-color="#a1307e"/><stop offset="1.000" stop-color="#b73779"/></linearGradient><linearGradient id="g2_65"><stop offset="0.000" stop-color="#fe9f6d"/><stop offset="0.125" stop-color="#fe9f6d"/><stop offset="0.250" stop-color="#fd9467"/><stop offset="0.375" stop-color="#fc8961"/><stop offset="0.500" stop-color="#fc8961"/><stop offset="0.625" stop-color="#fc8961"/><stop offset="0.750" stop-color="#fc8961"/><stop offset="0.875" stop-color="#fc8961"/><stop offset="1.000" stop-color="#fc8961"/></linearGradient><linearGradient id="g2_66"><stop offset="0.000" stop-color="#fc8961"/><stop offset="0.125" stop-color="#fc8961"/><stop offset="0.250" stop-color="#f97b5d"/><stop offset="0.375" stop-color="#f7705c"/><stop offset="0.500" stop-color="#f97b5d"/><stop offset="0.625" stop-color="#fc8961"/><stop offset="0.750" stop-color="#fc8961"/><stop offset="0.875" stop-color="#fc8961"/><stop offset="1.000" stop-color="#fc8961"/></linearGradient><linearGradient id="g2_67"><stop offset="0.000" stop-color="#782281"/><stop offset="0.062" stop-color="#8c2981"/><stop offset="0.125" stop-color="#a1307e"/><stop offset="0.250" stop-color="#ab337c"/><stop offset="0.312" stop-color="#9c2e7f"/><stop offset="0.375" stop-color="#8c2981"/><stop offset="0.500" stop-color="#962c80"/><stop offset="0.562" stop-color="#a6317d"/><stop offset="0.625" stop-color="#b73779"/><stop offset="0.666" stop-color="#ca3e72"/><stop offset="0.708" stop-color="#de4968"/><stop offset="0.750" stop-color="#ed5a5f"/><stop offset="0.875" stop-color="#f7705c"/><stop offset="1.000" stop-color="#f7705c"/></linearGradient><linearGradient id="g2_68"><stop offset="0.000" stop-color="#fe9f6d"/><stop offset="0.125" stop-color="#fe9f6d"/><stop offset="0.250" stop-color="#fd9467"/><stop offset="0.375" stop-color="#fc8961"/><stop offset="0.500" stop-color="#fc8961"/><stop offset="0.625" stop-color="#fc8961"/><stop offset="0.750" stop-color="#fc8961"/><stop offset="0.875" stop-color="#fc8961"/><stop offset="1.000" stop-color="#fc8961"/></linearGradient><linearGradient id="g2_69"><stop offset="0.000" stop-color="#fed395"/><stop offset="0.125" stop-color="#fed395"/><stop offset="0.250" stop-color="#fed395"/><stop offset="0.375" stop-color="#fed395"/><stop offset="0.500" stop-color="#fecf92"/><stop offset="0.625" stop-color="#feb77e"/><stop offset="0.750" stop-color="#feac76"/><stop offset="0.812" stop-color="#fd9a6a"/><stop offset="0.875" stop-color="#fc8961"/><stop offset="0.917" stop-color="#f7705c"/><stop offset="0.958" stop-color="#ed5a5f"/><stop offset="1.000" stop-color="#de4968"/></linearGradient><linearGradient id="g2_70"><stop offset="0.000" stop-color="#fed395"/><stop offset="0.125" stop-color="#fed395"/><stop offset="0.250" stop-color="#fed395"/><stop offset="0.375" stop-color="#fed395"/><stop offset="0.500" stop-color="#fdda9c"/><stop offset="0.625" stop-color="#fecf92"/><stop offset="0.750" stop-color="#fec488"/><stop offset="0.875" stop-color="#feb77e"/><stop offset="1.000" stop-color="#fe9f6d"/></linearGradient><linearGradient id="g2_71"><stop offset="0.000" stop-color="#fed395"/><stop offset="0.125" stop-color="#fed395"/><stop offset="0.250" stop-color="#fec88c"/><stop offset="0.312" stop-color="#feb47b"/><stop offset="0.375" stop-color="#fe9f6d"/><stop offset="0.387" stop-color="#fb8560"/><stop offset="0.399" stop-color="#f4695c"/><stop offset="0.411" stop-color="#e75263"/><stop offset="0.423" stop-color="#d3436e"/><stop offset="0.436" stop-color="#bc3978"/><stop offset="0.448" stop-color="#a5317e"/><stop offset="0.460" stop-color="#8c2981"/><stop offset="0.500" stop-color="#962c80"/><stop offset="0.507" stop-color="#7e2482"/><stop offset="0.514" stop-color="#671b80"/><stop offset="0.521" stop-color="#51127c"/><stop offset="0.554" stop-color="#51127c"/><stop offset="0.561" stop-color="#681c81"/><stop offset="0.567" stop-color="#802582"/><stop offset="0.574" stop-color="#992d80"/><stop offset="0.580" stop-color="#b2357b"/><stop offset="0.587" stop-color="#ca3e72"/><stop offset="0.625" stop-color="#de4968"/><stop offset="0.666" stop-color="#eb5760"/><stop offset="0.708" stop-color="#f4675c"/><stop offset="0.750" stop-color="#f97b5d"/><stop offset="0.812" stop-color="#fc8e64"/><stop offset="0.875" stop-color="#fe9f6d"/><stop offset="1.000" stop-color="#fe9f6d"/></linearGradient><linearGradient id="g2_72"><stop offset="0.000" stop-color="#fed395"/><stop offset="0.125" stop-color="#fed395"/><stop offset="0.250" stop-color="#fed395"/><stop offset="0.375" stop-color="#fed395"/><stop offset="0.500" stop-color="#fde7a9"/><stop offset="0.625" stop-color="#fde7a9"/><stop offset="0.750" stop-color="#fde7a9"/><stop offset="0.875" stop-color="#fde7a9"/><stop offset="1.000" stop-color="#fecf92"/></linearGradient><linearGradient id="g2_73"><stop offset="0.000" stop-color="#fecf92"/><stop offset="0.125" stop-color="#fecf92"/><stop offset="0.250" stop-color="#fdda9c"/><stop offset="0.375" stop-color="#fde7a9"/><stop offset="0.500" stop-color="#fde7a9"/><stop offset="0.625" stop-color="#fde7a9"/><stop offset="0.750" stop-color="#fde7a9"/><stop offset="0.875" stop-color="#fde7a9"/><stop offset="1.000" stop-color="#fecf92"/></linearGradient><linearGradient id="g2_74"><stop offset="0.000" stop-color="#fc8961"/><stop offset="0.125" stop-color="#fc8961"/><stop offset="0.250" stop-color="#fc8961"/><stop offset="0.375" stop-color="#fc8961"/><stop offset="0.500" stop-color="#fd9467"/><stop offset="0.625" stop-color="#fe9f6d"/><stop offset="0.750" stop-color="#fe9f6d"/><stop offset="0.875" stop-color="#fe9f6d"/><stop offset="1.000" stop-color="#fe9f6d"/></linearGradient><linearGradient id="g2_75"><stop offset="0.000" stop-color="#782281"/><stop offset="0.125" stop-color="#8c2981"/><stop offset="0.187" stop-color="#9c2e7f"/><stop offset="0.250" stop-color="#ab337c"/><stop offset="0.375" stop-color="#b73779"/><stop offset="0.500" stop-color="#ca3e72"/><stop offset="0.562" stop-color="#de4968"/><stop offset="0.625" stop-color="#ed5a5f"/><stop offset="0.750" stop-color="#f2645c"/><stop offset="0.875" stop-color="#f7705c"/><stop offset="1.000" stop-color="#f7705c"/></linearGradient><linearGradient id="g2_76"><stop offset="0.000" stop-color="#ed5a5f"/><stop offset="0.125" stop-color="#ed5a5f"/><stop offset="0.250" stop-color="#ed5a5f"/><stop offset="0.375" stop-color="#ed5a5f"/><stop offset="0.500" stop-color="#f2645c"/><stop offset="0.562" stop-color="#f8765c"/><stop offset="0.625" stop-color="#fc8961"/><stop offset="0.750" stop-color="#fc8961"/><stop offset="0.875" stop-color="#fc8961"/><stop offset="1.000" stop-color="#fc8961"/></linearGradient><linearGradient id="g2_77"><stop offset="0.000" stop-color="#ed5a5f"/><stop offset="0.125" stop-color="#ed5a5f"/><stop offset="0.250" stop-color="#f2645c"/><stop offset="0.375" stop-color="#f7705c"/><stop offset="0.500" stop-color="#f2645c"/><stop offset="0.625" stop-color="#f7705c"/><stop offset="0.750" stop-color="#f97b5d"/><stop offset="0.875" stop-color="#fc8961"/><stop offset="1.000" stop-color="#fc8961"/></linearGradient><linearGradient id="g2_78"><stop offset="0.000" stop-color="#ed5a5f"/><stop offset="0.125" stop-color="#ed5a5f"/><stop offset="0.250" stop-color="#e75263"/><stop offset="0.375" stop-color="#de4968"/><stop offset="0.500" stop-color="#de4968"/><stop offset="0.625" stop-color="#ed5a5f"/><stop offset="0.750" stop-color="#f7705c"/><stop offset="0.875" stop-color="#f7705c"/><stop offset="1.000" stop-color="#f7705c"/></linearGradient><linearGradient id="g2_79"><stop offset="0.000" stop-color="#ed5a5f"/><stop offset="0.125" stop-color="#ed5a5f"/><stop offset="0.250" stop-color="#de4968"/><stop offset="0.291" stop-color="#ca3e72"/><stop offset="0.333" stop-color="#b73779"/><stop offset="0.375" stop-color="#a1307e"/><stop offset="0.379" stop-color="#8c2981"/><stop offset="0.383" stop-color="#782281"/><stop offset="0.387" stop-color="#641a80"/><stop offset="0.454" stop-color="#641a80"/><stop offset="0.470" stop-color="#782281"/><stop offset="0.485" stop-color="#8c2981"/><stop offset="0.500" stop-color="#a1307e"/><stop offset="0.562" stop-color="#b73779"/><stop offset="0.625" stop-color="#ca3e72"/><stop offset="0.666" stop-color="#db476a"/><stop offset="0.708" stop-color="#e95462"/><stop offset="0.750" stop-color="#f2645c"/><stop offset="0.875" stop-color="#f7705c"/><stop offset="1.000" stop-color="#f7705c"/></linearGradient><linearGradient id="g2_80"><stop offset="0.000" stop-color="#fc8961"/><stop offset="0.125" stop-color="#fc8961"/><stop offset="0.250" stop-color="#f97b5d"/><stop offset="0.375" stop-color="#f7705c"/><stop offset="0.500" stop-color="#f7705c"/><stop offset="0.625" stop-color="#f7705c"/><stop offset="0.750" stop-color="#f97b5d"/><stop offset="0.875" stop-color="#fc8961"/><stop offset="1.000" stop-color="#fc8961"/></linearGradient><linearGradient id="g2_82"><stop offset="0.000" stop-color="#feb77e"/><stop offset="0.125" stop-color="#feb77e"/><stop offset="0.250" stop-color="#feb77e"/><stop offset="0.375" stop-color="#feb77e"/><stop offset="0.500" stop-color="#feb77e"/><stop offset="0.625" stop-color="#feb77e"/><stop offset="0.750" stop-color="#feac76"/><stop offset="0.875" stop-color="#fe9f6d"/><stop offset="1.000" stop-color="#fe9f6d"/></linearGradient><linearGradient id="g2_83"><stop offset="0.000" stop-color="#fecf92"/><stop offset="0.125" stop-color="#fecf92"/><stop offset="0.250" stop-color="#fec488"/><stop offset="0.375" stop-color="#feb77e"/><stop offset="0.500" stop-color="#feac76"/><stop offset="0.562" stop-color="#fd9a6a"/><stop offset="0.625" stop-color="#fc8961"/><stop offset="0.750" stop-color="#f97b5d"/><stop offset="0.875" stop-color="#f7705c"/><stop offset="1.000" stop-color="#fc8961"/></linearGradient><clipPath id="cp2"><rect x="36.30" y="595.60" width="551.70" height="188.00"/></clipPath></defs>
<g clip-path="url(#cp0)"><g filter="url(#vb)"><rect x="33.30" y="10.30" width="557.70" height="7.48" fill="url(#g0_0)"/><rect x="33.30" y="15.54" width="557.70" height="4.48" fill="url(#g0_1)"/><rect x="33.30" y="17.78" width="557.70" height="4.48" fill="url(#g0_2)"/><rect x="33.30" y="20.01" width="557.70" height="4.48" fill="url(#g0_3)"/><rect x="33.30" y="22.25" width="557.70" height="4.48" fill="url(#g0_4)"/><rect x="33.30" y="24.49" width="557.70" height="4.48" fill="url(#g0_5)"/><rect x="33.30" y="26.73" width="557.70" height="4.48" fill="url(#g0_6)"/><rect x="33.30" y="28.97" width="557.70" height="4.48" fill="url(#g0_7)"/><rect x="33.30" y="31.20" width="557.70" height="4.48" fill="url(#g0_8)"/><rect x="33.30" y="33.44" width="557.70" height="4.48" fill="url(#g0_9)"/><rect x="33.30" y="35.68" width="557.70" height="4.48" fill="url(#g0_10)"/><rect x="33.30" y="37.92" width="557.70" height="4.48" fill="url(#g0_11)"/><rect x="33.30" y="40.16" width="557.70" height="4.48" fill="url(#g0_12)"/><rect x="33.30" y="42.40" width="557.70" height="4.48" fill="url(#g0_13)"/><rect x="33.30" y="44.63" width="557.70" height="4.48" fill="url(#g0_14)"/><rect x="33.30" y="46.87" width="557.70" height="4.48" fill="url(#g0_15)"/><rect x="33.30" y="49.11" width="557.70" height="4.48" fill="url(#g0_16)"/><rect x="33.30" y="51.35" width="557.70" height="4.48" fill="url(#g0_17)"/><rect x="33.30" y="53.59" width="557.70" height="4.48" fill="url(#g0_18)"/><rect x="33.30" y="55.82" width="557.70" height="4.48" fill="url(#g0_19)"/><rect x="33.30" y="58.06" width="557.70" height="4.48" fill="url(#g0_20)"/><rect x="33.30" y="60.30" width="557.70" height="4.48" fill="url(#g0_21)"/><rect x="33.30" y="62.54" width="557.70" height="4.48" fill="url(#g0_22)"/><rect x="33.30" y="64.78" width="557.70" height="4.48" fill="url(#g0_23)"/><rect x="33.30" y="67.01" width="557.70" height="4.48" fill="url(#g0_24)"/><rect x="33.30" y="69.25" width="557.70" height="4.48" fill="url(#g0_25)"/><rect x="33.30" y="71.49" width="557.70" height="4.48" fill="url(#g0_26)"/><rect x="33.30" y="73.73" width="557.70" height="4.48" fill="url(#g0_27)"/><rect x="33.30" y="75.97" width="557.70" height="4.48" fill="url(#g0_28)"/><rect x="33.30" y="78.20" width="557.70" height="4.48" fill="url(#g0_29)"/><rect x="33.30" y="80.44" width="557.70" height="4.48" fill="url(#g0_30)"/><rect x="33.30" y="82.68" width="557.70" height="4.48" fill="url(#g0_31)"/><rect x="33.30" y="84.92" width="557.70" height="4.48" fill="url(#g0_32)"/><rect x="33.30" y="87.16" width="557.70" height="4.48" fill="url(#g0_33)"/><rect x="33.30" y="89.40" width="557.70" height="4.48" fill="url(#g0_34)"/><rect x="33.30" y="91.63" width="557.70" height="4.48" fill="url(#g0_35)"/><rect x="33.30" y="93.87" width="557.70" height="4.48" fill="url(#g0_36)"/><rect x="33.30" y="96.11" width="557.70" height="4.48" fill="url(#g0_37)"/><rect x="33.30" y="98.35" width="557.70" height="4.48" fill="url(#g0_38)"/><rect x="33.30" y="100.59" width="557.70" height="4.48" fill="url(#g0_39)"/><rect x="33.30" y="102.82" width="557.70" height="4.48" fill="url(#g0_40)"/><rect x="33.30" y="105.06" width="557.70" height="4.48" fill="#fe9f6d"/><rect x="33.30" y="107.30" width="557.70" height="4.48" fill="url(#g0_42)"/><rect x="33.30" y="109.54" width="557.70" height="4.48" fill="url(#g0_43)"/><rect x="33.30" y="111.78" width="557.70" height="4.48" fill="url(#g0_44)"/><rect x="33.30" y="114.01" width="557.70" height="4.48" fill="url(#g0_45)"/><rect x="33.30" y="116.25" width="557.70" height="4.48" fill="url(#g0_46)"/><rect x="33.30" y="118.49" width="557.70" height="4.48" fill="url(#g0_47)"/><rect x="33.30" y="120.73" width="557.70" height="4.48" fill="url(#g0_48)"/><rect x="33.30" y="122.97" width="557.70" height="4.48" fill="url(#g0_49)"/><rect x="33.30" y="125.20" width="557.70" height="4.48" fill="url(#g0_50)"/><rect x="33.30" y="127.44" width="557.70" height="4.48" fill="url(#g0_51)"/><rect x="33.30" y="129.68" width="557.70" height="4.48" fill="url(#g0_52)"/><rect x="33.30" y="131.92" width="557.70" height="4.48" fill="url(#g0_53)"/><rect x="33.30" y="134.16" width="557.70" height="4.48" fill="url(#g0_54)"/><rect x="33.30" y="136.40" width="557.70" height="4.48" fill="url(#g0_55)"/><rect x="33.30" y="138.63" width="557.70" height="4.48" fill="url(#g0_56)"/><rect x="33.30" y="140.87" width="557.70" height="4.48" fill="url(#g0_57)"/><rect x="33.30" y="143.11" width="557.70" height="4.48" fill="url(#g0_58)"/><rect x="33.30" y="145.35" width="557.70" height="4.48" fill="url(#g0_59)"/><rect x="33.30" y="147.59" width="557.70" height="4.48" fill="url(#g0_60)"/><rect x="33.30" y="149.82" width="557.70" height="4.48" fill="url(#g0_61)"/><rect x="33.30" y="152.06" width="557.70" height="4.48" fill="url(#g0_62)"/><rect x="33.30" y="154.30" width="557.70" height="4.48" fill="url(#g0_63)"/><rect x="33.30" y="156.54" width="557.70" height="4.48" fill="url(#g0_64)"/><rect x="33.30" y="158.78" width="557.70" height="4.48" fill="url(#g0_65)"/><rect x="33.30" y="161.01" width="557.70" height="4.48" fill="url(#g0_66)"/><rect x="33.30" y="163.25" width="557.70" height="4.48" fill="url(#g0_67)"/><rect x="33.30" y="165.49" width="557.70" height="4.48" fill="url(#g0_68)"/><rect x="33.30" y="167.73" width="557.70" height="4.48" fill="url(#g0_69)"/><rect x="33.30" y="169.97" width="557.70" height="4.48" fill="url(#g0_70)"/><rect x="33.30" y="172.20" width="557.70" height="4.48" fill="url(#g0_71)"/><rect x="33.30" y="174.44" width="557.70" height="4.48" fill="url(#g0_72)"/><rect x="33.30" y="176.68" width="557.70" height="4.48" fill="url(#g0_73)"/><rect x="33.30" y="178.92" width="557.70" height="4.48" fill="url(#g0_74)"/><rect x="33.30" y="181.16" width="557.70" height="4.48" fill="url(#g0_75)"/><rect x="33.30" y="183.40" width="557.70" height="4.48" fill="url(#g0_76)"/><rect x="33.30" y="185.63" width="557.70" height="4.48" fill="url(#g0_77)"/><rect x="33.30" y="187.87" width="557.70" height="4.48" fill="url(#g0_78)"/><rect x="33.30" y="190.11" width="557.70" height="4.48" fill="url(#g0_79)"/><rect x="33.30" y="192.35" width="557.70" height="4.48" fill="url(#g0_80)"/><rect x="33.30" y="194.59" width="557.70" height="4.48" fill="url(#g0_81)"/><rect x="33.30" y="196.82" width="557.70" height="4.48" fill="#fc8961"/><rect x="33.30" y="199.06" width="557.70" height="5.24" fill="#fc8961"/></g></g>
<rect x="36.30" y="13.30" width="551.70" height="188.00" fill="none" stroke="#000" stroke-width="0.7"/>
<text class="h" x="312.15" y="8.60" text-anchor="middle">Q-Transformed Spectrum: Wheel Burn</text>
<path d="M36.30 200.18h-3.5M36.30 197.94h-2M36.30 195.70h-2M36.30 193.47h-2M36.30 191.23h-2M36.30 188.99h-2M36.30 186.75h-2M36.30 184.51h-2M36.30 182.28h-2M36.30 180.04h-2M36.30 177.80h-2M36.30 175.56h-2M36.30 173.32h-3.5M36.30 171.09h-2M36.30 168.85h-2M36.30 166.61h-2M36.30 164.37h-2M36.30 162.13h-2M36.30 159.90h-2M36.30 157.66h-2M36.30 155.42h-2M36.30 153.18h-2M36.30 150.94h-2M36.30 148.70h-2M36.30 146.47h-3.5M36.30 144.23h-2M36.30 141.99h-2M36.30 139.75h-2M36.30 137.51h-2M36.30 135.28h-2M36.30 133.04h-2M36.30 130.80h-2M36.30 128.56h-2M36.30 126.32h-2M36.30 124.09h-2M36.30 121.85h-2M36.30 119.61h-3.5M36.30 117.37h-2M36.30 115.13h-2M36.30 112.90h-2M36.30 110.66h-2M36.30 108.42h-2M36.30 106.18h-2M36.30 103.94h-2M36.30 101.70h-2M36.30 99.47h-2M36.30 97.23h-2M36.30 94.99h-2M36.30 92.75h-3.5M36.30 90.51h-2M36.30 88.28h-2M36.30 86.04h-2M36.30 83.80h-2M36.30 81.56h-2M36.30 79.32h-2M36.30 77.09h-2M36.30 74.85h-2M36.30 72.61h-2M36.30 70.37h-2M36.30 68.13h-2M36.30 65.90h-3.5M36.30 63.66h-2M36.30 61.42h-2M36.30 59.18h-2M36.30 56.94h-2M36.30 54.70h-2M36.30 52.47h-2M36.30 50.23h-2M36.30 47.99h-2M36.30 45.75h-2M36.30 43.51h-2M36.30 41.28h-2M36.30 39.04h-3.5M36.30 36.80h-2M36.30 34.56h-2M36.30 32.32h-2M36.30 30.09h-2M36.30 27.85h-2M36.30 25.61h-2M36.30 23.37h-2M36.30 21.13h-2M36.30 18.90h-2M36.30 16.66h-2M36.30 14.42h-2" stroke="#000" stroke-width="0.8" fill="none"/>
<text class="t" x="30.50" y="203.78" text-anchor="end">C1</text>
<text class="t" x="30.50" y="176.92" text-anchor="end">C2</text>
<text class="t" x="30.50" y="150.07" text-anchor="end">C3</text>
<text class="t" x="30.50" y="123.21" text-anchor="end">C4</text>
<text class="t" x="30.50" y="96.35" text-anchor="end">C5</text>
<text class="t" x="30.50" y="69.50" text-anchor="end">C6</text>
<text class="t" x="30.50" y="42.64" text-anchor="end">C7</text>
<text class="t" x="40.50" y="214.50" text-anchor="middle">0</text>
<text class="t" x="223.45" y="214.50" text-anchor="middle">0.5</text>
<text class="t" x="406.40" y="214.50" text-anchor="middle">1</text>
<path d="M40.50 201.30v3M223.45 201.30v3M406.40 201.30v3" stroke="#000" stroke-width="0.7" fill="none"/>
<text class="l" x="312.15" y="230.90" text-anchor="middle">Time (seconds)</text>
<text class="l" transform="translate(12.60 107.30) rotate(-90)" text-anchor="middle">Frequency (log scale)</text>
<rect x="622.20" y="13.30" width="10.00" height="188.00" fill="url(#cb0)" stroke="#000" stroke-width="0.7"/>
<text class="t" x="638.20" y="16.90">+0 dB</text>
<text class="t" x="638.20" y="40.40">-5 dB</text>
<text class="t" x="638.20" y="63.90">-10 dB</text>
<text class="t" x="638.20" y="87.40">-15 dB</text>
<text class="t" x="638.20" y="110.90">-20 dB</text>
<text class="t" x="638.20" y="134.40">-25 dB</text>
<text class="t" x="638.20" y="157.90">-30 dB</text>
<text class="t" x="638.20" y="181.40">-35 dB</text>
<text class="t" x="638.20" y="204.90">-40 dB</text>
<path d="M632.20 13.30h3M632.20 36.80h3M632.20 60.30h3M632.20 83.80h3M632.20 107.30h3M632.20 130.80h3M632.20 154.30h3M632.20 177.80h3M632.20 201.30h3" stroke="#000" stroke-width="0.7" fill="none"/>
<text class="l" transform="translate(682.00 107.30) rotate(-90)" text-anchor="middle">Intensity (dB)</text>
<text class="c" x="340.00" y="265.10" text-anchor="middle">(a)</text>
<g clip-path="url(#cp1)"><g filter="url(#vb)"><rect x="33.30" y="301.40" width="557.70" height="7.48" fill="url(#g1_0)"/><rect x="33.30" y="306.64" width="557.70" height="4.48" fill="url(#g1_1)"/><rect x="33.30" y="308.88" width="557.70" height="4.48" fill="url(#g1_2)"/><rect x="33.30" y="311.11" width="557.70" height="4.48" fill="url(#g1_3)"/><rect x="33.30" y="313.35" width="557.70" height="4.48" fill="url(#g1_4)"/><rect x="33.30" y="315.59" width="557.70" height="4.48" fill="url(#g1_5)"/><rect x="33.30" y="317.83" width="557.70" height="4.48" fill="url(#g1_6)"/><rect x="33.30" y="320.07" width="557.70" height="4.48" fill="url(#g1_7)"/><rect x="33.30" y="322.30" width="557.70" height="4.48" fill="url(#g1_8)"/><rect x="33.30" y="324.54" width="557.70" height="4.48" fill="url(#g1_9)"/><rect x="33.30" y="326.78" width="557.70" height="4.48" fill="url(#g1_10)"/><rect x="33.30" y="329.02" width="557.70" height="4.48" fill="url(#g1_11)"/><rect x="33.30" y="331.26" width="557.70" height="4.48" fill="url(#g1_12)"/><rect x="33.30" y="333.50" width="557.70" height="4.48" fill="url(#g1_13)"/><rect x="33.30" y="335.73" width="557.70" height="4.48" fill="url(#g1_14)"/><rect x="33.30" y="337.97" width="557.70" height="4.48" fill="url(#g1_15)"/><rect x="33.30" y="340.21" width="557.70" height="4.48" fill="url(#g1_16)"/><rect x="33.30" y="342.45" width="557.70" height="4.48" fill="url(#g1_17)"/><rect x="33.30" y="344.69" width="557.70" height="4.48" fill="url(#g1_18)"/><rect x="33.30" y="346.92" width="557.70" height="4.48" fill="url(#g1_19)"/><rect x="33.30" y="349.16" width="557.70" height="4.48" fill="url(#g1_20)"/><rect x="33.30" y="351.40" width="557.70" height="4.48" fill="url(#g1_21)"/><rect x="33.30" y="353.64" width="557.70" height="4.48" fill="url(#g1_22)"/><rect x="33.30" y="355.88" width="557.70" height="4.48" fill="url(#g1_23)"/><rect x="33.30" y="358.11" width="557.70" height="4.48" fill="url(#g1_24)"/><rect x="33.30" y="360.35" width="557.70" height="4.48" fill="url(#g1_25)"/><rect x="33.30" y="362.59" width="557.70" height="4.48" fill="url(#g1_26)"/><rect x="33.30" y="364.83" width="557.70" height="4.48" fill="url(#g1_27)"/><rect x="33.30" y="367.07" width="557.70" height="4.48" fill="url(#g1_28)"/><rect x="33.30" y="369.30" width="557.70" height="4.48" fill="url(#g1_29)"/><rect x="33.30" y="371.54" width="557.70" height="4.48" fill="url(#g1_30)"/><rect x="33.30" y="373.78" width="557.70" height="4.48" fill="url(#g1_31)"/><rect x="33.30" y="376.02" width="557.70" height="4.48" fill="url(#g1_32)"/><rect x="33.30" y="378.26" width="557.70" height="4.48" fill="url(#g1_33)"/><rect x="33.30" y="380.50" width="557.70" height="4.48" fill="url(#g1_34)"/><rect x="33.30" y="382.73" width="557.70" height="4.48" fill="url(#g1_35)"/><rect x="33.30" y="384.97" width="557.70" height="4.48" fill="url(#g1_36)"/><rect x="33.30" y="387.21" width="557.70" height="4.48" fill="url(#g1_37)"/><rect x="33.30" y="389.45" width="557.70" height="4.48" fill="url(#g1_38)"/><rect x="33.30" y="391.69" width="557.70" height="4.48" fill="url(#g1_39)"/><rect x="33.30" y="393.92" width="557.70" height="4.48" fill="url(#g1_40)"/><rect x="33.30" y="396.16" width="557.70" height="4.48" fill="url(#g1_41)"/><rect x="33.30" y="398.40" width="557.70" height="4.48" fill="url(#g1_42)"/><rect x="33.30" y="400.64" width="557.70" height="4.48" fill="url(#g1_43)"/><rect x="33.30" y="402.88" width="557.70" height="4.48" fill="url(#g1_44)"/><rect x="33.30" y="405.11" width="557.70" height="4.48" fill="url(#g1_45)"/><rect x="33.30" y="407.35" width="557.70" height="4.48" fill="url(#g1_46)"/><rect x="33.30" y="409.59" width="557.70" height="4.48" fill="url(#g1_47)"/><rect x="33.30" y="411.83" width="557.70" height="4.48" fill="url(#g1_48)"/><rect x="33.30" y="414.07" width="557.70" height="4.48" fill="url(#g1_49)"/><rect x="33.30" y="416.30" width="557.70" height="4.48" fill="url(#g1_50)"/><rect x="33.30" y="418.54" width="557.70" height="4.48" fill="url(#g1_51)"/><rect x="33.30" y="420.78" width="557.70" height="4.48" fill="url(#g1_52)"/><rect x="33.30" y="423.02" width="557.70" height="4.48" fill="url(#g1_53)"/><rect x="33.30" y="425.26" width="557.70" height="4.48" fill="url(#g1_54)"/><rect x="33.30" y="427.50" width="557.70" height="4.48" fill="url(#g1_55)"/><rect x="33.30" y="429.73" width="557.70" height="4.48" fill="url(#g1_56)"/><rect x="33.30" y="431.97" width="557.70" height="4.48" fill="url(#g1_57)"/><rect x="33.30" y="434.21" width="557.70" height="4.48" fill="url(#g1_58)"/><rect x="33.30" y="436.45" width="557.70" height="4.48" fill="url(#g1_59)"/><rect x="33.30" y="438.69" width="557.70" height="4.48" fill="url(#g1_60)"/><rect x="33.30" y="440.92" width="557.70" height="4.48" fill="url(#g1_61)"/><rect x="33.30" y="443.16" width="557.70" height="4.48" fill="url(#g1_62)"/><rect x="33.30" y="445.40" width="557.70" height="4.48" fill="url(#g1_63)"/><rect x="33.30" y="447.64" width="557.70" height="4.48" fill="url(#g1_64)"/><rect x="33.30" y="449.88" width="557.70" height="4.48" fill="url(#g1_65)"/><rect x="33.30" y="452.11" width="557.70" height="4.48" fill="url(#g1_66)"/><rect x="33.30" y="454.35" width="557.70" height="4.48" fill="url(#g1_67)"/><rect x="33.30" y="456.59" width="557.70" height="4.48" fill="url(#g1_68)"/><rect x="33.30" y="458.83" width="557.70" height="4.48" fill="url(#g1_69)"/><rect x="33.30" y="461.07" width="557.70" height="4.48" fill="url(#g1_70)"/><rect x="33.30" y="463.30" width="557.70" height="4.48" fill="url(#g1_71)"/><rect x="33.30" y="465.54" width="557.70" height="4.48" fill="url(#g1_72)"/><rect x="33.30" y="467.78" width="557.70" height="4.48" fill="url(#g1_73)"/><rect x="33.30" y="470.02" width="557.70" height="4.48" fill="url(#g1_74)"/><rect x="33.30" y="472.26" width="557.70" height="4.48" fill="url(#g1_75)"/><rect x="33.30" y="474.50" width="557.70" height="4.48" fill="url(#g1_76)"/><rect x="33.30" y="476.73" width="557.70" height="4.48" fill="url(#g1_77)"/><rect x="33.30" y="478.97" width="557.70" height="4.48" fill="url(#g1_78)"/><rect x="33.30" y="481.21" width="557.70" height="4.48" fill="url(#g1_79)"/><rect x="33.30" y="483.45" width="557.70" height="4.48" fill="url(#g1_80)"/><rect x="33.30" y="485.69" width="557.70" height="4.48" fill="url(#g1_81)"/><rect x="33.30" y="487.92" width="557.70" height="4.48" fill="url(#g1_82)"/><rect x="33.30" y="490.16" width="557.70" height="5.24" fill="url(#g1_83)"/></g></g>
<rect x="36.30" y="304.40" width="551.70" height="188.00" fill="none" stroke="#000" stroke-width="0.7"/>
<text class="h" x="312.15" y="298.70" text-anchor="middle">Q-Transformed Spectrum: Superelevation</text>
<path d="M36.30 491.28h-3.5M36.30 489.04h-2M36.30 486.80h-2M36.30 484.57h-2M36.30 482.33h-2M36.30 480.09h-2M36.30 477.85h-2M36.30 475.61h-2M36.30 473.38h-2M36.30 471.14h-2M36.30 468.90h-2M36.30 466.66h-2M36.30 464.42h-3.5M36.30 462.19h-2M36.30 459.95h-2M36.30 457.71h-2M36.30 455.47h-2M36.30 453.23h-2M36.30 451.00h-2M36.30 448.76h-2M36.30 446.52h-2M36.30 444.28h-2M36.30 442.04h-2M36.30 439.80h-2M36.30 437.57h-3.5M36.30 435.33h-2M36.30 433.09h-2M36.30 430.85h-2M36.30 428.61h-2M36.30 426.38h-2M36.30 424.14h-2M36.30 421.90h-2M36.30 419.66h-2M36.30 417.42h-2M36.30 415.19h-2M36.30 412.95h-2M36.30 410.71h-3.5M36.30 408.47h-2M36.30 406.23h-2M36.30 404.00h-2M36.30 401.76h-2M36.30 399.52h-2M36.30 397.28h-2M36.30 395.04h-2M36.30 392.80h-2M36.30 390.57h-2M36.30 388.33h-2M36.30 386.09h-2M36.30 383.85h-3.5M36.30 381.61h-2M36.30 379.38h-2M36.30 377.14h-2M36.30 374.90h-2M36.30 372.66h-2M36.30 370.42h-2M36.30 368.19h-2M36.30 365.95h-2M36.30 363.71h-2M36.30 361.47h-2M36.30 359.23h-2M36.30 357.00h-3.5M36.30 354.76h-2M36.30 352.52h-2M36.30 350.28h-2M36.30 348.04h-2M36.30 345.80h-2M36.30 343.57h-2M36.30 341.33h-2M36.30 339.09h-2M36.30 336.85h-2M36.30 334.61h-2M36.30 332.38h-2M36.30 330.14h-3.5M36.30 327.90h-2M36.30 325.66h-2M36.30 323.42h-2M36.30 321.19h-2M36.30 318.95h-2M36.30 316.71h-2M36.30 314.47h-2M36.30 312.23h-2M36.30 310.00h-2M36.30 307.76h-2M36.30 305.52h-2" stroke="#000" stroke-width="0.8" fill="none"/>
<text class="t" x="30.50" y="494.88" text-anchor="end">C1</text>
<text class="t" x="30.50" y="468.02" text-anchor="end">C2</text>
<text class="t" x="30.50" y="441.17" text-anchor="end">C3</text>
<text class="t" x="30.50" y="414.31" text-anchor="end">C4</text>
<text class="t" x="30.50" y="387.45" text-anchor="end">C5</text>
<text class="t" x="30.50" y="360.60" text-anchor="end">C6</text>
<text class="t" x="30.50" y="333.74" text-anchor="end">C7</text>
<text class="t" x="39.50" y="505.60" text-anchor="middle">0</text>
<text class="t" x="169.93" y="505.60" text-anchor="middle">0.5</text>
<text class="t" x="300.35" y="505.60" text-anchor="middle">1</text>
<text class="t" x="430.78" y="505.60" text-anchor="middle">1.5</text>
<text class="t" x="561.20" y="505.60" text-anchor="middle">2</text>
<path d="M39.50 492.40v3M169.93 492.40v3M300.35 492.40v3M430.78 492.40v3M561.20 492.40v3" stroke="#000" stroke-width="0.7" fill="none"/>
<text class="l" x="312.15" y="522.70" text-anchor="middle">Time (seconds)</text>
<text class="l" transform="translate(12.60 398.40) rotate(-90)" text-anchor="middle">Frequency (log scale)</text>
<rect x="622.20" y="304.40" width="10.00" height="188.00" fill="url(#cb1)" stroke="#000" stroke-width="0.7"/>
<text class="t" x="638.20" y="308.00">+0 dB</text>
<text class="t" x="638.20" y="342.18">-10 dB</text>
<text class="t" x="638.20" y="376.36">-20 dB</text>
<text class="t" x="638.20" y="410.55">-30 dB</text>
<text class="t" x="638.20" y="444.73">-40 dB</text>
<text class="t" x="638.20" y="478.91">-50 dB</text>
<path d="M632.20 304.40h3M632.20 338.58h3M632.20 372.76h3M632.20 406.95h3M632.20 441.13h3M632.20 475.31h3" stroke="#000" stroke-width="0.7" fill="none"/>
<text class="l" transform="translate(682.00 398.40) rotate(-90)" text-anchor="middle">Intensity (dB)</text>
<text class="c" x="340.00" y="559.20" text-anchor="middle">(b)</text>
<g clip-path="url(#cp2)"><g filter="url(#vb)"><rect x="33.30" y="592.60" width="557.70" height="7.48" fill="url(#g2_0)"/><rect x="33.30" y="597.84" width="557.70" height="4.48" fill="url(#g2_1)"/><rect x="33.30" y="600.08" width="557.70" height="4.48" fill="url(#g2_2)"/><rect x="33.30" y="602.31" width="557.70" height="4.48" fill="url(#g2_3)"/><rect x="33.30" y="604.55" width="557.70" height="4.48" fill="url(#g2_4)"/><rect x="33.30" y="606.79" width="557.70" height="4.48" fill="url(#g2_5)"/><rect x="33.30" y="609.03" width="557.70" height="4.48" fill="url(#g2_6)"/><rect x="33.30" y="611.27" width="557.70" height="4.48" fill="url(#g2_7)"/><rect x="33.30" y="613.50" width="557.70" height="4.48" fill="url(#g2_8)"/><rect x="33.30" y="615.74" width="557.70" height="4.48" fill="url(#g2_9)"/><rect x="33.30" y="617.98" width="557.70" height="4.48" fill="url(#g2_10)"/><rect x="33.30" y="620.22" width="557.70" height="4.48" fill="url(#g2_11)"/><rect x="33.30" y="622.46" width="557.70" height="4.48" fill="url(#g2_12)"/><rect x="33.30" y="624.70" width="557.70" height="4.48" fill="url(#g2_13)"/><rect x="33.30" y="626.93" width="557.70" height="4.48" fill="url(#g2_14)"/><rect x="33.30" y="629.17" width="557.70" height="4.48" fill="url(#g2_15)"/><rect x="33.30" y="631.41" width="557.70" height="4.48" fill="url(#g2_16)"/><rect x="33.30" y="633.65" width="557.70" height="4.48" fill="url(#g2_17)"/><rect x="33.30" y="635.89" width="557.70" height="4.48" fill="url(#g2_18)"/><rect x="33.30" y="638.12" width="557.70" height="4.48" fill="url(#g2_19)"/><rect x="33.30" y="640.36" width="557.70" height="4.48" fill="url(#g2_20)"/><rect x="33.30" y="642.60" width="557.70" height="4.48" fill="url(#g2_21)"/><rect x="33.30" y="644.84" width="557.70" height="4.48" fill="url(#g2_22)"/><rect x="33.30" y="647.08" width="557.70" height="4.48" fill="url(#g2_23)"/><rect x="33.30" y="649.31" width="557.70" height="4.48" fill="url(#g2_24)"/><rect x="33.30" y="651.55" width="557.70" height="4.48" fill="url(#g2_25)"/><rect x="33.30" y="653.79" width="557.70" height="4.48" fill="url(#g2_26)"/><rect x="33.30" y="656.03" width="557.70" height="4.48" fill="url(#g2_27)"/><rect x="33.30" y="658.27" width="557.70" height="4.48" fill="url(#g2_28)"/><rect x="33.30" y="660.50" width="557.70" height="4.48" fill="url(#g2_29)"/><rect x="33.30" y="662.74" width="557.70" height="4.48" fill="url(#g2_30)"/><rect x="33.30" y="664.98" width="557.70" height="4.48" fill="url(#g2_31)"/><rect x="33.30" y="667.22" width="557.70" height="4.48" fill="url(#g2_32)"/><rect x="33.30" y="669.46" width="557.70" height="4.48" fill="url(#g2_33)"/><rect x="33.30" y="671.70" width="557.70" height="4.48" fill="url(#g2_34)"/><rect x="33.30" y="673.93" width="557.70" height="4.48" fill="url(#g2_35)"/><rect x="33.30" y="676.17" width="557.70" height="4.48" fill="url(#g2_36)"/><rect x="33.30" y="678.41" width="557.70" height="4.48" fill="url(#g2_37)"/><rect x="33.30" y="680.65" width="557.70" height="4.48" fill="url(#g2_38)"/><rect x="33.30" y="682.89" width="557.70" height="4.48" fill="url(#g2_39)"/><rect x="33.30" y="685.12" width="557.70" height="4.48" fill="url(#g2_40)"/><rect x="33.30" y="687.36" width="557.70" height="4.48" fill="url(#g2_41)"/><rect x="33.30" y="689.60" width="557.70" height="4.48" fill="url(#g2_42)"/><rect x="33.30" y="691.84" width="557.70" height="4.48" fill="#fe9f6d"/><rect x="33.30" y="694.08" width="557.70" height="4.48" fill="url(#g2_44)"/><rect x="33.30" y="696.31" width="557.70" height="4.48" fill="url(#g2_45)"/><rect x="33.30" y="698.55" width="557.70" height="4.48" fill="url(#g2_46)"/><rect x="33.30" y="700.79" width="557.70" height="4.48" fill="url(#g2_47)"/><rect x="33.30" y="703.03" width="557.70" height="4.48" fill="url(#g2_48)"/><rect x="33.30" y="705.27" width="557.70" height="4.48" fill="url(#g2_49)"/><rect x="33.30" y="707.50" width="557.70" height="4.48" fill="url(#g2_50)"/><rect x="33.30" y="709.74" width="557.70" height="4.48" fill="url(#g2_51)"/><rect x="33.30" y="711.98" width="557.70" height="4.48" fill="url(#g2_52)"/><rect x="33.30" y="714.22" width="557.70" height="4.48" fill="url(#g2_53)"/><rect x="33.30" y="716.46" width="557.70" height="4.48" fill="url(#g2_54)"/><rect x="33.30" y="718.70" width="557.70" height="4.48" fill="url(#g2_55)"/><rect x="33.30" y="720.93" width="557.70" height="4.48" fill="url(#g2_56)"/><rect x="33.30" y="723.17" width="557.70" height="4.48" fill="url(#g2_57)"/><rect x="33.30" y="725.41" width="557.70" height="4.48" fill="url(#g2_58)"/><rect x="33.30" y="727.65" width="557.70" height="4.48" fill="url(#g2_59)"/><rect x="33.30" y="729.89" width="557.70" height="4.48" fill="url(#g2_60)"/><rect x="33.30" y="732.12" width="557.70" height="4.48" fill="url(#g2_61)"/><rect x="33.30" y="734.36" width="557.70" height="4.48" fill="#fc8961"/><rect x="33.30" y="736.60" width="557.70" height="4.48" fill="url(#g2_63)"/><rect x="33.30" y="738.84" width="557.70" height="4.48" fill="url(#g2_64)"/><rect x="33.30" y="741.08" width="557.70" height="4.48" fill="url(#g2_65)"/><rect x="33.30" y="743.31" width="557.70" height="4.48" fill="url(#g2_66)"/><rect x="33.30" y="745.55" width="557.70" height="4.48" fill="url(#g2_67)"/><rect x="33.30" y="747.79" width="557.70" height="4.48" fill="url(#g2_68)"/><rect x="33.30" y="750.03" width="557.70" height="4.48" fill="url(#g2_69)"/><rect x="33.30" y="752.27" width="557.70" height="4.48" fill="url(#g2_70)"/><rect x="33.30" y="754.50" width="557.70" height="4.48" fill="url(#g2_71)"/><rect x="33.30" y="756.74" width="557.70" height="4.48" fill="url(#g2_72)"/><rect x="33.30" y="758.98" width="557.70" height="4.48" fill="url(#g2_73)"/><rect x="33.30" y="761.22" width="557.70" height="4.48" fill="url(#g2_74)"/><rect x="33.30" y="763.46" width="557.70" height="4.48" fill="url(#g2_75)"/><rect x="33.30" y="765.70" width="557.70" height="4.48" fill="url(#g2_76)"/><rect x="33.30" y="767.93" width="557.70" height="4.48" fill="url(#g2_77)"/><rect x="33.30" y="770.17" width="557.70" height="4.48" fill="url(#g2_78)"/><rect x="33.30" y="772.41" width="557.70" height="4.48" fill="url(#g2_79)"/><rect x="33.30" y="774.65" width="557.70" height="4.48" fill="url(#g2_80)"/><rect x="33.30" y="776.89" width="557.70" height="4.48" fill="#fe9f6d"/><rect x="33.30" y="779.12" width="557.70" height="4.48" fill="url(#g2_82)"/><rect x="33.30" y="781.36" width="557.70" height="5.24" fill="url(#g2_83)"/></g></g>
<rect x="36.30" y="595.60" width="551.70" height="188.00" fill="none" stroke="#000" stroke-width="0.7"/>
<text class="h" x="312.15" y="590.10" text-anchor="middle">Q-Transformed Spectrum: Normal Track</text>
<path d="M36.30 782.48h-3.5M36.30 780.24h-2M36.30 778.00h-2M36.30 775.77h-2M36.30 773.53h-2M36.30 771.29h-2M36.30 769.05h-2M36.30 766.81h-2M36.30 764.58h-2M36.30 762.34h-2M36.30 760.10h-2M36.30 757.86h-2M36.30 755.62h-3.5M36.30 753.39h-2M36.30 751.15h-2M36.30 748.91h-2M36.30 746.67h-2M36.30 744.43h-2M36.30 742.20h-2M36.30 739.96h-2M36.30 737.72h-2M36.30 735.48h-2M36.30 733.24h-2M36.30 731.00h-2M36.30 728.77h-3.5M36.30 726.53h-2M36.30 724.29h-2M36.30 722.05h-2M36.30 719.81h-2M36.30 717.58h-2M36.30 715.34h-2M36.30 713.10h-2M36.30 710.86h-2M36.30 708.62h-2M36.30 706.39h-2M36.30 704.15h-2M36.30 701.91h-3.5M36.30 699.67h-2M36.30 697.43h-2M36.30 695.20h-2M36.30 692.96h-2M36.30 690.72h-2M36.30 688.48h-2M36.30 686.24h-2M36.30 684.00h-2M36.30 681.77h-2M36.30 679.53h-2M36.30 677.29h-2M36.30 675.05h-3.5M36.30 672.81h-2M36.30 670.58h-2M36.30 668.34h-2M36.30 666.10h-2M36.30 663.86h-2M36.30 661.62h-2M36.30 659.39h-2M36.30 657.15h-2M36.30 654.91h-2M36.30 652.67h-2M36.30 650.43h-2M36.30 648.20h-3.5M36.30 645.96h-2M36.30 643.72h-2M36.30 641.48h-2M36.30 639.24h-2M36.30 637.00h-2M36.30 634.77h-2M36.30 632.53h-2M36.30 630.29h-2M36.30 628.05h-2M36.30 625.81h-2M36.30 623.58h-2M36.30 621.34h-3.5M36.30 619.10h-2M36.30 616.86h-2M36.30 614.62h-2M36.30 612.39h-2M36.30 610.15h-2M36.30 607.91h-2M36.30 605.67h-2M36.30 603.43h-2M36.30 601.20h-2M36.30 598.96h-2M36.30 596.72h-2" stroke="#000" stroke-width="0.8" fill="none"/>
<text class="t" x="30.50" y="786.08" text-anchor="end">C1</text>
<text class="t" x="30.50" y="759.22" text-anchor="end">C2</text>
<text class="t" x="30.50" y="732.37" text-anchor="end">C3</text>
<text class="t" x="30.50" y="705.51" text-anchor="end">C4</text>
<text class="t" x="30.50" y="678.65" text-anchor="end">C5</text>
<text class="t" x="30.50" y="651.80" text-anchor="end">C6</text>
<text class="t" x="30.50" y="624.94" text-anchor="end">C7</text>
<text class="t" x="40.00" y="796.80" text-anchor="middle">0</text>
<text class="t" x="176.40" y="796.80" text-anchor="middle">0.5</text>
<text class="t" x="312.80" y="796.80" text-anchor="middle">1</text>
<text class="t" x="449.20" y="796.80" text-anchor="middle">1.5</text>
<text class="t" x="585.60" y="796.80" text-anchor="middle">2</text>
<path d="M40.00 783.60v3M176.40 783.60v3M312.80 783.60v3M449.20 783.60v3M585.60 783.60v3" stroke="#000" stroke-width="0.7" fill="none"/>
<text class="l" x="312.15" y="814.00" text-anchor="middle">Time (seconds)</text>
<text class="l" transform="translate(12.60 689.60) rotate(-90)" text-anchor="middle">Frequency (log scale)</text>
<rect x="622.20" y="595.60" width="10.00" height="188.00" fill="url(#cb2)" stroke="#000" stroke-width="0.7"/>
<text class="t" x="638.20" y="599.20">+0 dB</text>
<text class="t" x="638.20" y="638.53">-10 dB</text>
<text class="t" x="638.20" y="677.86">-20 dB</text>
<text class="t" x="638.20" y="717.19">-30 dB</text>
<text class="t" x="638.20" y="756.52">-40 dB</text>
<path d="M632.20 595.60h3M632.20 634.93h3M632.20 674.26h3M632.20 713.59h3M632.20 752.92h3" stroke="#000" stroke-width="0.7" fill="none"/>
<text class="l" transform="translate(682.00 689.60) rotate(-90)" text-anchor="middle">Intensity (dB)</text>
<text class="c" x="340.00" y="853.60" text-anchor="middle">(c)</text>
</svg></body></html>
